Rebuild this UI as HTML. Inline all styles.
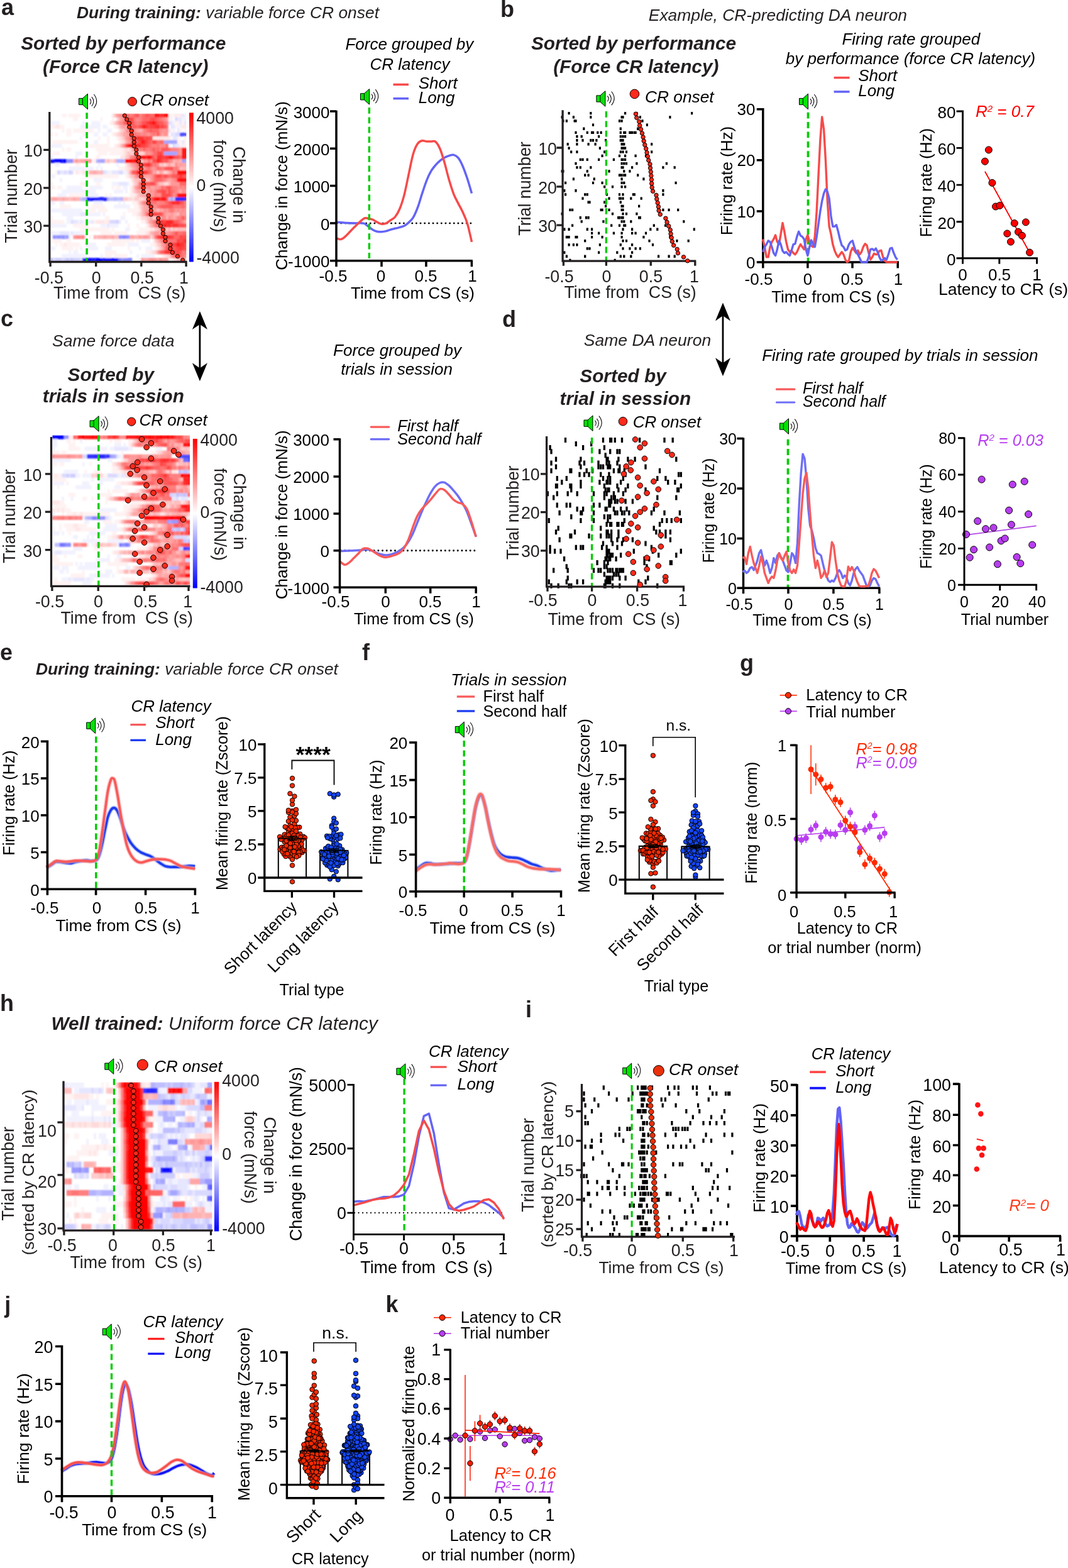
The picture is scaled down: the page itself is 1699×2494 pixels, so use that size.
<!DOCTYPE html>
<html lang="en"><head><meta charset="utf-8"><title>Figure</title>
<style>html,body{margin:0;padding:0;background:#fff}svg{display:block}svg{font-family:"Liberation Sans",Arial,Helvetica,sans-serif}</style></head>
<body>
<svg width="1699" height="2494" viewBox="0 0 1699 2494" font-size="26">
<rect width="1699" height="2494" fill="#fff"/>
<text x="2" y="24" font-size="36" font-weight="bold" fill="#231f20">a</text>
<text x="122" y="29.3" font-size="26.4" font-style="italic" fill="#231f20"><tspan font-weight="bold">During training:</tspan> variable force CR onset</text>
<text x="196.3" y="78.8" font-size="29.8" text-anchor="middle" font-weight="bold" font-style="italic" fill="#231f20">Sorted by performance</text>
<text x="199.7" y="115.5" font-size="29.8" text-anchor="middle" font-weight="bold" font-style="italic" fill="#231f20">(Force CR latency)</text>
<g transform="translate(125 149) scale(1)" stroke="#000" fill="none"><path d="M0.5 7.4H6.5L14.5 0.2V24.8L6.5 17.6H0.5Z" fill="#00e400" stroke-width="1" stroke-linejoin="miter"/><path d="M6.4 7.4V17.6" stroke-width="1"/><path d="M17.9 8.2Q21.7 12.5 17.9 16.8M20.9 5.2Q26.9 12.5 20.9 19.8M24.3 1Q33.1 12 24.3 22.8" stroke-width="1.05"/></g>
<circle cx="210.5" cy="161.6" r="7" fill="#ff2a1a" stroke="#000" stroke-width="1"/>
<text x="222.5" y="168.4" font-size="26.3" font-style="italic">CR onset</text>
<clipPath id="hm1"><rect x="80.4" y="180.4" width="215.9" height="235.8"/></clipPath>
<filter id="hm1b" x="-5%" y="-5%" width="110%" height="110%"><feGaussianBlur stdDeviation="1 0.8"/></filter>
<g clip-path="url(#hm1)"><g filter="url(#hm1b)">
<path d="M87.6 253h11.1v6.3h-11.1zM102 253h3.9v6.3h-3.9zM134.4 410.2h3.9v6.3h-3.9zM141.6 410.2h3.9v6.3h-3.9zM152.4 410.2h11.1v6.3h-11.1z" fill="#0000ff"/>
<path d="M76.4 253h11.5v6.3h-11.5zM98.4 253h3.9v6.3h-3.9zM138 313.4h3.9v6.3h-3.9zM145.2 313.4h3.9v6.3h-3.9zM138 410.2h3.9v6.3h-3.9zM166.8 410.2h18.3v6.3h-18.3z" fill="#0d0dff"/>
<path d="M141.6 313.4h3.9v6.3h-3.9zM148.8 313.4h7.5v6.3h-7.5zM159.6 313.4h3.9v6.3h-3.9zM166.8 313.4h3.9v6.3h-3.9zM130.8 410.2h3.9v6.3h-3.9zM145.2 410.2h7.5v6.3h-7.5zM163.2 410.2h3.9v6.3h-3.9zM184.8 410.2h3.9v6.3h-3.9z" fill="#1919ff"/>
<path d="M156 313.4h3.9v6.3h-3.9zM163.2 313.4h3.9v6.3h-3.9zM278.3 313.4h14.7v6.3h-14.7z" fill="#2626ff"/>
<path d="M292.7 313.4h7.9v6.3h-7.9z" fill="#3333ff"/>
<path d="M285.5 210.6h15.1v6.3h-15.1z" fill="#4d4dff"/>
<path d="M188.4 410.2h3.9v6.3h-3.9z" fill="#7373ff"/>
<path d="M195.5 373.9h3.9v6.3h-3.9zM195.5 410.2h14.7v6.3h-14.7z" fill="#8080ff"/>
<path d="M105.6 253h11.1v6.3h-11.1zM84 373.9h3.9v6.3h-3.9zM91.2 373.9h3.9v6.3h-3.9zM98.4 373.9h3.9v6.3h-3.9zM188.4 373.9h7.5v6.3h-7.5zM199.1 373.9h3.9v6.3h-3.9zM191.9 410.2h3.9v6.3h-3.9z" fill="#8c8cff"/>
<path d="M289.1 253h3.9v6.3h-3.9zM87.6 373.9h3.9v6.3h-3.9zM94.8 373.9h3.9v6.3h-3.9zM105.6 373.9h3.9v6.3h-3.9zM202.7 373.9h3.9v6.3h-3.9z" fill="#9999ff"/>
<path d="M260.3 222.7h21.9v6.3h-21.9zM260.3 240.9h21.9v6.3h-21.9zM156 253h11.1v6.3h-11.1zM191.9 253h3.9v6.3h-3.9zM292.7 253h7.9v6.3h-7.9zM271.1 313.4h3.9v6.3h-3.9zM102 373.9h3.9v6.3h-3.9z" fill="#a6a6ff"/>
<path d="M152.4 253h3.9v6.3h-3.9zM184.8 253h7.5v6.3h-7.5zM195.5 253h3.9v6.3h-3.9zM130.8 313.4h7.5v6.3h-7.5zM170.4 313.4h3.9v6.3h-3.9zM181.2 313.4h3.9v6.3h-3.9zM191.9 313.4h3.9v6.3h-3.9z" fill="#b2b2ff"/>
<path d="M127.2 313.4h3.9v6.3h-3.9zM174 313.4h7.5v6.3h-7.5zM184.8 313.4h7.5v6.3h-7.5zM267.5 313.4h3.9v6.3h-3.9zM274.7 313.4h3.9v6.3h-3.9zM76.4 410.2h7.9v6.3h-7.9zM105.6 410.2h3.9v6.3h-3.9zM112.8 410.2h3.9v6.3h-3.9z" fill="#bfbfff"/>
<path d="M91.2 271.1h3.9v6.3h-3.9zM109.2 271.1h3.9v6.3h-3.9zM184.8 349.7h3.9v6.3h-3.9zM87.6 410.2h11.1v6.3h-11.1zM102 410.2h3.9v6.3h-3.9zM109.2 410.2h3.9v6.3h-3.9zM116.4 410.2h11.1v6.3h-11.1z" fill="#ccccff"/>
<path d="M278.3 186.4h3.9v6.3h-3.9zM267.5 192.5h3.9v6.3h-3.9zM278.3 210.6h7.5v6.3h-7.5zM274.7 228.8h3.9v6.3h-3.9zM102 271.1h3.9v6.3h-3.9zM112.8 271.1h3.9v6.3h-3.9zM163.2 271.1h3.9v6.3h-3.9zM188.4 271.1h7.5v6.3h-7.5zM112.8 349.7h3.9v6.3h-3.9zM174 349.7h11.1v6.3h-11.1zM84 410.2h3.9v6.3h-3.9zM98.4 410.2h3.9v6.3h-3.9zM127.2 410.2h3.9v6.3h-3.9z" fill="#d9d9ff"/>
<path d="M289.1 180.4h3.9v6.3h-3.9zM281.9 186.4h7.5v6.3h-7.5zM271.1 192.5h3.9v6.3h-3.9zM285.5 192.5h3.9v6.3h-3.9zM292.7 192.5h7.9v6.3h-7.9zM271.1 198.5h7.5v6.3h-7.5zM267.5 204.6h3.9v6.3h-3.9zM281.9 204.6h3.9v6.3h-3.9zM271.1 210.6h7.5v6.3h-7.5zM274.7 216.7h7.5v6.3h-7.5zM289.1 222.7h3.9v6.3h-3.9zM278.3 228.8h7.5v6.3h-7.5zM94.8 271.1h7.5v6.3h-7.5zM105.6 271.1h3.9v6.3h-3.9zM166.8 271.1h3.9v6.3h-3.9zM177.6 271.1h11.1v6.3h-11.1zM188.4 289.2h14.7v6.3h-14.7zM127.2 337.6h11.1v6.3h-11.1zM116.4 349.7h7.5v6.3h-7.5zM127.2 349.7h3.9v6.3h-3.9zM138 349.7h3.9v6.3h-3.9zM145.2 349.7h3.9v6.3h-3.9zM188.4 349.7h3.9v6.3h-3.9zM170.4 355.7h3.9v6.3h-3.9zM94.8 367.8h14.7v6.3h-14.7zM112.8 367.8h3.9v6.3h-3.9z" fill="#e6e6ff"/>
<path d="M292.7 180.4h7.9v6.3h-7.9zM271.1 186.4h3.9v6.3h-3.9zM289.1 186.4h11.5v6.3h-11.5zM76.4 192.5h18.7v6.3h-18.7zM130.8 192.5h3.9v6.3h-3.9zM145.2 192.5h14.7v6.3h-14.7zM274.7 192.5h3.9v6.3h-3.9zM127.2 198.5h32.7v6.3h-32.7zM163.2 198.5h7.5v6.3h-7.5zM281.9 198.5h7.5v6.3h-7.5zM156 204.6h3.9v6.3h-3.9zM170.4 204.6h7.5v6.3h-7.5zM274.7 204.6h3.9v6.3h-3.9zM148.8 210.6h7.5v6.3h-7.5zM163.2 210.6h7.5v6.3h-7.5zM127.2 216.7h3.9v6.3h-3.9zM148.8 222.7h7.5v6.3h-7.5zM76.4 228.8h22.3v6.3h-22.3zM267.5 228.8h3.9v6.3h-3.9zM289.1 228.8h3.9v6.3h-3.9zM120 240.9h11.1v6.3h-11.1zM76.4 246.9h7.9v6.3h-7.9zM120 246.9h3.9v6.3h-3.9zM87.6 259h7.5v6.3h-7.5zM156 259h3.9v6.3h-3.9zM184.8 259h3.9v6.3h-3.9zM109.2 265h39.9v6.3h-39.9zM152.4 265h3.9v6.3h-3.9zM159.6 265h3.9v6.3h-3.9zM170.4 271.1h7.5v6.3h-7.5zM195.5 271.1h7.5v6.3h-7.5zM76.4 277.1h11.5v6.3h-11.5zM94.8 283.2h3.9v6.3h-3.9zM148.8 283.2h14.7v6.3h-14.7zM177.6 289.2h11.1v6.3h-11.1zM202.7 289.2h3.9v6.3h-3.9zM105.6 295.3h25.5v6.3h-25.5zM141.6 295.3h21.9v6.3h-21.9zM195.5 295.3h7.5v6.3h-7.5zM98.4 301.3h54.3v6.3h-54.3zM181.2 301.3h14.7v6.3h-14.7zM199.1 301.3h3.9v6.3h-3.9zM91.2 307.4h14.7v6.3h-14.7zM141.6 307.4h14.7v6.3h-14.7zM76.4 319.5h11.5v6.3h-11.5zM94.8 319.5h7.5v6.3h-7.5zM148.8 319.5h14.7v6.3h-14.7zM188.4 319.5h3.9v6.3h-3.9zM195.5 319.5h3.9v6.3h-3.9zM181.2 325.5h25.5v6.3h-25.5zM76.4 331.6h54.7v6.3h-54.7zM98.4 337.6h29.1v6.3h-29.1zM138 337.6h21.9v6.3h-21.9zM163.2 337.6h3.9v6.3h-3.9zM105.6 343.6h11.1v6.3h-11.1zM191.9 343.6h7.5v6.3h-7.5zM105.6 349.7h7.5v6.3h-7.5zM123.6 349.7h3.9v6.3h-3.9zM130.8 349.7h7.5v6.3h-7.5zM141.6 349.7h3.9v6.3h-3.9zM199.1 349.7h3.9v6.3h-3.9zM76.4 355.7h29.5v6.3h-29.5zM159.6 355.7h11.1v6.3h-11.1zM174 355.7h14.7v6.3h-14.7zM199.1 361.8h7.5v6.3h-7.5zM76.4 367.8h18.7v6.3h-18.7zM109.2 367.8h3.9v6.3h-3.9zM116.4 367.8h18.3v6.3h-18.3zM109.2 373.9h3.9v6.3h-3.9zM224.3 379.9h14.7v6.3h-14.7zM134.4 386h18.3v6.3h-18.3zM202.7 386h18.3v6.3h-18.3zM76.4 392h11.5v6.3h-11.5zM127.2 392h3.9v6.3h-3.9zM138 392h18.3v6.3h-18.3zM166.8 392h11.1v6.3h-11.1zM220.7 392h3.9v6.3h-3.9zM231.5 392h11.1v6.3h-11.1zM109.2 398.1h3.9v6.3h-3.9zM116.4 398.1h7.5v6.3h-7.5zM206.3 398.1h3.9v6.3h-3.9zM98.4 404.1h39.9v6.3h-39.9zM159.6 404.1h3.9v6.3h-3.9zM217.1 404.1h3.9v6.3h-3.9zM224.3 404.1h21.9v6.3h-21.9z" fill="#f2f2ff"/>
<path d="M98.4 180.4h7.5v6.3h-7.5zM109.2 180.4h18.3v6.3h-18.3zM267.5 180.4h11.1v6.3h-11.1zM281.9 180.4h3.9v6.3h-3.9zM116.4 186.4h7.5v6.3h-7.5zM159.6 186.4h3.9v6.3h-3.9zM177.6 186.4h3.9v6.3h-3.9zM267.5 186.4h3.9v6.3h-3.9zM174 192.5h3.9v6.3h-3.9zM278.3 192.5h7.5v6.3h-7.5zM289.1 192.5h3.9v6.3h-3.9zM76.4 198.5h11.5v6.3h-11.5zM94.8 198.5h7.5v6.3h-7.5zM181.2 198.5h3.9v6.3h-3.9zM278.3 198.5h3.9v6.3h-3.9zM98.4 204.6h3.9v6.3h-3.9zM105.6 204.6h7.5v6.3h-7.5zM116.4 204.6h32.7v6.3h-32.7zM271.1 204.6h3.9v6.3h-3.9zM285.5 204.6h3.9v6.3h-3.9zM292.7 204.6h7.9v6.3h-7.9zM76.4 210.6h7.9v6.3h-7.9zM87.6 210.6h3.9v6.3h-3.9zM105.6 210.6h7.5v6.3h-7.5zM130.8 210.6h7.5v6.3h-7.5zM177.6 210.6h3.9v6.3h-3.9zM156 216.7h3.9v6.3h-3.9zM170.4 216.7h3.9v6.3h-3.9zM184.8 216.7h3.9v6.3h-3.9zM281.9 216.7h3.9v6.3h-3.9zM292.7 216.7h7.9v6.3h-7.9zM84 222.7h39.9v6.3h-39.9zM170.4 222.7h3.9v6.3h-3.9zM188.4 222.7h3.9v6.3h-3.9zM281.9 222.7h7.5v6.3h-7.5zM292.7 222.7h7.9v6.3h-7.9zM141.6 228.8h32.7v6.3h-32.7zM181.2 228.8h3.9v6.3h-3.9zM285.5 228.8h3.9v6.3h-3.9zM292.7 228.8h7.9v6.3h-7.9zM98.4 234.8h3.9v6.3h-3.9zM105.6 234.8h7.5v6.3h-7.5zM152.4 234.8h43.5v6.3h-43.5zM84 240.9h11.1v6.3h-11.1zM156 240.9h14.7v6.3h-14.7zM174 240.9h21.9v6.3h-21.9zM152.4 246.9h7.5v6.3h-7.5zM145.2 253h7.5v6.3h-7.5zM120 259h7.5v6.3h-7.5zM188.4 265h11.1v6.3h-11.1zM87.6 271.1h3.9v6.3h-3.9zM123.6 271.1h7.5v6.3h-7.5zM134.4 277.1h54.3v6.3h-54.3zM199.1 277.1h3.9v6.3h-3.9zM206.3 283.2h3.9v6.3h-3.9zM76.4 289.2h7.9v6.3h-7.9zM127.2 289.2h11.1v6.3h-11.1zM152.4 289.2h7.5v6.3h-7.5zM76.4 295.3h11.5v6.3h-11.5zM91.2 295.3h7.5v6.3h-7.5zM177.6 295.3h3.9v6.3h-3.9zM184.8 295.3h7.5v6.3h-7.5zM206.3 295.3h3.9v6.3h-3.9zM206.3 301.3h3.9v6.3h-3.9zM109.2 307.4h25.5v6.3h-25.5zM166.8 307.4h3.9v6.3h-3.9zM174 307.4h3.9v6.3h-3.9zM206.3 307.4h7.5v6.3h-7.5zM209.9 319.5h7.5v6.3h-7.5zM94.8 325.5h18.3v6.3h-18.3zM138 325.5h3.9v6.3h-3.9zM145.2 325.5h21.9v6.3h-21.9zM213.5 325.5h7.5v6.3h-7.5zM141.6 331.6h11.1v6.3h-11.1zM156 331.6h14.7v6.3h-14.7zM202.7 331.6h18.3v6.3h-18.3zM195.5 337.6h3.9v6.3h-3.9zM209.9 337.6h7.5v6.3h-7.5zM76.4 343.6h7.9v6.3h-7.9zM166.8 343.6h7.5v6.3h-7.5zM217.1 343.6h7.5v6.3h-7.5zM76.4 349.7h25.9v6.3h-25.9zM148.8 349.7h3.9v6.3h-3.9zM166.8 349.7h3.9v6.3h-3.9zM224.3 349.7h7.5v6.3h-7.5zM116.4 355.7h25.5v6.3h-25.5zM202.7 355.7h3.9v6.3h-3.9zM217.1 355.7h3.9v6.3h-3.9zM231.5 355.7h3.9v6.3h-3.9zM127.2 361.8h47.1v6.3h-47.1zM177.6 361.8h3.9v6.3h-3.9zM220.7 361.8h18.3v6.3h-18.3zM159.6 367.8h18.3v6.3h-18.3zM181.2 367.8h21.9v6.3h-21.9zM217.1 367.8h14.7v6.3h-14.7zM134.4 373.9h3.9v6.3h-3.9zM141.6 373.9h3.9v6.3h-3.9zM84 379.9h14.7v6.3h-14.7zM105.6 379.9h7.5v6.3h-7.5zM177.6 379.9h36.3v6.3h-36.3zM217.1 379.9h3.9v6.3h-3.9zM242.3 379.9h3.9v6.3h-3.9zM87.6 386h3.9v6.3h-3.9zM94.8 386h7.5v6.3h-7.5zM105.6 386h21.9v6.3h-21.9zM170.4 386h29.1v6.3h-29.1zM238.7 386h7.5v6.3h-7.5zM98.4 392h18.3v6.3h-18.3zM120 392h3.9v6.3h-3.9zM202.7 392h3.9v6.3h-3.9zM245.9 392h3.9v6.3h-3.9zM166.8 398.1h18.3v6.3h-18.3zM231.5 398.1h7.5v6.3h-7.5zM166.8 404.1h11.1v6.3h-11.1zM181.2 404.1h21.9v6.3h-21.9zM256.7 404.1h3.9v6.3h-3.9zM220.7 410.2h3.9v6.3h-3.9zM267.5 410.2h7.5v6.3h-7.5z" fill="#fff2f2"/>
<path d="M177.6 180.4h3.9v6.3h-3.9zM278.3 180.4h3.9v6.3h-3.9zM285.5 180.4h3.9v6.3h-3.9zM177.6 192.5h3.9v6.3h-3.9zM87.6 198.5h7.5v6.3h-7.5zM184.8 198.5h3.9v6.3h-3.9zM289.1 198.5h11.5v6.3h-11.5zM188.4 204.6h3.9v6.3h-3.9zM181.2 210.6h3.9v6.3h-3.9zM188.4 216.7h3.9v6.3h-3.9zM242.3 216.7h29.1v6.3h-29.1zM191.9 222.7h3.9v6.3h-3.9zM184.8 228.8h3.9v6.3h-3.9zM195.5 234.8h3.9v6.3h-3.9zM202.7 234.8h3.9v6.3h-3.9zM195.5 240.9h3.9v6.3h-3.9zM191.9 246.9h7.5v6.3h-7.5zM199.1 259h3.9v6.3h-3.9zM199.1 265h3.9v6.3h-3.9zM120 271.1h3.9v6.3h-3.9zM130.8 271.1h11.1v6.3h-11.1zM202.7 277.1h3.9v6.3h-3.9zM209.9 289.2h3.9v6.3h-3.9zM213.5 307.4h3.9v6.3h-3.9zM209.9 313.4h3.9v6.3h-3.9zM217.1 319.5h3.9v6.3h-3.9zM220.7 331.6h3.9v6.3h-3.9zM217.1 337.6h3.9v6.3h-3.9zM152.4 349.7h14.7v6.3h-14.7zM170.4 349.7h3.9v6.3h-3.9zM238.7 361.8h7.5v6.3h-7.5zM231.5 367.8h3.9v6.3h-3.9zM102 386h3.9v6.3h-3.9zM245.9 386h3.9v6.3h-3.9zM249.5 392h3.9v6.3h-3.9zM238.7 398.1h3.9v6.3h-3.9zM260.3 404.1h3.9v6.3h-3.9zM274.7 410.2h3.9v6.3h-3.9z" fill="#ffe6e6"/>
<path d="M184.8 186.4h3.9v6.3h-3.9zM184.8 210.6h3.9v6.3h-3.9zM191.9 216.7h3.9v6.3h-3.9zM195.5 222.7h3.9v6.3h-3.9zM188.4 228.8h3.9v6.3h-3.9zM199.1 234.8h3.9v6.3h-3.9zM199.1 240.9h3.9v6.3h-3.9zM224.3 240.9h3.9v6.3h-3.9zM174 253h7.5v6.3h-7.5zM260.3 259h3.9v6.3h-3.9zM202.7 265h3.9v6.3h-3.9zM202.7 271.1h3.9v6.3h-3.9zM260.3 271.1h3.9v6.3h-3.9zM209.9 283.2h3.9v6.3h-3.9zM260.3 289.2h7.5v6.3h-7.5zM209.9 295.3h3.9v6.3h-3.9zM209.9 301.3h3.9v6.3h-3.9zM202.7 313.4h7.5v6.3h-7.5zM220.7 313.4h7.5v6.3h-7.5zM220.7 325.5h3.9v6.3h-3.9zM220.7 337.6h3.9v6.3h-3.9zM224.3 343.6h7.5v6.3h-7.5zM231.5 349.7h3.9v6.3h-3.9zM235.1 355.7h3.9v6.3h-3.9zM271.1 361.8h3.9v6.3h-3.9zM235.1 367.8h3.9v6.3h-3.9zM238.7 373.9h3.9v6.3h-3.9zM242.3 398.1h3.9v6.3h-3.9zM263.9 404.1h3.9v6.3h-3.9zM278.3 410.2h3.9v6.3h-3.9z" fill="#ffd9d9"/>
<path d="M181.2 192.5h3.9v6.3h-3.9zM191.9 204.6h3.9v6.3h-3.9zM188.4 210.6h3.9v6.3h-3.9zM206.3 234.8h3.9v6.3h-3.9zM206.3 240.9h7.5v6.3h-7.5zM220.7 240.9h3.9v6.3h-3.9zM199.1 246.9h3.9v6.3h-3.9zM166.8 253h3.9v6.3h-3.9zM202.7 259h3.9v6.3h-3.9zM253.1 259h3.9v6.3h-3.9zM206.3 265h3.9v6.3h-3.9zM249.5 271.1h3.9v6.3h-3.9zM263.9 271.1h3.9v6.3h-3.9zM206.3 277.1h3.9v6.3h-3.9zM227.9 283.2h3.9v6.3h-3.9zM213.5 289.2h3.9v6.3h-3.9zM224.3 301.3h3.9v6.3h-3.9zM217.1 307.4h3.9v6.3h-3.9zM195.5 313.4h7.5v6.3h-7.5zM213.5 313.4h7.5v6.3h-7.5zM227.9 313.4h3.9v6.3h-3.9zM231.5 343.6h3.9v6.3h-3.9zM242.3 343.6h7.5v6.3h-7.5zM245.9 361.8h3.9v6.3h-3.9zM263.9 361.8h3.9v6.3h-3.9zM278.3 361.8h3.9v6.3h-3.9zM245.9 379.9h3.9v6.3h-3.9zM249.5 386h3.9v6.3h-3.9zM253.1 392h3.9v6.3h-3.9zM245.9 398.1h3.9v6.3h-3.9zM267.5 404.1h3.9v6.3h-3.9z" fill="#ffcccc"/>
<path d="M181.2 180.4h3.9v6.3h-3.9zM188.4 198.5h3.9v6.3h-3.9zM195.5 204.6h3.9v6.3h-3.9zM191.9 210.6h3.9v6.3h-3.9zM195.5 216.7h3.9v6.3h-3.9zM202.7 240.9h3.9v6.3h-3.9zM213.5 240.9h7.5v6.3h-7.5zM227.9 240.9h3.9v6.3h-3.9zM202.7 246.9h3.9v6.3h-3.9zM170.4 253h3.9v6.3h-3.9zM181.2 253h3.9v6.3h-3.9zM224.3 253h3.9v6.3h-3.9zM256.7 259h3.9v6.3h-3.9zM263.9 259h3.9v6.3h-3.9zM271.1 259h7.5v6.3h-7.5zM285.5 265h3.9v6.3h-3.9zM156 271.1h3.9v6.3h-3.9zM209.9 277.1h3.9v6.3h-3.9zM213.5 283.2h7.5v6.3h-7.5zM231.5 283.2h7.5v6.3h-7.5zM253.1 289.2h7.5v6.3h-7.5zM267.5 289.2h3.9v6.3h-3.9zM213.5 301.3h3.9v6.3h-3.9zM227.9 301.3h3.9v6.3h-3.9zM109.2 313.4h3.9v6.3h-3.9zM220.7 319.5h3.9v6.3h-3.9zM224.3 325.5h3.9v6.3h-3.9zM224.3 331.6h3.9v6.3h-3.9zM249.5 331.6h3.9v6.3h-3.9zM224.3 337.6h3.9v6.3h-3.9zM281.9 337.6h3.9v6.3h-3.9zM235.1 343.6h3.9v6.3h-3.9zM249.5 343.6h3.9v6.3h-3.9zM249.5 361.8h3.9v6.3h-3.9zM274.7 361.8h3.9v6.3h-3.9zM281.9 361.8h18.7v6.3h-18.7zM152.4 373.9h3.9v6.3h-3.9zM181.2 373.9h7.5v6.3h-7.5zM253.1 386h3.9v6.3h-3.9zM281.9 410.2h3.9v6.3h-3.9z" fill="#ffbfbf"/>
<path d="M188.4 186.4h3.9v6.3h-3.9zM220.7 204.6h3.9v6.3h-3.9zM199.1 222.7h3.9v6.3h-3.9zM191.9 228.8h3.9v6.3h-3.9zM116.4 253h3.9v6.3h-3.9zM123.6 253h3.9v6.3h-3.9zM274.7 253h3.9v6.3h-3.9zM285.5 253h3.9v6.3h-3.9zM206.3 259h3.9v6.3h-3.9zM209.9 265h3.9v6.3h-3.9zM289.1 265h11.5v6.3h-11.5zM141.6 271.1h7.5v6.3h-7.5zM152.4 271.1h3.9v6.3h-3.9zM159.6 271.1h3.9v6.3h-3.9zM256.7 271.1h3.9v6.3h-3.9zM267.5 271.1h3.9v6.3h-3.9zM220.7 283.2h7.5v6.3h-7.5zM217.1 289.2h3.9v6.3h-3.9zM231.5 301.3h3.9v6.3h-3.9zM285.5 301.3h3.9v6.3h-3.9zM220.7 307.4h3.9v6.3h-3.9zM76.4 313.4h7.9v6.3h-7.9zM91.2 313.4h7.5v6.3h-7.5zM102 313.4h7.5v6.3h-7.5zM112.8 313.4h3.9v6.3h-3.9zM120 313.4h7.5v6.3h-7.5zM238.7 331.6h3.9v6.3h-3.9zM278.3 337.6h3.9v6.3h-3.9zM253.1 343.6h3.9v6.3h-3.9zM263.9 343.6h3.9v6.3h-3.9zM235.1 349.7h3.9v6.3h-3.9zM238.7 355.7h3.9v6.3h-3.9zM256.7 361.8h3.9v6.3h-3.9zM267.5 361.8h3.9v6.3h-3.9zM238.7 367.8h3.9v6.3h-3.9zM148.8 373.9h3.9v6.3h-3.9zM156 373.9h7.5v6.3h-7.5zM170.4 373.9h7.5v6.3h-7.5zM213.5 373.9h7.5v6.3h-7.5zM242.3 373.9h3.9v6.3h-3.9zM249.5 379.9h3.9v6.3h-3.9zM256.7 392h3.9v6.3h-3.9zM285.5 410.2h15.1v6.3h-15.1z" fill="#ffb2b2"/>
<path d="M263.9 186.4h3.9v6.3h-3.9zM184.8 192.5h3.9v6.3h-3.9zM191.9 198.5h3.9v6.3h-3.9zM199.1 198.5h3.9v6.3h-3.9zM217.1 204.6h3.9v6.3h-3.9zM224.3 204.6h3.9v6.3h-3.9zM195.5 210.6h7.5v6.3h-7.5zM256.7 210.6h3.9v6.3h-3.9zM209.9 234.8h3.9v6.3h-3.9zM127.2 253h7.5v6.3h-7.5zM138 253h3.9v6.3h-3.9zM220.7 253h3.9v6.3h-3.9zM278.3 253h7.5v6.3h-7.5zM267.5 259h3.9v6.3h-3.9zM281.9 259h3.9v6.3h-3.9zM289.1 259h11.5v6.3h-11.5zM224.3 265h3.9v6.3h-3.9zM148.8 271.1h3.9v6.3h-3.9zM242.3 271.1h7.5v6.3h-7.5zM253.1 271.1h3.9v6.3h-3.9zM220.7 277.1h3.9v6.3h-3.9zM227.9 277.1h11.1v6.3h-11.1zM267.5 283.2h3.9v6.3h-3.9zM249.5 289.2h3.9v6.3h-3.9zM213.5 295.3h3.9v6.3h-3.9zM238.7 295.3h7.5v6.3h-7.5zM217.1 301.3h7.5v6.3h-7.5zM235.1 301.3h3.9v6.3h-3.9zM224.3 307.4h7.5v6.3h-7.5zM84 313.4h7.5v6.3h-7.5zM98.4 313.4h3.9v6.3h-3.9zM116.4 313.4h3.9v6.3h-3.9zM227.9 325.5h7.5v6.3h-7.5zM227.9 331.6h3.9v6.3h-3.9zM235.1 331.6h3.9v6.3h-3.9zM245.9 331.6h3.9v6.3h-3.9zM253.1 331.6h7.5v6.3h-7.5zM227.9 337.6h3.9v6.3h-3.9zM263.9 337.6h7.5v6.3h-7.5zM274.7 337.6h3.9v6.3h-3.9zM238.7 343.6h3.9v6.3h-3.9zM274.7 343.6h3.9v6.3h-3.9zM292.7 349.7h7.9v6.3h-7.9zM253.1 361.8h3.9v6.3h-3.9zM260.3 361.8h3.9v6.3h-3.9zM242.3 367.8h3.9v6.3h-3.9zM253.1 367.8h3.9v6.3h-3.9zM163.2 373.9h7.5v6.3h-7.5zM177.6 373.9h3.9v6.3h-3.9zM206.3 373.9h7.5v6.3h-7.5zM224.3 373.9h3.9v6.3h-3.9zM235.1 373.9h3.9v6.3h-3.9zM227.9 410.2h7.5v6.3h-7.5zM249.5 410.2h3.9v6.3h-3.9z" fill="#ffa6a6"/>
<path d="M184.8 180.4h3.9v6.3h-3.9zM191.9 186.4h3.9v6.3h-3.9zM195.5 198.5h3.9v6.3h-3.9zM202.7 198.5h3.9v6.3h-3.9zM199.1 204.6h3.9v6.3h-3.9zM213.5 204.6h3.9v6.3h-3.9zM260.3 204.6h3.9v6.3h-3.9zM202.7 210.6h7.5v6.3h-7.5zM235.1 210.6h3.9v6.3h-3.9zM263.9 210.6h3.9v6.3h-3.9zM199.1 216.7h3.9v6.3h-3.9zM202.7 222.7h3.9v6.3h-3.9zM213.5 234.8h7.5v6.3h-7.5zM285.5 234.8h3.9v6.3h-3.9zM235.1 240.9h3.9v6.3h-3.9zM285.5 240.9h3.9v6.3h-3.9zM120 253h3.9v6.3h-3.9zM134.4 253h3.9v6.3h-3.9zM141.6 253h3.9v6.3h-3.9zM227.9 253h7.5v6.3h-7.5zM209.9 259h3.9v6.3h-3.9zM285.5 259h3.9v6.3h-3.9zM213.5 265h3.9v6.3h-3.9zM227.9 265h3.9v6.3h-3.9zM242.3 265h3.9v6.3h-3.9zM206.3 271.1h3.9v6.3h-3.9zM271.1 271.1h3.9v6.3h-3.9zM213.5 277.1h3.9v6.3h-3.9zM224.3 277.1h3.9v6.3h-3.9zM238.7 277.1h3.9v6.3h-3.9zM238.7 283.2h3.9v6.3h-3.9zM263.9 283.2h3.9v6.3h-3.9zM271.1 283.2h3.9v6.3h-3.9zM271.1 289.2h14.7v6.3h-14.7zM231.5 295.3h3.9v6.3h-3.9zM245.9 295.3h7.5v6.3h-7.5zM242.3 301.3h3.9v6.3h-3.9zM281.9 301.3h3.9v6.3h-3.9zM292.7 301.3h7.9v6.3h-7.9zM238.7 307.4h7.5v6.3h-7.5zM231.5 313.4h3.9v6.3h-3.9zM224.3 319.5h3.9v6.3h-3.9zM231.5 331.6h3.9v6.3h-3.9zM242.3 331.6h3.9v6.3h-3.9zM263.9 331.6h3.9v6.3h-3.9zM278.3 331.6h3.9v6.3h-3.9zM285.5 331.6h3.9v6.3h-3.9zM292.7 331.6h7.9v6.3h-7.9zM260.3 337.6h3.9v6.3h-3.9zM271.1 337.6h3.9v6.3h-3.9zM289.1 337.6h11.5v6.3h-11.5zM271.1 343.6h3.9v6.3h-3.9zM278.3 343.6h3.9v6.3h-3.9zM238.7 349.7h3.9v6.3h-3.9zM242.3 355.7h3.9v6.3h-3.9zM245.9 367.8h7.5v6.3h-7.5zM263.9 367.8h3.9v6.3h-3.9zM116.4 373.9h3.9v6.3h-3.9zM220.7 373.9h3.9v6.3h-3.9zM227.9 373.9h7.5v6.3h-7.5zM253.1 379.9h3.9v6.3h-3.9zM256.7 386h3.9v6.3h-3.9zM249.5 398.1h3.9v6.3h-3.9zM271.1 404.1h3.9v6.3h-3.9zM224.3 410.2h3.9v6.3h-3.9zM235.1 410.2h3.9v6.3h-3.9zM245.9 410.2h3.9v6.3h-3.9zM256.7 410.2h11.1v6.3h-11.1z" fill="#ff9999"/>
<path d="M188.4 180.4h11.1v6.3h-11.1zM195.5 186.4h3.9v6.3h-3.9zM217.1 186.4h3.9v6.3h-3.9zM260.3 186.4h3.9v6.3h-3.9zM188.4 192.5h7.5v6.3h-7.5zM253.1 204.6h7.5v6.3h-7.5zM263.9 204.6h3.9v6.3h-3.9zM209.9 210.6h3.9v6.3h-3.9zM224.3 210.6h3.9v6.3h-3.9zM231.5 210.6h3.9v6.3h-3.9zM253.1 210.6h3.9v6.3h-3.9zM260.3 210.6h3.9v6.3h-3.9zM202.7 216.7h3.9v6.3h-3.9zM195.5 228.8h3.9v6.3h-3.9zM253.1 228.8h11.1v6.3h-11.1zM281.9 234.8h3.9v6.3h-3.9zM231.5 240.9h3.9v6.3h-3.9zM238.7 240.9h3.9v6.3h-3.9zM281.9 240.9h3.9v6.3h-3.9zM206.3 246.9h3.9v6.3h-3.9zM238.7 253h3.9v6.3h-3.9zM271.1 253h3.9v6.3h-3.9zM213.5 259h3.9v6.3h-3.9zM249.5 259h3.9v6.3h-3.9zM278.3 259h3.9v6.3h-3.9zM220.7 265h3.9v6.3h-3.9zM238.7 265h3.9v6.3h-3.9zM245.9 265h3.9v6.3h-3.9zM281.9 265h3.9v6.3h-3.9zM278.3 271.1h3.9v6.3h-3.9zM274.7 283.2h3.9v6.3h-3.9zM217.1 295.3h3.9v6.3h-3.9zM235.1 295.3h3.9v6.3h-3.9zM253.1 295.3h3.9v6.3h-3.9zM281.9 295.3h3.9v6.3h-3.9zM289.1 295.3h3.9v6.3h-3.9zM238.7 301.3h3.9v6.3h-3.9zM289.1 301.3h3.9v6.3h-3.9zM231.5 307.4h7.5v6.3h-7.5zM249.5 307.4h7.5v6.3h-7.5zM274.7 307.4h3.9v6.3h-3.9zM249.5 319.5h3.9v6.3h-3.9zM235.1 325.5h14.7v6.3h-14.7zM260.3 331.6h3.9v6.3h-3.9zM281.9 331.6h3.9v6.3h-3.9zM289.1 331.6h3.9v6.3h-3.9zM285.5 337.6h3.9v6.3h-3.9zM256.7 343.6h7.5v6.3h-7.5zM267.5 343.6h3.9v6.3h-3.9zM289.1 349.7h3.9v6.3h-3.9zM256.7 367.8h7.5v6.3h-7.5zM267.5 367.8h3.9v6.3h-3.9zM120 373.9h11.1v6.3h-11.1zM260.3 386h3.9v6.3h-3.9zM292.7 404.1h7.9v6.3h-7.9zM238.7 410.2h7.5v6.3h-7.5zM253.1 410.2h3.9v6.3h-3.9z" fill="#ff8c8c"/>
<path d="M206.3 180.4h3.9v6.3h-3.9zM220.7 180.4h3.9v6.3h-3.9zM213.5 186.4h3.9v6.3h-3.9zM220.7 186.4h3.9v6.3h-3.9zM256.7 186.4h3.9v6.3h-3.9zM217.1 192.5h3.9v6.3h-3.9zM263.9 192.5h3.9v6.3h-3.9zM206.3 198.5h3.9v6.3h-3.9zM202.7 204.6h3.9v6.3h-3.9zM227.9 204.6h3.9v6.3h-3.9zM217.1 210.6h7.5v6.3h-7.5zM227.9 210.6h3.9v6.3h-3.9zM238.7 210.6h3.9v6.3h-3.9zM245.9 210.6h3.9v6.3h-3.9zM206.3 222.7h3.9v6.3h-3.9zM242.3 228.8h7.5v6.3h-7.5zM220.7 234.8h7.5v6.3h-7.5zM231.5 234.8h7.5v6.3h-7.5zM253.1 234.8h3.9v6.3h-3.9zM271.1 234.8h11.1v6.3h-11.1zM209.9 246.9h3.9v6.3h-3.9zM267.5 253h3.9v6.3h-3.9zM242.3 259h3.9v6.3h-3.9zM217.1 265h3.9v6.3h-3.9zM231.5 265h3.9v6.3h-3.9zM256.7 265h3.9v6.3h-3.9zM274.7 265h3.9v6.3h-3.9zM217.1 277.1h3.9v6.3h-3.9zM242.3 277.1h3.9v6.3h-3.9zM242.3 283.2h3.9v6.3h-3.9zM260.3 283.2h3.9v6.3h-3.9zM227.9 295.3h3.9v6.3h-3.9zM260.3 295.3h3.9v6.3h-3.9zM274.7 295.3h7.5v6.3h-7.5zM285.5 295.3h3.9v6.3h-3.9zM292.7 295.3h7.9v6.3h-7.9zM245.9 301.3h3.9v6.3h-3.9zM278.3 301.3h3.9v6.3h-3.9zM245.9 307.4h3.9v6.3h-3.9zM227.9 319.5h3.9v6.3h-3.9zM253.1 319.5h7.5v6.3h-7.5zM292.7 319.5h7.9v6.3h-7.9zM292.7 325.5h7.9v6.3h-7.9zM267.5 331.6h3.9v6.3h-3.9zM274.7 331.6h3.9v6.3h-3.9zM281.9 343.6h7.5v6.3h-7.5zM292.7 343.6h7.9v6.3h-7.9zM242.3 349.7h3.9v6.3h-3.9zM271.1 367.8h3.9v6.3h-3.9zM130.8 373.9h3.9v6.3h-3.9zM256.7 379.9h3.9v6.3h-3.9zM260.3 392h3.9v6.3h-3.9zM289.1 398.1h3.9v6.3h-3.9z" fill="#ff8080"/>
<path d="M199.1 180.4h3.9v6.3h-3.9zM209.9 180.4h3.9v6.3h-3.9zM224.3 180.4h3.9v6.3h-3.9zM224.3 186.4h3.9v6.3h-3.9zM253.1 186.4h3.9v6.3h-3.9zM213.5 192.5h3.9v6.3h-3.9zM220.7 192.5h3.9v6.3h-3.9zM260.3 192.5h3.9v6.3h-3.9zM263.9 198.5h3.9v6.3h-3.9zM209.9 204.6h3.9v6.3h-3.9zM231.5 204.6h3.9v6.3h-3.9zM213.5 210.6h3.9v6.3h-3.9zM242.3 210.6h3.9v6.3h-3.9zM249.5 222.7h3.9v6.3h-3.9zM238.7 228.8h3.9v6.3h-3.9zM249.5 228.8h3.9v6.3h-3.9zM238.7 234.8h3.9v6.3h-3.9zM245.9 234.8h3.9v6.3h-3.9zM242.3 240.9h3.9v6.3h-3.9zM245.9 246.9h3.9v6.3h-3.9zM285.5 246.9h3.9v6.3h-3.9zM235.1 253h3.9v6.3h-3.9zM217.1 259h3.9v6.3h-3.9zM224.3 259h3.9v6.3h-3.9zM245.9 259h3.9v6.3h-3.9zM235.1 265h3.9v6.3h-3.9zM253.1 265h3.9v6.3h-3.9zM278.3 265h3.9v6.3h-3.9zM238.7 271.1h3.9v6.3h-3.9zM274.7 271.1h3.9v6.3h-3.9zM267.5 277.1h3.9v6.3h-3.9zM256.7 283.2h3.9v6.3h-3.9zM278.3 283.2h3.9v6.3h-3.9zM220.7 289.2h3.9v6.3h-3.9zM245.9 289.2h3.9v6.3h-3.9zM220.7 295.3h7.5v6.3h-7.5zM271.1 295.3h3.9v6.3h-3.9zM263.9 301.3h3.9v6.3h-3.9zM274.7 301.3h3.9v6.3h-3.9zM278.3 307.4h3.9v6.3h-3.9zM235.1 313.4h3.9v6.3h-3.9zM238.7 319.5h11.1v6.3h-11.1zM260.3 319.5h3.9v6.3h-3.9zM249.5 325.5h3.9v6.3h-3.9zM274.7 325.5h14.7v6.3h-14.7zM271.1 331.6h3.9v6.3h-3.9zM231.5 337.6h3.9v6.3h-3.9zM285.5 349.7h3.9v6.3h-3.9zM245.9 355.7h3.9v6.3h-3.9zM253.1 355.7h3.9v6.3h-3.9zM274.7 367.8h3.9v6.3h-3.9zM281.9 367.8h7.5v6.3h-7.5zM245.9 373.9h3.9v6.3h-3.9zM267.5 379.9h11.1v6.3h-11.1zM253.1 398.1h3.9v6.3h-3.9zM292.7 398.1h7.9v6.3h-7.9zM274.7 404.1h3.9v6.3h-3.9zM289.1 404.1h3.9v6.3h-3.9z" fill="#ff7373"/>
<path d="M202.7 180.4h3.9v6.3h-3.9zM227.9 180.4h3.9v6.3h-3.9zM238.7 180.4h7.5v6.3h-7.5zM199.1 186.4h3.9v6.3h-3.9zM227.9 186.4h11.1v6.3h-11.1zM249.5 186.4h3.9v6.3h-3.9zM195.5 192.5h3.9v6.3h-3.9zM217.1 198.5h3.9v6.3h-3.9zM206.3 204.6h3.9v6.3h-3.9zM235.1 204.6h3.9v6.3h-3.9zM242.3 204.6h11.1v6.3h-11.1zM206.3 216.7h3.9v6.3h-3.9zM213.5 222.7h3.9v6.3h-3.9zM238.7 222.7h3.9v6.3h-3.9zM253.1 222.7h7.5v6.3h-7.5zM235.1 228.8h3.9v6.3h-3.9zM263.9 228.8h3.9v6.3h-3.9zM227.9 234.8h3.9v6.3h-3.9zM249.5 234.8h3.9v6.3h-3.9zM267.5 234.8h3.9v6.3h-3.9zM245.9 240.9h3.9v6.3h-3.9zM220.7 259h3.9v6.3h-3.9zM249.5 265h3.9v6.3h-3.9zM260.3 265h3.9v6.3h-3.9zM235.1 271.1h3.9v6.3h-3.9zM256.7 277.1h3.9v6.3h-3.9zM271.1 277.1h3.9v6.3h-3.9zM245.9 283.2h11.1v6.3h-11.1zM285.5 289.2h15.1v6.3h-15.1zM256.7 295.3h3.9v6.3h-3.9zM271.1 301.3h3.9v6.3h-3.9zM271.1 307.4h3.9v6.3h-3.9zM231.5 319.5h7.5v6.3h-7.5zM263.9 319.5h3.9v6.3h-3.9zM253.1 325.5h3.9v6.3h-3.9zM289.1 325.5h3.9v6.3h-3.9zM256.7 337.6h3.9v6.3h-3.9zM245.9 349.7h7.5v6.3h-7.5zM281.9 349.7h3.9v6.3h-3.9zM249.5 355.7h3.9v6.3h-3.9zM289.1 367.8h11.5v6.3h-11.5zM278.3 373.9h7.5v6.3h-7.5zM260.3 379.9h7.5v6.3h-7.5zM278.3 379.9h3.9v6.3h-3.9zM263.9 386h7.5v6.3h-7.5zM281.9 404.1h7.5v6.3h-7.5z" fill="#ff6666"/>
<path d="M213.5 180.4h3.9v6.3h-3.9zM235.1 180.4h3.9v6.3h-3.9zM209.9 186.4h3.9v6.3h-3.9zM245.9 186.4h3.9v6.3h-3.9zM209.9 192.5h3.9v6.3h-3.9zM224.3 192.5h3.9v6.3h-3.9zM253.1 192.5h7.5v6.3h-7.5zM209.9 198.5h7.5v6.3h-7.5zM238.7 204.6h3.9v6.3h-3.9zM249.5 210.6h3.9v6.3h-3.9zM209.9 216.7h7.5v6.3h-7.5zM209.9 222.7h3.9v6.3h-3.9zM217.1 222.7h3.9v6.3h-3.9zM235.1 222.7h3.9v6.3h-3.9zM242.3 234.8h3.9v6.3h-3.9zM256.7 234.8h11.1v6.3h-11.1zM256.7 240.9h3.9v6.3h-3.9zM213.5 246.9h3.9v6.3h-3.9zM242.3 246.9h3.9v6.3h-3.9zM278.3 246.9h7.5v6.3h-7.5zM260.3 253h7.5v6.3h-7.5zM238.7 259h3.9v6.3h-3.9zM263.9 265h7.5v6.3h-7.5zM209.9 271.1h7.5v6.3h-7.5zM245.9 277.1h3.9v6.3h-3.9zM263.9 277.1h3.9v6.3h-3.9zM274.7 277.1h7.5v6.3h-7.5zM292.7 277.1h7.9v6.3h-7.9zM224.3 289.2h3.9v6.3h-3.9zM231.5 289.2h7.5v6.3h-7.5zM263.9 295.3h3.9v6.3h-3.9zM249.5 301.3h7.5v6.3h-7.5zM238.7 313.4h3.9v6.3h-3.9zM263.9 313.4h3.9v6.3h-3.9zM289.1 319.5h3.9v6.3h-3.9zM256.7 325.5h18.3v6.3h-18.3zM289.1 343.6h3.9v6.3h-3.9zM278.3 349.7h3.9v6.3h-3.9zM292.7 355.7h7.9v6.3h-7.9zM274.7 373.9h3.9v6.3h-3.9zM263.9 392h3.9v6.3h-3.9zM274.7 392h3.9v6.3h-3.9zM256.7 398.1h3.9v6.3h-3.9zM285.5 398.1h3.9v6.3h-3.9z" fill="#ff5959"/>
<path d="M217.1 180.4h3.9v6.3h-3.9zM231.5 180.4h3.9v6.3h-3.9zM202.7 186.4h3.9v6.3h-3.9zM238.7 186.4h7.5v6.3h-7.5zM199.1 192.5h7.5v6.3h-7.5zM227.9 192.5h3.9v6.3h-3.9zM249.5 192.5h3.9v6.3h-3.9zM220.7 198.5h3.9v6.3h-3.9zM235.1 198.5h3.9v6.3h-3.9zM253.1 198.5h3.9v6.3h-3.9zM260.3 198.5h3.9v6.3h-3.9zM227.9 216.7h3.9v6.3h-3.9zM235.1 216.7h7.5v6.3h-7.5zM245.9 222.7h3.9v6.3h-3.9zM199.1 228.8h3.9v6.3h-3.9zM231.5 228.8h3.9v6.3h-3.9zM249.5 240.9h3.9v6.3h-3.9zM242.3 253h7.5v6.3h-7.5zM256.7 253h3.9v6.3h-3.9zM271.1 265h3.9v6.3h-3.9zM253.1 277.1h3.9v6.3h-3.9zM260.3 277.1h3.9v6.3h-3.9zM281.9 277.1h3.9v6.3h-3.9zM289.1 277.1h3.9v6.3h-3.9zM227.9 289.2h3.9v6.3h-3.9zM238.7 289.2h7.5v6.3h-7.5zM267.5 295.3h3.9v6.3h-3.9zM256.7 301.3h7.5v6.3h-7.5zM267.5 301.3h3.9v6.3h-3.9zM256.7 307.4h14.7v6.3h-14.7zM267.5 319.5h3.9v6.3h-3.9zM285.5 319.5h3.9v6.3h-3.9zM235.1 337.6h3.9v6.3h-3.9zM242.3 337.6h3.9v6.3h-3.9zM249.5 337.6h7.5v6.3h-7.5zM274.7 349.7h3.9v6.3h-3.9zM285.5 355.7h7.5v6.3h-7.5zM278.3 367.8h3.9v6.3h-3.9zM289.1 373.9h11.5v6.3h-11.5zM285.5 379.9h3.9v6.3h-3.9zM271.1 386h3.9v6.3h-3.9zM292.7 386h7.9v6.3h-7.9zM271.1 392h3.9v6.3h-3.9zM278.3 392h3.9v6.3h-3.9zM292.7 392h7.9v6.3h-7.9zM278.3 398.1h3.9v6.3h-3.9zM278.3 404.1h3.9v6.3h-3.9z" fill="#ff4d4d"/>
<path d="M206.3 186.4h3.9v6.3h-3.9zM206.3 192.5h3.9v6.3h-3.9zM231.5 192.5h3.9v6.3h-3.9zM238.7 198.5h7.5v6.3h-7.5zM256.7 198.5h3.9v6.3h-3.9zM231.5 216.7h3.9v6.3h-3.9zM220.7 222.7h3.9v6.3h-3.9zM231.5 222.7h3.9v6.3h-3.9zM242.3 222.7h3.9v6.3h-3.9zM224.3 228.8h7.5v6.3h-7.5zM253.1 240.9h3.9v6.3h-3.9zM217.1 246.9h3.9v6.3h-3.9zM256.7 246.9h7.5v6.3h-7.5zM274.7 246.9h3.9v6.3h-3.9zM227.9 259h3.9v6.3h-3.9zM231.5 271.1h3.9v6.3h-3.9zM249.5 277.1h3.9v6.3h-3.9zM271.1 319.5h3.9v6.3h-3.9zM238.7 337.6h3.9v6.3h-3.9zM245.9 337.6h3.9v6.3h-3.9zM253.1 349.7h3.9v6.3h-3.9zM260.3 349.7h3.9v6.3h-3.9zM271.1 355.7h3.9v6.3h-3.9zM281.9 355.7h3.9v6.3h-3.9zM249.5 373.9h3.9v6.3h-3.9zM271.1 373.9h3.9v6.3h-3.9zM285.5 373.9h3.9v6.3h-3.9zM281.9 379.9h3.9v6.3h-3.9zM289.1 379.9h3.9v6.3h-3.9zM274.7 386h3.9v6.3h-3.9zM267.5 392h3.9v6.3h-3.9zM281.9 392h3.9v6.3h-3.9zM289.1 392h3.9v6.3h-3.9zM260.3 398.1h3.9v6.3h-3.9zM281.9 398.1h3.9v6.3h-3.9z" fill="#ff4040"/>
<path d="M253.1 180.4h3.9v6.3h-3.9zM235.1 192.5h3.9v6.3h-3.9zM245.9 192.5h3.9v6.3h-3.9zM224.3 198.5h3.9v6.3h-3.9zM231.5 198.5h3.9v6.3h-3.9zM245.9 198.5h3.9v6.3h-3.9zM217.1 216.7h11.1v6.3h-11.1zM249.5 246.9h7.5v6.3h-7.5zM263.9 246.9h3.9v6.3h-3.9zM253.1 253h3.9v6.3h-3.9zM231.5 259h7.5v6.3h-7.5zM220.7 271.1h3.9v6.3h-3.9zM227.9 271.1h3.9v6.3h-3.9zM285.5 277.1h3.9v6.3h-3.9zM242.3 313.4h3.9v6.3h-3.9zM253.1 313.4h3.9v6.3h-3.9zM278.3 319.5h3.9v6.3h-3.9zM256.7 349.7h3.9v6.3h-3.9zM256.7 355.7h3.9v6.3h-3.9zM263.9 355.7h3.9v6.3h-3.9zM274.7 355.7h7.5v6.3h-7.5zM253.1 373.9h3.9v6.3h-3.9zM267.5 373.9h3.9v6.3h-3.9zM292.7 379.9h7.9v6.3h-7.9zM278.3 386h3.9v6.3h-3.9zM285.5 386h7.5v6.3h-7.5zM285.5 392h3.9v6.3h-3.9zM263.9 398.1h7.5v6.3h-7.5z" fill="#ff3333"/>
<path d="M256.7 180.4h3.9v6.3h-3.9zM238.7 192.5h3.9v6.3h-3.9zM249.5 198.5h3.9v6.3h-3.9zM227.9 222.7h3.9v6.3h-3.9zM213.5 228.8h11.1v6.3h-11.1zM231.5 246.9h3.9v6.3h-3.9zM238.7 246.9h3.9v6.3h-3.9zM217.1 271.1h3.9v6.3h-3.9zM224.3 271.1h3.9v6.3h-3.9zM274.7 319.5h3.9v6.3h-3.9zM281.9 319.5h3.9v6.3h-3.9zM263.9 349.7h11.1v6.3h-11.1zM267.5 355.7h3.9v6.3h-3.9zM256.7 373.9h3.9v6.3h-3.9zM271.1 398.1h7.5v6.3h-7.5z" fill="#ff2626"/>
<path d="M249.5 180.4h3.9v6.3h-3.9zM260.3 180.4h3.9v6.3h-3.9zM227.9 198.5h3.9v6.3h-3.9zM224.3 222.7h3.9v6.3h-3.9zM202.7 228.8h3.9v6.3h-3.9zM289.1 234.8h11.5v6.3h-11.5zM289.1 240.9h11.5v6.3h-11.5zM267.5 246.9h7.5v6.3h-7.5zM289.1 246.9h11.5v6.3h-11.5zM209.9 253h3.9v6.3h-3.9zM217.1 253h3.9v6.3h-3.9zM249.5 253h3.9v6.3h-3.9zM256.7 313.4h7.5v6.3h-7.5zM260.3 355.7h3.9v6.3h-3.9zM260.3 373.9h7.5v6.3h-7.5zM281.9 386h3.9v6.3h-3.9z" fill="#ff1919"/>
<path d="M245.9 180.4h3.9v6.3h-3.9zM242.3 192.5h3.9v6.3h-3.9zM224.3 246.9h7.5v6.3h-7.5zM202.7 253h7.5v6.3h-7.5zM281.9 271.1h18.7v6.3h-18.7zM281.9 283.2h18.7v6.3h-18.7zM281.9 307.4h18.7v6.3h-18.7zM245.9 313.4h3.9v6.3h-3.9z" fill="#ff0d0d"/>
<path d="M263.9 180.4h3.9v6.3h-3.9zM206.3 228.8h7.5v6.3h-7.5zM220.7 246.9h3.9v6.3h-3.9zM235.1 246.9h3.9v6.3h-3.9zM199.1 253h3.9v6.3h-3.9zM213.5 253h3.9v6.3h-3.9zM249.5 313.4h3.9v6.3h-3.9z" fill="#ff0000"/>
</g></g>
<path d="M138.1 179.3V416" stroke="#0c0" stroke-width="3.4" stroke-dasharray="9.8 5.6"/>
<g fill="#ff2a1a" stroke="#000" stroke-width="1"><circle cx="198.3" cy="183.9" r="3.1"/><circle cx="201.8" cy="190" r="3.1"/><circle cx="205.7" cy="196" r="3.1"/><circle cx="205.7" cy="202.1" r="3.1"/><circle cx="209.2" cy="208.1" r="3.1"/><circle cx="209.2" cy="214.2" r="3.1"/><circle cx="213.3" cy="220.2" r="3.1"/><circle cx="213.3" cy="226.2" r="3.1"/><circle cx="213.3" cy="232.3" r="3.1"/><circle cx="216.8" cy="238.3" r="3.1"/><circle cx="216.8" cy="244.4" r="3.1"/><circle cx="220.6" cy="250.4" r="3.1"/><circle cx="220.6" cy="256.5" r="3.1"/><circle cx="224.4" cy="262.5" r="3.1"/><circle cx="224.4" cy="268.6" r="3.1"/><circle cx="224.4" cy="274.6" r="3.1"/><circle cx="224.4" cy="280.7" r="3.1"/><circle cx="228.2" cy="286.7" r="3.1"/><circle cx="228.2" cy="292.8" r="3.1"/><circle cx="228.2" cy="298.8" r="3.1"/><circle cx="228.2" cy="304.8" r="3.1"/><circle cx="236.3" cy="310.9" r="3.1"/><circle cx="236.3" cy="316.9" r="3.1"/><circle cx="236.3" cy="323" r="3.1"/><circle cx="240.2" cy="329" r="3.1"/><circle cx="240.2" cy="335.1" r="3.1"/><circle cx="240.2" cy="341.1" r="3.1"/><circle cx="251.8" cy="347.2" r="3.1"/><circle cx="251.8" cy="353.2" r="3.1"/><circle cx="255.4" cy="359.3" r="3.1"/><circle cx="259.4" cy="365.3" r="3.1"/><circle cx="259.4" cy="371.4" r="3.1"/><circle cx="263" cy="377.4" r="3.1"/><circle cx="263" cy="383.4" r="3.1"/><circle cx="270.9" cy="389.5" r="3.1"/><circle cx="270.9" cy="395.5" r="3.1"/><circle cx="274.4" cy="401.6" r="3.1"/><circle cx="282.5" cy="407.6" r="3.1"/><circle cx="290.7" cy="413.7" r="3.1"/></g>
<path d="M78.8 178V418M77.3 416.5H297.6M80.1 416.5v7.6M152.7 416.5v7.6M224.8 416.5v7.6M296.1 416.5v7.6M78.8 238.3h-9.6M78.8 298.8h-9.6M78.8 359.1h-9.6" stroke="#231f20" stroke-width="3.3" fill="none"/>
<text x="77.8" y="450.8" font-size="26.8" text-anchor="middle" fill="#231f20">-0.5</text>
<text x="153.2" y="450.8" font-size="26.8" text-anchor="middle" fill="#231f20">0</text>
<text x="226.2" y="450.8" font-size="26.8" text-anchor="middle" fill="#231f20">0.5</text>
<text x="292.5" y="450.8" font-size="26.8" text-anchor="middle" fill="#231f20">1</text>
<text x="190.2" y="474.6" font-size="26.8" text-anchor="middle" fill="#231f20">Time from  CS (s)</text>
<text x="67.4" y="249.2" font-size="26.8" text-anchor="end" fill="#231f20">10</text>
<text x="67.4" y="309.7" font-size="26.8" text-anchor="end" fill="#231f20">20</text>
<text x="67.4" y="370" font-size="26.8" text-anchor="end" fill="#231f20">30</text>
<text transform="translate(27.2 311.7) rotate(-90)" font-size="26.8" text-anchor="middle" fill="#231f20">Trial number</text>
<linearGradient id="cb1" x1="0" y1="0" x2="0" y2="1"><stop offset="0" stop-color="#f00"/><stop offset="0.5" stop-color="#fff"/><stop offset="1" stop-color="#00f"/></linearGradient>
<rect x="301" y="179.3" width="6.8" height="237.2" fill="url(#cb1)"/>
<text x="312.4" y="196.9" font-size="26.8" fill="#231f20">4000</text>
<text x="312.4" y="304.4" font-size="26.8" fill="#231f20">0</text>
<text x="312.4" y="419" font-size="26.8" fill="#231f20">-4000</text>
<text transform="translate(370.6 294) rotate(90)" font-size="26.8" text-anchor="middle" fill="#231f20">Change in</text>
<text transform="translate(339.7 296) rotate(90)" font-size="26.8" text-anchor="middle" fill="#231f20">force (mN/s)</text>
<text x="651.3" y="78.8" text-anchor="middle" font-style="italic">Force grouped by</text>
<text x="652" y="110.8" text-anchor="middle" font-style="italic">CR latency</text>
<path d="M625.5 134.5L650 134.5" stroke="#f74a4a" stroke-width="3.5"/>
<text x="665.7" y="140.7" font-style="italic">Short</text>
<path d="M625.5 156.7L650 156.7" stroke="#6464f6" stroke-width="3.5"/>
<text x="665.7" y="163.8" font-style="italic">Long</text>
<g transform="translate(573 141.3) scale(1)" stroke="#000" fill="none"><path d="M0.5 7.4H6.5L14.5 0.2V24.8L6.5 17.6H0.5Z" fill="#00e400" stroke-width="1" stroke-linejoin="miter"/><path d="M6.4 7.4V17.6" stroke-width="1"/><path d="M17.9 8.2Q21.7 12.5 17.9 16.8M20.9 5.2Q26.9 12.5 20.9 19.8M24.3 1Q33.1 12 24.3 22.8" stroke-width="1.05"/></g>
<path d="M536 355.1H751" stroke="#000" stroke-width="2.9" stroke-linecap="round" stroke-dasharray="0.1 6.55"/>
<path d="M535.2 353.3C537.6 353.5 544.8 354.2 549.6 354.5C554.4 354.8 559.2 355 564 355.1C568.7 355.2 574.7 354.3 578.3 355.1C581.9 355.9 583.1 358.2 585.5 359.9C587.9 361.5 590.3 363.8 592.6 365.2C595 366.6 597.4 367.6 599.8 368.2C602.2 368.8 604.6 368.9 607 368.8C609.4 368.7 611.8 368.2 614.2 367.6C616.6 367 617.8 366.2 621.4 365.2C624.9 364.2 632.1 362.6 635.7 361.6C639.3 360.6 640.5 360.5 642.9 359.3C645.3 358 647.7 356.1 650 353.9C652.4 351.7 654.8 350.1 657.2 346.2C659.6 342.2 662 336.6 664.4 330.2C666.8 323.7 669.2 314.8 671.6 307.6C674 300.4 676.4 292.7 678.8 286.8C681.1 280.9 683.5 276 685.9 271.9C688.3 267.9 690.7 265.2 693.1 262.4C695.5 259.7 697.9 257.3 700.3 255.3C702.7 253.3 705.1 251.8 707.5 250.6C709.8 249.3 712.2 248.3 714.6 247.6C717 246.9 719.4 245.8 721.8 246.4C724.2 247 726.6 248.2 729 251.2C731.4 254.1 733.8 258.8 736.1 264.2C738.5 269.7 740.9 276.6 743.3 283.8C745.7 291 749.3 303.6 750.5 307.6" stroke="#6464f6" stroke-width="3.5" fill="none"/>
<path d="M535.2 378.9C536.4 379.2 540 381.1 542.4 380.6C544.8 380.1 546 379.2 549.6 375.9C553.2 372.6 559.2 365.7 564 361C568.7 356.4 574.7 350.2 578.3 348C581.9 345.7 583.1 347.2 585.5 347.4C587.9 347.6 590.3 348.2 592.6 349.2C595 350.2 597.4 352.1 599.8 353.3C602.2 354.5 604.6 356 607 356.3C609.4 356.6 611.8 356.1 614.2 355.1C616.6 354.1 619 352 621.4 350.3C623.7 348.7 626.1 348 628.5 345C630.9 342 633.3 338.3 635.7 332.5C638.1 326.8 640.5 319.7 642.9 310.6C645.3 301.4 647.7 288.8 650 277.9C652.4 267 654.8 253.4 657.2 245.2C659.6 237 662 232.1 664.4 228.6C666.8 225 669.2 224.4 671.6 223.8C674 223.2 676.4 224.8 678.8 225C681.1 225.2 683.5 224.9 685.9 225C688.3 225.1 690.7 223.5 693.1 225.6C695.5 227.7 697.9 231.7 700.3 237.5C702.7 243.2 705.1 251.8 707.5 260.1C709.8 268.3 712.2 278.7 714.6 286.8C717 294.9 719.4 302.6 721.8 308.8C724.2 314.9 726.6 318.9 729 323.6C731.4 328.4 733.8 332 736.1 337.3C738.5 342.5 740.9 347.2 743.3 355.1C745.7 363 749.3 379.9 750.5 384.8" stroke="#f74a4a" stroke-width="3.5" fill="none"/>
<path d="M587.4 171V411" stroke="#0c0" stroke-width="3.4" stroke-dasharray="9.8 5.6"/>
<path d="M535 175.7V416.2M533.6 414.8H751.8M535 414.8v9.5M607 414.8v9.5M677.9 414.8v9.5M750.4 414.8v9.5M535 177.1h-10M535 236.3h-10M535 295.6h-10M535 355.1h-10M535 414.8h-10" stroke="#000" stroke-width="3.5" fill="none"/>
<text x="530" y="447.5" text-anchor="middle">-0.5</text>
<text x="606" y="447.5" text-anchor="middle">0</text>
<text x="677.5" y="447.5" text-anchor="middle">0.5</text>
<text x="751.5" y="447.5" text-anchor="middle">1</text>
<text x="656.5" y="474.6" text-anchor="middle">Time from CS (s)</text>
<text x="524.5" y="187.6" text-anchor="end">3000</text>
<text x="524.5" y="246.8" text-anchor="end">2000</text>
<text x="524.5" y="306.1" text-anchor="end">1000</text>
<text x="524.5" y="365.6" text-anchor="end">0</text>
<text x="524.5" y="425.3" text-anchor="end">-1000</text>
<text transform="translate(457 295.4) rotate(-90)" text-anchor="middle">Change in force (mN/s)</text>
<text x="796" y="26.6" font-size="36" font-weight="bold" fill="#231f20">b</text>
<text x="1031.8" y="33.1" font-size="26.4" font-style="italic" fill="#231f20">Example, CR-predicting DA neuron</text>
<text x="1008" y="78.8" font-size="29.8" text-anchor="middle" font-weight="bold" font-style="italic" fill="#231f20">Sorted by performance</text>
<text x="1011.8" y="115.5" font-size="29.8" text-anchor="middle" font-weight="bold" font-style="italic" fill="#231f20">(Force CR latency)</text>
<g transform="translate(948.4 144.5) scale(1)" stroke="#000" fill="none"><path d="M0.5 7.4H6.5L14.5 0.2V24.8L6.5 17.6H0.5Z" fill="#00e400" stroke-width="1" stroke-linejoin="miter"/><path d="M6.4 7.4V17.6" stroke-width="1"/><path d="M17.9 8.2Q21.7 12.5 17.9 16.8M20.9 5.2Q26.9 12.5 20.9 19.8M24.3 1Q33.1 12 24.3 22.8" stroke-width="1.05"/></g>
<circle cx="1009.5" cy="149.4" r="7.3" fill="#ff2a1a" stroke="#000" stroke-width="1"/>
<text x="1026" y="163" font-size="26.3" font-style="italic">CR onset</text>
<path d="M905.1 178v4.3M939.8 178v4.3M994.6 178v4.3M1012.9 178v4.3M1100.6 178v4.3M894.1 184.2v4.3M912.4 184.2v4.3M939.8 184.2v4.3M989.1 184.2v4.3M991 184.2v4.3M1018.4 184.2v4.3M1065.9 184.2v4.3M895.9 190.3v4.3M901.4 190.3v4.3M914.2 190.3v4.3M916 190.3v4.3M985.5 190.3v4.3M989.1 190.3v4.3M1022 190.3v4.3M943.5 196.5v4.3M1029.4 196.5v4.3M928.8 202.6v4.3M987.3 202.6v4.3M1014.7 202.6v4.3M916 208.8v4.3M934.3 208.8v4.3M941.6 208.8v4.3M943.5 208.8v4.3M950.8 208.8v4.3M956.2 208.8v4.3M987.3 208.8v4.3M992.8 208.8v4.3M994.6 208.8v4.3M1001.9 208.8v4.3M1003.8 208.8v4.3M1005.6 208.8v4.3M1009.3 208.8v4.3M1011.1 208.8v4.3M917.9 214.9v4.3M925.2 214.9v4.3M952.6 214.9v4.3M987.3 214.9v4.3M991 214.9v4.3M994.6 214.9v4.3M917.9 221.1v4.3M927 221.1v4.3M939.8 221.1v4.3M943.5 221.1v4.3M948.9 221.1v4.3M963.6 221.1v4.3M987.3 221.1v4.3M989.1 221.1v4.3M991 221.1v4.3M903.2 227.2v4.3M917.9 227.2v4.3M936.1 227.2v4.3M947.1 227.2v4.3M989.1 227.2v4.3M991 227.2v4.3M992.8 227.2v4.3M1036.7 227.2v4.3M905.1 233.4v4.3M954.4 233.4v4.3M989.1 233.4v4.3M991 233.4v4.3M992.8 233.4v4.3M994.6 233.4v4.3M1027.5 233.4v4.3M908.7 239.5v4.3M917.9 239.5v4.3M961.7 239.5v4.3M987.3 239.5v4.3M991 239.5v4.3M996.5 239.5v4.3M1036.7 239.5v4.3M958.1 245.7v4.3M985.5 245.7v4.3M994.6 245.7v4.3M1011.1 245.7v4.3M1027.5 245.7v4.3M923.3 251.8v4.3M927 251.8v4.3M934.3 251.8v4.3M952.6 251.8v4.3M976.4 251.8v4.3M989.1 251.8v4.3M991 251.8v4.3M994.6 251.8v4.3M916 258v4.3M989.1 258v4.3M992.8 258v4.3M996.5 258v4.3M1012.9 258v4.3M1060.4 258v4.3M917.9 264.2v4.3M923.3 264.2v4.3M939.8 264.2v4.3M989.1 264.2v4.3M991 264.2v4.3M1005.6 264.2v4.3M1054.9 264.2v4.3M1073.2 264.2v4.3M894.1 270.3v4.3M895.9 270.3v4.3M934.3 270.3v4.3M969 270.3v4.3M992.8 270.3v4.3M1001.9 270.3v4.3M930.7 276.5v4.3M936.1 276.5v4.3M985.5 276.5v4.3M987.3 276.5v4.3M989.1 276.5v4.3M992.8 276.5v4.3M994.6 276.5v4.3M1014.7 276.5v4.3M912.4 282.6v4.3M945.3 282.6v4.3M989.1 282.6v4.3M1023.9 282.6v4.3M899.6 288.8v4.3M943.5 288.8v4.3M958.1 288.8v4.3M989.1 288.8v4.3M992.8 288.8v4.3M1075.1 288.8v4.3M961.7 294.9v4.3M974.5 294.9v4.3M989.1 294.9v4.3M994.6 294.9v4.3M897.8 301.1v4.3M916 301.1v4.3M1054.9 301.1v4.3M899.6 307.2v4.3M930.7 307.2v4.3M934.3 307.2v4.3M965.4 307.2v4.3M985.5 307.2v4.3M991 307.2v4.3M1007.4 307.2v4.3M1009.3 307.2v4.3M1054.9 307.2v4.3M927 313.4v4.3M969 313.4v4.3M985.5 313.4v4.3M987.3 313.4v4.3M991 313.4v4.3M1003.8 313.4v4.3M1020.2 313.4v4.3M936.1 319.5v4.3M938 319.5v4.3M961.7 319.5v4.3M987.3 319.5v4.3M963.6 325.7v4.3M989.1 325.7v4.3M991 325.7v4.3M1016.6 325.7v4.3M906.9 331.8v4.3M910.6 331.8v4.3M956.2 331.8v4.3M958.1 331.8v4.3M969 331.8v4.3M989.1 331.8v4.3M991 331.8v4.3M1054.9 331.8v4.3M1064.1 331.8v4.3M1078.7 331.8v4.3M894.1 338v4.3M974.5 338v4.3M991 338v4.3M996.5 338v4.3M1012.9 338v4.3M923.3 344.1v4.3M932.5 344.1v4.3M936.1 344.1v4.3M983.7 344.1v4.3M985.5 344.1v4.3M989.1 344.1v4.3M991 344.1v4.3M1016.6 344.1v4.3M1018.4 344.1v4.3M925.2 350.2v4.3M959.9 350.2v4.3M989.1 350.2v4.3M992.8 350.2v4.3M1003.8 350.2v4.3M1087.8 350.2v4.3M910.6 356.4v4.3M972.7 356.4v4.3M985.5 356.4v4.3M992.8 356.4v4.3M994.6 356.4v4.3M1040.3 356.4v4.3M1058.6 356.4v4.3M897.8 362.6v4.3M905.1 362.6v4.3M934.3 362.6v4.3M941.6 362.6v4.3M991 362.6v4.3M1005.6 362.6v4.3M1034.8 362.6v4.3M1045.8 362.6v4.3M1104.3 362.6v4.3M941.6 368.7v4.3M952.6 368.7v4.3M976.4 368.7v4.3M989.1 368.7v4.3M1005.6 368.7v4.3M1011.1 368.7v4.3M1027.5 368.7v4.3M901.4 374.9v4.3M903.2 374.9v4.3M905.1 374.9v4.3M916 374.9v4.3M917.9 374.9v4.3M941.6 374.9v4.3M958.1 374.9v4.3M989.1 374.9v4.3M1023.9 374.9v4.3M1065.9 374.9v4.3M930.7 381v4.3M991 381v4.3M996.5 381v4.3M1033 381v4.3M1076.9 381v4.3M1095.2 381v4.3M905.1 387.2v4.3M912.4 387.2v4.3M917.9 387.2v4.3M954.4 387.2v4.3M987.3 387.2v4.3M1005.6 387.2v4.3M1038.5 387.2v4.3M934.3 393.3v4.3M938 393.3v4.3M991 393.3v4.3M1001.9 393.3v4.3M1011.1 393.3v4.3M1018.4 393.3v4.3M895.9 399.5v4.3M897.8 399.5v4.3M952.6 399.5v4.3M981.8 399.5v4.3M1005.6 399.5v4.3M901.4 405.6v4.3M930.7 405.6v4.3M987.3 405.6v4.3M992.8 405.6v4.3M1003.8 405.6v4.3M1047.6 405.6v4.3M1064.1 405.6v4.3M1073.2 405.6v4.3M906.9 411.8v4.3M978.2 411.8v4.3" stroke="#000" stroke-width="3.2" fill="none"/>
<path d="M964.4 177V415" stroke="#0c0" stroke-width="3.4" stroke-dasharray="9.8 5.6"/>
<path d="M895.1 175.2V416.6M893.6 415.1H1107.3M896.4 415.1v7.6M964.4 415.1v7.6M1035.3 415.1v7.6M1105.8 415.1v7.6M895.1 235h-9.6M895.1 296.9h-9.6M895.1 358.1h-9.6" stroke="#231f20" stroke-width="3.3" fill="none"/>
<g fill="#ff2a1a" stroke="#000" stroke-width="1"><circle cx="1011.4" cy="181.2" r="3.2"/><circle cx="1012.8" cy="187.3" r="3.2"/><circle cx="1016.8" cy="193.5" r="3.2"/><circle cx="1017.7" cy="199.6" r="3.2"/><circle cx="1019.6" cy="205.8" r="3.2"/><circle cx="1021.5" cy="211.9" r="3.2"/><circle cx="1023.1" cy="218.1" r="3.2"/><circle cx="1024.2" cy="224.2" r="3.2"/><circle cx="1025.8" cy="230.4" r="3.2"/><circle cx="1027.7" cy="236.5" r="3.2"/><circle cx="1029.1" cy="242.7" r="3.2"/><circle cx="1030.4" cy="248.8" r="3.2"/><circle cx="1031.8" cy="255" r="3.2"/><circle cx="1034" cy="261.1" r="3.2"/><circle cx="1034.5" cy="267.3" r="3.2"/><circle cx="1035.3" cy="273.4" r="3.2"/><circle cx="1035.9" cy="279.6" r="3.2"/><circle cx="1036.4" cy="285.8" r="3.2"/><circle cx="1036.7" cy="291.9" r="3.2"/><circle cx="1037.2" cy="298.1" r="3.2"/><circle cx="1038.6" cy="304.2" r="3.2"/><circle cx="1044" cy="310.4" r="3.2"/><circle cx="1044.8" cy="316.5" r="3.2"/><circle cx="1046.2" cy="322.6" r="3.2"/><circle cx="1047.5" cy="328.8" r="3.2"/><circle cx="1048.1" cy="334.9" r="3.2"/><circle cx="1050.3" cy="341.1" r="3.2"/><circle cx="1058.9" cy="347.2" r="3.2"/><circle cx="1061.1" cy="353.4" r="3.2"/><circle cx="1063.8" cy="359.6" r="3.2"/><circle cx="1066.3" cy="365.7" r="3.2"/><circle cx="1067.1" cy="371.9" r="3.2"/><circle cx="1068.2" cy="378" r="3.2"/><circle cx="1069.3" cy="384.1" r="3.2"/><circle cx="1071.7" cy="390.3" r="3.2"/><circle cx="1077.2" cy="396.4" r="3.2"/><circle cx="1078.5" cy="402.6" r="3.2"/><circle cx="1087.5" cy="408.8" r="3.2"/><circle cx="1093.7" cy="414.9" r="3.2"/></g>
<text x="889.5" y="448.6" font-size="26.8" text-anchor="middle" fill="#231f20">-0.5</text>
<text x="965" y="448.6" font-size="26.8" text-anchor="middle" fill="#231f20">0</text>
<text x="1035.5" y="448.6" font-size="26.8" text-anchor="middle" fill="#231f20">0.5</text>
<text x="1104.5" y="448.6" font-size="26.8" text-anchor="middle" fill="#231f20">1</text>
<text x="1002.6" y="474" font-size="26.8" text-anchor="middle" fill="#231f20">Time from  CS (s)</text>
<text x="886" y="245.9" font-size="26.8" text-anchor="end" fill="#231f20">10</text>
<text x="886" y="307.8" font-size="26.8" text-anchor="end" fill="#231f20">20</text>
<text x="886" y="369" font-size="26.8" text-anchor="end" fill="#231f20">30</text>
<text transform="translate(843.5 300) rotate(-90)" font-size="26.8" text-anchor="middle" fill="#231f20">Trial number</text>
<text x="1449.3" y="70.5" text-anchor="middle" font-style="italic">Firing rate grouped</text>
<text x="1448.5" y="101.6" text-anchor="middle" font-style="italic">by performance (force CR latency)</text>
<path d="M1326.6 123.6L1351.5 123.6" stroke="#f74a4a" stroke-width="3.5"/>
<text x="1365.2" y="128.9" font-style="italic">Short</text>
<path d="M1326.6 145.9L1351.5 145.9" stroke="#6464f6" stroke-width="3.5"/>
<text x="1365.2" y="153.1" font-style="italic">Long</text>
<g transform="translate(1271 149) scale(1)" stroke="#000" fill="none"><path d="M0.5 7.4H6.5L14.5 0.2V24.8L6.5 17.6H0.5Z" fill="#00e400" stroke-width="1" stroke-linejoin="miter"/><path d="M6.4 7.4V17.6" stroke-width="1"/><path d="M17.9 8.2Q21.7 12.5 17.9 16.8M20.9 5.2Q26.9 12.5 20.9 19.8M24.3 1Q33.1 12 24.3 22.8" stroke-width="1.05"/></g>
<path d="M1285.5 178.7V417" stroke="#0c0" stroke-width="3.7" stroke-dasharray="9.8 5.6"/>
<path d="M1213.8 172V418.7M1212.1 417H1429.9M1213.8 417v9.5M1284.9 417v9.5M1356 417v9.5M1428.2 417v9.5M1213.8 173.7h-10M1213.8 254.8h-10M1213.8 335.9h-10M1213.8 417h-10" stroke="#000" stroke-width="3.5" fill="none"/>
<path d="M1213.6 380.5L1216.5 392.7L1219.3 408.9L1222.2 408.9L1225 392.7L1227.9 384.6L1230.7 380.5L1233.6 374L1236.4 384.6L1239.3 388.6L1242.1 372.4L1245 354.6L1247.8 368.3L1250.7 384.6L1253.5 396.7L1256.4 400.8L1259.2 398.3L1262.1 402.4L1264.9 404.8L1267.8 400.8L1270.6 394.3L1273.5 388.6L1276.3 392.7L1279.2 396.7L1282 380.5L1284.9 374L1287.8 384.6L1290.6 391L1293.5 392.7L1296.3 376.4L1299.2 335.9L1302 279.1L1304.9 222.4L1307.7 185.9L1310.6 206.1L1313.4 254.8L1316.3 319.7L1319.1 360.2L1322 372.4L1324.8 388.6L1327.7 398.3L1330.5 404.8L1333.4 408.9L1336.2 404.8L1339.1 400.8L1341.9 404.8L1344.8 412.9L1347.6 417L1350.5 414.6L1353.3 400.8L1356.2 394.3L1359.1 398.3L1361.9 402.4L1364.8 398.3L1367.6 404.8L1370.5 400.8L1373.3 392.7L1376.2 387.8L1379 390.2L1381.9 402.4L1384.7 412.9L1387.6 408.9L1390.4 403.2L1393.3 404.8L1396.1 404L1399 399.2L1401.8 398.3L1404.7 408.9L1407.5 414.6L1410.4 417L1413.2 417L1427.5 417" stroke="#f74a4a" stroke-width="3.4" fill="none" stroke-linejoin="round"/>
<path d="M1213.6 400.8L1216.5 392.7L1219.3 388.6L1222.2 382.9L1225 384.6L1227.9 392.7L1230.7 402.4L1233.6 406.5L1236.4 396.7L1239.3 382.9L1242.1 388.6L1245 399.2L1247.8 402.4L1250.7 400.8L1253.5 404L1256.4 406.5L1259.2 398.3L1262.1 388.6L1264.9 387.8L1267.8 376.4L1270.6 368.3L1273.5 374.8L1276.3 376.4L1279.2 380.5L1282 396.7L1284.9 406.5L1287.8 392.7L1290.6 382.1L1293.5 388.6L1296.3 392.7L1299.2 376.4L1302 356.2L1304.9 335.9L1307.7 319.7L1310.6 307.5L1313.4 301L1316.3 305.1L1319.1 315.6L1322 344L1324.8 360.2L1327.7 360.2L1330.5 357.8L1333.4 368.3L1336.2 380.5L1339.1 390.2L1341.9 392.7L1344.8 398.3L1347.6 396.7L1350.5 388.6L1353.3 384.6L1356.2 382.9L1359.1 392.7L1361.9 400.8L1364.8 404.8L1367.6 410.5L1370.5 417L1373.3 417L1379 417L1381.9 408.9L1384.7 396.7L1387.6 395.9L1390.4 398.3L1393.3 395.1L1396.1 400.8L1399 408.9L1401.8 414.6L1404.7 412.9L1407.5 410.5L1410.4 412.9L1413.2 404.8L1416.1 395.1L1418.9 394.3L1421.8 402.4L1424.6 408.9L1427.5 412.9" stroke="#6464f6" stroke-width="3.4" fill="none" stroke-linejoin="round"/>
<text x="1207" y="453.3" text-anchor="middle">-0.5</text>
<text x="1285" y="453.3" text-anchor="middle">0</text>
<text x="1355.5" y="453.3" text-anchor="middle">0.5</text>
<text x="1429" y="453.3" text-anchor="middle">1</text>
<text x="1325.6" y="481" text-anchor="middle">Time from CS (s)</text>
<text x="1201.5" y="183.3" text-anchor="end">30</text>
<text x="1201.5" y="264.4" text-anchor="end">20</text>
<text x="1201.5" y="345.5" text-anchor="end">10</text>
<text x="1201.5" y="426.6" text-anchor="end">0</text>
<text transform="translate(1164.5 287.5) rotate(-90)" text-anchor="middle">Firing rate (Hz)</text>
<path d="M1566.9 272.8L1637.4 400.7" stroke="#f00" stroke-width="1.8"/>
<g fill="#f00" stroke="#000" stroke-width="1"><circle cx="1572.8" cy="238.4" r="5.5"/><circle cx="1566.9" cy="256.7" r="5.5"/><circle cx="1578.4" cy="290.8" r="5.5"/><circle cx="1583.9" cy="328.5" r="5.5"/><circle cx="1590.5" cy="326.9" r="5.5"/><circle cx="1613.8" cy="355.1" r="5.5"/><circle cx="1631.8" cy="353.4" r="5.5"/><circle cx="1602.3" cy="371.5" r="5.5"/><circle cx="1620" cy="368.9" r="5.5"/><circle cx="1625.9" cy="374.8" r="5.5"/><circle cx="1607.9" cy="384.6" r="5.5"/><circle cx="1638" cy="401.6" r="5.5"/></g>
<path d="M1531.5 175.6V412.2M1530.1 410.8H1650.9M1531.5 410.8v9M1589.8 410.8v9M1649.5 410.8v9M1531.5 177h-10M1531.5 235.4h-10M1531.5 294.1h-10M1531.5 352.8h-10M1531.5 410.8h-10" stroke="#000" stroke-width="2.9" fill="none"/>
<text x="1531.5" y="445.8" text-anchor="middle">0</text>
<text x="1590" y="445.8" text-anchor="middle">0.5</text>
<text x="1649.5" y="445.8" text-anchor="middle">1</text>
<text x="1596" y="468.7" font-size="26.5" text-anchor="middle">Latency to CR (s)</text>
<text x="1520.5" y="187.8" text-anchor="end">80</text>
<text x="1520.5" y="246.2" text-anchor="end">60</text>
<text x="1520.5" y="304.9" text-anchor="end">40</text>
<text x="1520.5" y="363.6" text-anchor="end">20</text>
<text x="1520.5" y="421.6" text-anchor="end">0</text>
<text transform="translate(1481.5 290.5) rotate(-90)" text-anchor="middle">Firing rate (Hz)</text>
<text x="1552" y="186" font-style="italic" fill="#f00">R<tspan font-size="15" dy="-8">2</tspan><tspan dy="8"> = 0.7</tspan></text>
<text x="1" y="519.4" font-size="36" font-weight="bold" fill="#231f20">c</text>
<text x="180.2" y="550.6" font-size="26.5" text-anchor="middle" font-style="italic" fill="#231f20">Same force data</text>
<path d="M317.9 512.4L317.9 588.9" stroke="#000" stroke-width="2.8"/>
<path d="M317.9 495L329.9 524L317.9 515.9L305.9 524Z"/>
<path d="M317.9 606.3L329.9 577.3L317.9 585.4L305.9 577.3Z"/>
<text x="176.3" y="605.5" font-size="29.8" text-anchor="middle" font-weight="bold" font-style="italic" fill="#231f20">Sorted by</text>
<text x="180.4" y="640.3" font-size="29.8" text-anchor="middle" font-weight="bold" font-style="italic" fill="#231f20">trials in session</text>
<g transform="translate(142.6 661.5) scale(1)" stroke="#000" fill="none"><path d="M0.5 7.4H6.5L14.5 0.2V24.8L6.5 17.6H0.5Z" fill="#00e400" stroke-width="1" stroke-linejoin="miter"/><path d="M6.4 7.4V17.6" stroke-width="1"/><path d="M17.9 8.2Q21.7 12.5 17.9 16.8M20.9 5.2Q26.9 12.5 20.9 19.8M24.3 1Q33.1 12 24.3 22.8" stroke-width="1.05"/></g>
<circle cx="209.2" cy="670.7" r="6.6" fill="#ff2a1a" stroke="#000" stroke-width="1"/>
<text x="221.4" y="677" font-style="italic">CR onset</text>
<clipPath id="hm2"><rect x="83.5" y="692.2" width="218.5" height="238.4"/></clipPath>
<filter id="hm2b" x="-5%" y="-5%" width="110%" height="110%"><feGaussianBlur stdDeviation="1 0.8"/></filter>
<g clip-path="url(#hm2)"><g filter="url(#hm2b)">
<path d="M79.5 692.2h22.5v6.4h-22.5z" fill="#0000ff"/>
<path d="M149.1 722.8h3.9v6.4h-3.9zM156.3 722.8h11.2v6.4h-11.2zM170.9 722.8h3.9v6.4h-3.9z" fill="#2626ff"/>
<path d="M138.1 722.8h11.2v6.4h-11.2zM152.7 722.8h3.9v6.4h-3.9zM283.8 722.8h3.9v6.4h-3.9z" fill="#3333ff"/>
<path d="M167.3 722.8h3.9v6.4h-3.9zM291.1 869.5h7.6v6.4h-7.6z" fill="#4040ff"/>
<path d="M287.4 722.8h18.9v6.4h-18.9zM298.4 869.5h7.9v6.4h-7.9z" fill="#4d4dff"/>
<path d="M298.4 728.9h7.9v6.4h-7.9z" fill="#5959ff"/>
<path d="M291.1 728.9h7.6v6.4h-7.6z" fill="#6666ff"/>
<path d="M94.4 863.4h7.6v6.4h-7.6zM189.1 863.4h3.9v6.4h-3.9zM200 863.4h3.9v6.4h-3.9z" fill="#7373ff"/>
<path d="M149.1 820.6h3.9v6.4h-3.9zM101.7 863.4h3.9v6.4h-3.9z" fill="#8080ff"/>
<path d="M105.3 692.2h3.9v6.4h-3.9zM145.4 820.6h3.9v6.4h-3.9zM156.3 820.6h3.9v6.4h-3.9zM163.6 820.6h3.9v6.4h-3.9zM105.3 863.4h7.6v6.4h-7.6zM192.8 863.4h7.6v6.4h-7.6zM203.7 863.4h3.9v6.4h-3.9z" fill="#8c8cff"/>
<path d="M101.7 692.2h3.9v6.4h-3.9zM174.5 722.8h3.9v6.4h-3.9zM152.7 820.6h3.9v6.4h-3.9zM160 820.6h3.9v6.4h-3.9zM265.6 826.7h3.9v6.4h-3.9zM272.9 826.7h11.2v6.4h-11.2z" fill="#9999ff"/>
<path d="M178.2 722.8h3.9v6.4h-3.9zM269.2 826.7h3.9v6.4h-3.9z" fill="#a6a6ff"/>
<path d="M181.8 722.8h3.9v6.4h-3.9zM283.8 747.2h3.9v6.4h-3.9zM138.1 820.6h7.6v6.4h-7.6zM269.2 900h14.9v6.4h-14.9z" fill="#b2b2ff"/>
<path d="M291.1 747.2h7.6v6.4h-7.6zM280.1 783.9h3.9v6.4h-3.9zM291.1 783.9h3.9v6.4h-3.9zM134.5 820.6h3.9v6.4h-3.9zM272.9 838.9h3.9v6.4h-3.9zM280.1 838.9h7.6v6.4h-7.6zM291.1 838.9h3.9v6.4h-3.9zM291.1 857.2h3.9v6.4h-3.9zM298.4 857.2h7.9v6.4h-7.9zM87.1 863.4h7.6v6.4h-7.6zM265.6 900h3.9v6.4h-3.9z" fill="#bfbfff"/>
<path d="M287.4 747.2h3.9v6.4h-3.9zM298.4 747.2h7.9v6.4h-7.9zM105.3 753.3h3.9v6.4h-3.9zM112.6 753.3h7.6v6.4h-7.6zM269.2 783.9h3.9v6.4h-3.9zM283.8 783.9h7.6v6.4h-7.6zM294.7 783.9h3.9v6.4h-3.9zM276.5 838.9h3.9v6.4h-3.9zM294.7 857.2h3.9v6.4h-3.9zM283.8 869.5h3.9v6.4h-3.9z" fill="#ccccff"/>
<path d="M130.8 722.8h7.6v6.4h-7.6zM98.1 753.3h7.6v6.4h-7.6zM109 753.3h3.9v6.4h-3.9zM170.9 753.3h14.9v6.4h-14.9zM272.9 783.9h7.6v6.4h-7.6zM280.1 790h3.9v6.4h-3.9zM167.3 820.6h3.9v6.4h-3.9zM287.4 838.9h3.9v6.4h-3.9zM276.5 851.1h22.2v6.4h-22.2zM287.4 869.5h3.9v6.4h-3.9zM294.7 887.8h11.6v6.4h-11.6z" fill="#d9d9ff"/>
<path d="M181.8 710.5h22.2v6.4h-22.2zM185.5 722.8h3.9v6.4h-3.9zM185.5 753.3h3.9v6.4h-3.9zM192.8 753.3h7.6v6.4h-7.6zM272.9 790h7.6v6.4h-7.6zM287.4 790h11.2v6.4h-11.2zM170.9 820.6h3.9v6.4h-3.9zM298.4 851.1h7.9v6.4h-7.9zM87.1 875.6h11.2v6.4h-11.2zM156.3 912.3h3.9v6.4h-3.9zM109 918.4h3.9v6.4h-3.9zM116.3 918.4h18.5v6.4h-18.5zM138.1 918.4h3.9v6.4h-3.9z" fill="#e6e6ff"/>
<path d="M79.5 698.3h11.6v6.4h-11.6zM127.2 698.3h3.9v6.4h-3.9zM79.5 704.4h11.6v6.4h-11.6zM181.8 704.4h11.2v6.4h-11.2zM196.4 704.4h3.9v6.4h-3.9zM79.5 710.5h7.9v6.4h-7.9zM134.5 710.5h36.7v6.4h-36.7zM174.5 710.5h7.6v6.4h-7.6zM203.7 710.5h7.6v6.4h-7.6zM247.4 710.5h11.2v6.4h-11.2zM189.1 722.8h7.6v6.4h-7.6zM79.5 728.9h33.4v6.4h-33.4zM170.9 728.9h7.6v6.4h-7.6zM130.8 735h3.9v6.4h-3.9zM101.7 747.2h22.2v6.4h-22.2zM119.9 753.3h7.6v6.4h-7.6zM130.8 753.3h14.9v6.4h-14.9zM189.1 753.3h3.9v6.4h-3.9zM145.4 759.4h3.9v6.4h-3.9zM156.3 759.4h25.8v6.4h-25.8zM79.5 765.6h22.5v6.4h-22.5zM130.8 765.6h11.2v6.4h-11.2zM156.3 765.6h7.6v6.4h-7.6zM119.9 771.7h25.8v6.4h-25.8zM181.8 771.7h11.2v6.4h-11.2zM98.1 790h3.9v6.4h-3.9zM112.6 790h3.9v6.4h-3.9zM283.8 790h3.9v6.4h-3.9zM298.4 790h7.9v6.4h-7.9zM156.3 808.3h29.4v6.4h-29.4zM79.5 814.5h7.9v6.4h-7.9zM174.5 820.6h3.9v6.4h-3.9zM134.5 826.7h7.6v6.4h-7.6zM167.3 832.8h18.5v6.4h-18.5zM163.6 838.9h25.8v6.4h-25.8zM79.5 845h15.2v6.4h-15.2zM98.1 845h3.9v6.4h-3.9zM141.8 845h25.8v6.4h-25.8zM116.3 851.1h7.6v6.4h-7.6zM138.1 851.1h3.9v6.4h-3.9zM145.4 851.1h3.9v6.4h-3.9zM130.8 857.2h29.4v6.4h-29.4zM170.9 857.2h25.8v6.4h-25.8zM145.4 863.4h3.9v6.4h-3.9zM185.5 863.4h3.9v6.4h-3.9zM116.3 869.5h14.9v6.4h-14.9zM79.5 875.6h7.9v6.4h-7.9zM98.1 875.6h22.2v6.4h-22.2zM170.9 881.7h3.9v6.4h-3.9zM185.5 881.7h7.6v6.4h-7.6zM207.3 881.7h7.6v6.4h-7.6zM152.7 887.8h22.2v6.4h-22.2zM119.9 893.9h3.9v6.4h-3.9zM127.2 893.9h3.9v6.4h-3.9zM134.5 893.9h18.5v6.4h-18.5zM79.5 900h15.2v6.4h-15.2zM98.1 900h11.2v6.4h-11.2zM123.6 900h33.1v6.4h-33.1zM200 900h7.6v6.4h-7.6zM94.4 906.1h7.6v6.4h-7.6zM105.3 906.1h3.9v6.4h-3.9zM156.3 906.1h3.9v6.4h-3.9zM167.3 906.1h11.2v6.4h-11.2zM141.8 912.3h14.9v6.4h-14.9zM160 912.3h14.9v6.4h-14.9zM178.2 912.3h3.9v6.4h-3.9zM221.9 912.3h3.9v6.4h-3.9zM98.1 918.4h11.2v6.4h-11.2zM112.6 918.4h3.9v6.4h-3.9zM134.5 918.4h3.9v6.4h-3.9zM141.8 918.4h7.6v6.4h-7.6zM130.8 924.5h14.9v6.4h-14.9z" fill="#f2f2ff"/>
<path d="M112.6 692.2h3.9v6.4h-3.9zM105.3 698.3h7.6v6.4h-7.6zM116.3 698.3h3.9v6.4h-3.9zM174.5 698.3h3.9v6.4h-3.9zM181.8 698.3h11.2v6.4h-11.2zM203.7 698.3h7.6v6.4h-7.6zM109 704.4h11.2v6.4h-11.2zM203.7 704.4h3.9v6.4h-3.9zM109 710.5h18.5v6.4h-18.5zM79.5 716.7h15.2v6.4h-15.2zM98.1 716.7h7.6v6.4h-7.6zM192.8 716.7h3.9v6.4h-3.9zM240.1 716.7h7.6v6.4h-7.6zM192.8 728.9h3.9v6.4h-3.9zM79.5 735h11.6v6.4h-11.6zM94.4 735h7.6v6.4h-7.6zM141.8 735h3.9v6.4h-3.9zM178.2 741.1h7.6v6.4h-7.6zM134.5 747.2h3.9v6.4h-3.9zM149.1 747.2h11.2v6.4h-11.2zM178.2 747.2h14.9v6.4h-14.9zM280.1 747.2h3.9v6.4h-3.9zM79.5 753.3h7.9v6.4h-7.9zM90.8 753.3h7.6v6.4h-7.6zM163.6 753.3h7.6v6.4h-7.6zM79.5 759.4h26.2v6.4h-26.2zM218.2 759.4h7.6v6.4h-7.6zM105.3 765.6h3.9v6.4h-3.9zM185.5 765.6h7.6v6.4h-7.6zM90.8 771.7h3.9v6.4h-3.9zM152.7 771.7h7.6v6.4h-7.6zM225.5 771.7h7.6v6.4h-7.6zM170.9 777.8h3.9v6.4h-3.9zM178.2 777.8h25.8v6.4h-25.8zM214.6 777.8h3.9v6.4h-3.9zM109 783.9h11.2v6.4h-11.2zM156.3 783.9h22.2v6.4h-22.2zM196.4 783.9h3.9v6.4h-3.9zM130.8 790h7.6v6.4h-7.6zM145.4 790h3.9v6.4h-3.9zM167.3 790h3.9v6.4h-3.9zM94.4 796.1h7.6v6.4h-7.6zM167.3 796.1h3.9v6.4h-3.9zM207.3 796.1h22.2v6.4h-22.2zM254.7 796.1h3.9v6.4h-3.9zM87.1 802.2h18.5v6.4h-18.5zM196.4 802.2h11.2v6.4h-11.2zM87.1 808.3h3.9v6.4h-3.9zM94.4 808.3h3.9v6.4h-3.9zM101.7 808.3h11.2v6.4h-11.2zM196.4 808.3h7.6v6.4h-7.6zM98.1 814.5h3.9v6.4h-3.9zM105.3 814.5h11.2v6.4h-11.2zM119.9 814.5h7.6v6.4h-7.6zM130.8 814.5h25.8v6.4h-25.8zM160 814.5h14.9v6.4h-14.9zM181.8 814.5h18.5v6.4h-18.5zM130.8 820.6h3.9v6.4h-3.9zM200 820.6h7.6v6.4h-7.6zM298.4 820.6h7.9v6.4h-7.9zM163.6 826.7h14.9v6.4h-14.9zM181.8 826.7h7.6v6.4h-7.6zM94.4 832.8h3.9v6.4h-3.9zM101.7 832.8h14.9v6.4h-14.9zM123.6 832.8h14.9v6.4h-14.9zM196.4 832.8h7.6v6.4h-7.6zM236.4 832.8h7.6v6.4h-7.6zM79.5 838.9h7.9v6.4h-7.9zM94.4 838.9h3.9v6.4h-3.9zM105.3 838.9h14.9v6.4h-14.9zM127.2 838.9h25.8v6.4h-25.8zM189.1 838.9h3.9v6.4h-3.9zM109 845h3.9v6.4h-3.9zM178.2 845h7.6v6.4h-7.6zM196.4 845h3.9v6.4h-3.9zM203.7 845h3.9v6.4h-3.9zM236.4 845h3.9v6.4h-3.9zM170.9 851.1h7.6v6.4h-7.6zM138.1 863.4h3.9v6.4h-3.9zM149.1 863.4h3.9v6.4h-3.9zM207.3 863.4h3.9v6.4h-3.9zM232.8 863.4h3.9v6.4h-3.9zM149.1 869.5h14.9v6.4h-14.9zM218.2 869.5h14.9v6.4h-14.9zM178.2 875.6h3.9v6.4h-3.9zM79.5 881.7h11.6v6.4h-11.6zM101.7 881.7h3.9v6.4h-3.9zM123.6 881.7h7.6v6.4h-7.6zM218.2 881.7h3.9v6.4h-3.9zM79.5 887.8h15.2v6.4h-15.2zM181.8 887.8h7.6v6.4h-7.6zM87.1 893.9h29.4v6.4h-29.4zM170.9 893.9h33.1v6.4h-33.1zM236.4 893.9h3.9v6.4h-3.9zM185.5 900h3.9v6.4h-3.9zM130.8 906.1h3.9v6.4h-3.9zM185.5 906.1h3.9v6.4h-3.9zM112.6 912.3h22.2v6.4h-22.2zM240.1 912.3h3.9v6.4h-3.9zM87.1 918.4h3.9v6.4h-3.9zM192.8 918.4h22.2v6.4h-22.2zM218.2 918.4h18.5v6.4h-18.5zM79.5 924.5h33.4v6.4h-33.4zM196.4 924.5h3.9v6.4h-3.9z" fill="#fff2f2"/>
<path d="M109 692.2h3.9v6.4h-3.9zM247.4 716.7h3.9v6.4h-3.9zM178.2 735h3.9v6.4h-3.9zM185.5 741.1h3.9v6.4h-3.9zM192.8 747.2h3.9v6.4h-3.9zM272.9 747.2h7.6v6.4h-7.6zM87.1 753.3h3.9v6.4h-3.9zM192.8 765.6h11.2v6.4h-11.2zM218.2 777.8h3.9v6.4h-3.9zM170.9 790h3.9v6.4h-3.9zM79.5 796.1h15.2v6.4h-15.2zM229.2 796.1h3.9v6.4h-3.9zM258.3 796.1h3.9v6.4h-3.9zM287.4 796.1h3.9v6.4h-3.9zM207.3 802.2h11.2v6.4h-11.2zM79.5 808.3h7.9v6.4h-7.9zM90.8 808.3h3.9v6.4h-3.9zM98.1 808.3h3.9v6.4h-3.9zM203.7 808.3h3.9v6.4h-3.9zM116.3 814.5h3.9v6.4h-3.9zM127.2 814.5h3.9v6.4h-3.9zM156.3 814.5h3.9v6.4h-3.9zM200 814.5h3.9v6.4h-3.9zM254.7 814.5h7.6v6.4h-7.6zM189.1 826.7h3.9v6.4h-3.9zM116.3 832.8h7.6v6.4h-7.6zM203.7 832.8h3.9v6.4h-3.9zM218.2 832.8h7.6v6.4h-7.6zM229.2 832.8h7.6v6.4h-7.6zM251 832.8h3.9v6.4h-3.9zM119.9 838.9h7.6v6.4h-7.6zM192.8 838.9h3.9v6.4h-3.9zM240.1 845h3.9v6.4h-3.9zM178.2 851.1h7.6v6.4h-7.6zM236.4 863.4h7.6v6.4h-7.6zM232.8 869.5h3.9v6.4h-3.9zM181.8 875.6h7.6v6.4h-7.6zM221.9 881.7h7.6v6.4h-7.6zM189.1 887.8h3.9v6.4h-3.9zM240.1 893.9h3.9v6.4h-3.9zM211 900h3.9v6.4h-3.9zM189.1 906.1h7.6v6.4h-7.6zM243.7 912.3h3.9v6.4h-3.9z" fill="#ffe6e6"/>
<path d="M211 698.3h3.9v6.4h-3.9zM207.3 704.4h3.9v6.4h-3.9zM251 716.7h3.9v6.4h-3.9zM196.4 728.9h3.9v6.4h-3.9zM181.8 735h3.9v6.4h-3.9zM280.1 735h3.9v6.4h-3.9zM196.4 747.2h11.2v6.4h-11.2zM149.1 753.3h3.9v6.4h-3.9zM160 753.3h3.9v6.4h-3.9zM200 753.3h3.9v6.4h-3.9zM225.5 759.4h3.9v6.4h-3.9zM203.7 765.6h3.9v6.4h-3.9zM232.8 771.7h3.9v6.4h-3.9zM200 783.9h3.9v6.4h-3.9zM225.5 783.9h11.2v6.4h-11.2zM232.8 796.1h7.6v6.4h-7.6zM247.4 796.1h7.6v6.4h-7.6zM291.1 796.1h3.9v6.4h-3.9zM218.2 802.2h3.9v6.4h-3.9zM265.6 802.2h3.9v6.4h-3.9zM207.3 808.3h3.9v6.4h-3.9zM203.7 814.5h3.9v6.4h-3.9zM207.3 832.8h3.9v6.4h-3.9zM203.7 857.2h3.9v6.4h-3.9zM178.2 863.4h7.6v6.4h-7.6zM229.2 881.7h3.9v6.4h-3.9zM203.7 906.1h3.9v6.4h-3.9zM236.4 906.1h3.9v6.4h-3.9zM236.4 918.4h7.6v6.4h-7.6zM200 924.5h3.9v6.4h-3.9z" fill="#ffd9d9"/>
<path d="M287.4 710.5h7.6v6.4h-7.6zM298.4 710.5h7.9v6.4h-7.9zM254.7 716.7h3.9v6.4h-3.9zM200 728.9h3.9v6.4h-3.9zM189.1 741.1h3.9v6.4h-3.9zM207.3 747.2h3.9v6.4h-3.9zM243.7 747.2h3.9v6.4h-3.9zM265.6 747.2h3.9v6.4h-3.9zM145.4 753.3h3.9v6.4h-3.9zM156.3 753.3h3.9v6.4h-3.9zM207.3 765.6h3.9v6.4h-3.9zM236.4 771.7h3.9v6.4h-3.9zM221.9 777.8h3.9v6.4h-3.9zM221.9 783.9h3.9v6.4h-3.9zM174.5 790h3.9v6.4h-3.9zM240.1 796.1h7.6v6.4h-7.6zM265.6 796.1h3.9v6.4h-3.9zM272.9 796.1h3.9v6.4h-3.9zM240.1 814.5h3.9v6.4h-3.9zM251 814.5h3.9v6.4h-3.9zM261.9 814.5h3.9v6.4h-3.9zM269.2 814.5h3.9v6.4h-3.9zM298.4 814.5h7.9v6.4h-7.9zM294.7 820.6h3.9v6.4h-3.9zM211 832.8h7.6v6.4h-7.6zM225.5 832.8h3.9v6.4h-3.9zM243.7 832.8h7.6v6.4h-7.6zM254.7 832.8h3.9v6.4h-3.9zM196.4 838.9h3.9v6.4h-3.9zM243.7 845h3.9v6.4h-3.9zM185.5 851.1h3.9v6.4h-3.9zM251 851.1h3.9v6.4h-3.9zM152.7 863.4h3.9v6.4h-3.9zM163.6 863.4h7.6v6.4h-7.6zM174.5 863.4h3.9v6.4h-3.9zM258.3 863.4h3.9v6.4h-3.9zM236.4 869.5h3.9v6.4h-3.9zM189.1 875.6h3.9v6.4h-3.9zM232.8 881.7h7.6v6.4h-7.6zM192.8 887.8h3.9v6.4h-3.9zM214.6 900h3.9v6.4h-3.9zM221.9 906.1h3.9v6.4h-3.9zM265.6 906.1h3.9v6.4h-3.9zM247.4 912.3h3.9v6.4h-3.9zM291.1 918.4h3.9v6.4h-3.9z" fill="#ffcccc"/>
<path d="M214.6 698.3h3.9v6.4h-3.9zM287.4 704.4h3.9v6.4h-3.9zM294.7 710.5h3.9v6.4h-3.9zM287.4 728.9h3.9v6.4h-3.9zM185.5 735h3.9v6.4h-3.9zM283.8 735h7.6v6.4h-7.6zM294.7 735h3.9v6.4h-3.9zM211 747.2h3.9v6.4h-3.9zM218.2 747.2h3.9v6.4h-3.9zM236.4 747.2h7.6v6.4h-7.6zM152.7 753.3h3.9v6.4h-3.9zM203.7 753.3h3.9v6.4h-3.9zM287.4 759.4h3.9v6.4h-3.9zM280.1 771.7h3.9v6.4h-3.9zM298.4 771.7h7.9v6.4h-7.9zM203.7 783.9h3.9v6.4h-3.9zM178.2 790h3.9v6.4h-3.9zM261.9 796.1h3.9v6.4h-3.9zM269.2 796.1h3.9v6.4h-3.9zM276.5 796.1h11.2v6.4h-11.2zM294.7 796.1h3.9v6.4h-3.9zM221.9 802.2h3.9v6.4h-3.9zM261.9 802.2h3.9v6.4h-3.9zM269.2 802.2h3.9v6.4h-3.9zM276.5 802.2h3.9v6.4h-3.9zM211 808.3h3.9v6.4h-3.9zM207.3 814.5h3.9v6.4h-3.9zM236.4 814.5h3.9v6.4h-3.9zM247.4 814.5h3.9v6.4h-3.9zM291.1 814.5h3.9v6.4h-3.9zM192.8 826.7h3.9v6.4h-3.9zM196.4 851.1h3.9v6.4h-3.9zM254.7 851.1h3.9v6.4h-3.9zM156.3 863.4h7.6v6.4h-7.6zM170.9 863.4h3.9v6.4h-3.9zM243.7 863.4h7.6v6.4h-7.6zM254.7 863.4h3.9v6.4h-3.9zM261.9 863.4h3.9v6.4h-3.9zM240.1 869.5h3.9v6.4h-3.9zM192.8 875.6h3.9v6.4h-3.9zM200 875.6h3.9v6.4h-3.9zM280.1 875.6h3.9v6.4h-3.9zM196.4 887.8h7.6v6.4h-7.6zM280.1 887.8h7.6v6.4h-7.6zM243.7 893.9h3.9v6.4h-3.9zM251 893.9h3.9v6.4h-3.9zM258.3 893.9h3.9v6.4h-3.9zM218.2 900h3.9v6.4h-3.9zM196.4 906.1h3.9v6.4h-3.9zM214.6 906.1h3.9v6.4h-3.9zM229.2 906.1h7.6v6.4h-7.6zM258.3 906.1h3.9v6.4h-3.9zM243.7 918.4h3.9v6.4h-3.9zM272.9 918.4h3.9v6.4h-3.9zM283.8 918.4h7.6v6.4h-7.6zM294.7 918.4h11.6v6.4h-11.6zM203.7 924.5h3.9v6.4h-3.9z" fill="#ffbfbf"/>
<path d="M211 704.4h3.9v6.4h-3.9zM276.5 704.4h7.6v6.4h-7.6zM258.3 716.7h3.9v6.4h-3.9zM294.7 716.7h11.6v6.4h-11.6zM189.1 735h3.9v6.4h-3.9zM291.1 735h3.9v6.4h-3.9zM261.9 747.2h3.9v6.4h-3.9zM207.3 753.3h7.6v6.4h-7.6zM229.2 759.4h3.9v6.4h-3.9zM240.1 771.7h7.6v6.4h-7.6zM251 771.7h3.9v6.4h-3.9zM283.8 771.7h3.9v6.4h-3.9zM258.3 802.2h3.9v6.4h-3.9zM214.6 808.3h3.9v6.4h-3.9zM229.2 814.5h7.6v6.4h-7.6zM243.7 814.5h3.9v6.4h-3.9zM265.6 814.5h3.9v6.4h-3.9zM272.9 814.5h7.6v6.4h-7.6zM287.4 814.5h3.9v6.4h-3.9zM294.7 814.5h3.9v6.4h-3.9zM218.2 826.7h7.6v6.4h-7.6zM258.3 832.8h3.9v6.4h-3.9zM247.4 838.9h3.9v6.4h-3.9zM258.3 838.9h3.9v6.4h-3.9zM247.4 845h3.9v6.4h-3.9zM258.3 851.1h3.9v6.4h-3.9zM272.9 851.1h3.9v6.4h-3.9zM207.3 857.2h3.9v6.4h-3.9zM196.4 875.6h3.9v6.4h-3.9zM207.3 875.6h7.6v6.4h-7.6zM283.8 875.6h3.9v6.4h-3.9zM243.7 881.7h3.9v6.4h-3.9zM203.7 887.8h3.9v6.4h-3.9zM276.5 887.8h3.9v6.4h-3.9zM247.4 893.9h3.9v6.4h-3.9zM261.9 893.9h3.9v6.4h-3.9zM269.2 893.9h3.9v6.4h-3.9zM280.1 893.9h3.9v6.4h-3.9zM200 906.1h3.9v6.4h-3.9zM207.3 906.1h7.6v6.4h-7.6zM218.2 906.1h3.9v6.4h-3.9zM225.5 906.1h3.9v6.4h-3.9zM261.9 906.1h3.9v6.4h-3.9zM269.2 906.1h3.9v6.4h-3.9zM258.3 912.3h3.9v6.4h-3.9zM276.5 918.4h3.9v6.4h-3.9z" fill="#ffb2b2"/>
<path d="M261.9 698.3h3.9v6.4h-3.9zM236.4 704.4h3.9v6.4h-3.9zM269.2 704.4h3.9v6.4h-3.9zM283.8 704.4h3.9v6.4h-3.9zM283.8 710.5h3.9v6.4h-3.9zM261.9 716.7h3.9v6.4h-3.9zM269.2 716.7h7.6v6.4h-7.6zM280.1 716.7h7.6v6.4h-7.6zM291.1 716.7h3.9v6.4h-3.9zM119.9 722.8h3.9v6.4h-3.9zM225.5 722.8h14.9v6.4h-14.9zM251 722.8h3.9v6.4h-3.9zM203.7 728.9h3.9v6.4h-3.9zM283.8 728.9h3.9v6.4h-3.9zM229.2 735h3.9v6.4h-3.9zM236.4 735h3.9v6.4h-3.9zM298.4 735h7.9v6.4h-7.9zM192.8 741.1h3.9v6.4h-3.9zM229.2 747.2h7.6v6.4h-7.6zM269.2 747.2h3.9v6.4h-3.9zM283.8 759.4h3.9v6.4h-3.9zM258.3 771.7h3.9v6.4h-3.9zM287.4 771.7h3.9v6.4h-3.9zM225.5 777.8h3.9v6.4h-3.9zM280.1 777.8h3.9v6.4h-3.9zM291.1 777.8h3.9v6.4h-3.9zM298.4 777.8h7.9v6.4h-7.9zM214.6 783.9h3.9v6.4h-3.9zM272.9 802.2h3.9v6.4h-3.9zM280.1 802.2h3.9v6.4h-3.9zM258.3 808.3h3.9v6.4h-3.9zM265.6 808.3h3.9v6.4h-3.9zM211 814.5h18.5v6.4h-18.5zM280.1 814.5h7.6v6.4h-7.6zM225.5 826.7h3.9v6.4h-3.9zM247.4 826.7h3.9v6.4h-3.9zM261.9 832.8h3.9v6.4h-3.9zM200 838.9h3.9v6.4h-3.9zM251 838.9h3.9v6.4h-3.9zM200 851.1h3.9v6.4h-3.9zM211 857.2h7.6v6.4h-7.6zM232.8 857.2h3.9v6.4h-3.9zM254.7 857.2h7.6v6.4h-7.6zM269.2 857.2h3.9v6.4h-3.9zM251 863.4h3.9v6.4h-3.9zM203.7 875.6h3.9v6.4h-3.9zM214.6 875.6h3.9v6.4h-3.9zM229.2 875.6h3.9v6.4h-3.9zM294.7 875.6h3.9v6.4h-3.9zM240.1 881.7h3.9v6.4h-3.9zM269.2 881.7h3.9v6.4h-3.9zM265.6 887.8h3.9v6.4h-3.9zM272.9 887.8h3.9v6.4h-3.9zM287.4 887.8h3.9v6.4h-3.9zM254.7 893.9h3.9v6.4h-3.9zM265.6 893.9h3.9v6.4h-3.9zM221.9 900h3.9v6.4h-3.9zM258.3 900h3.9v6.4h-3.9zM294.7 906.1h11.6v6.4h-11.6zM251 912.3h7.6v6.4h-7.6zM261.9 912.3h7.6v6.4h-7.6zM272.9 912.3h7.6v6.4h-7.6zM269.2 918.4h3.9v6.4h-3.9zM280.1 918.4h3.9v6.4h-3.9zM254.7 924.5h3.9v6.4h-3.9z" fill="#ffa6a6"/>
<path d="M218.2 698.3h3.9v6.4h-3.9zM269.2 698.3h7.6v6.4h-7.6zM240.1 704.4h7.6v6.4h-7.6zM265.6 716.7h3.9v6.4h-3.9zM276.5 716.7h3.9v6.4h-3.9zM287.4 716.7h3.9v6.4h-3.9zM87.1 722.8h18.5v6.4h-18.5zM112.6 722.8h7.6v6.4h-7.6zM123.6 722.8h7.6v6.4h-7.6zM207.3 722.8h11.2v6.4h-11.2zM240.1 722.8h11.2v6.4h-11.2zM254.7 722.8h11.2v6.4h-11.2zM269.2 722.8h3.9v6.4h-3.9zM207.3 728.9h7.6v6.4h-7.6zM232.8 735h3.9v6.4h-3.9zM240.1 735h3.9v6.4h-3.9zM276.5 735h3.9v6.4h-3.9zM280.1 741.1h3.9v6.4h-3.9zM294.7 741.1h3.9v6.4h-3.9zM221.9 747.2h7.6v6.4h-7.6zM247.4 747.2h3.9v6.4h-3.9zM214.6 753.3h3.9v6.4h-3.9zM232.8 759.4h3.9v6.4h-3.9zM211 765.6h3.9v6.4h-3.9zM251 765.6h7.6v6.4h-7.6zM247.4 771.7h3.9v6.4h-3.9zM291.1 771.7h7.6v6.4h-7.6zM229.2 777.8h3.9v6.4h-3.9zM207.3 783.9h7.6v6.4h-7.6zM218.2 783.9h3.9v6.4h-3.9zM181.8 790h3.9v6.4h-3.9zM298.4 796.1h7.9v6.4h-7.9zM225.5 802.2h7.6v6.4h-7.6zM283.8 802.2h3.9v6.4h-3.9zM218.2 808.3h3.9v6.4h-3.9zM261.9 808.3h3.9v6.4h-3.9zM196.4 826.7h3.9v6.4h-3.9zM240.1 826.7h7.6v6.4h-7.6zM254.7 838.9h3.9v6.4h-3.9zM261.9 838.9h3.9v6.4h-3.9zM189.1 851.1h3.9v6.4h-3.9zM214.6 851.1h3.9v6.4h-3.9zM247.4 851.1h3.9v6.4h-3.9zM261.9 851.1h11.2v6.4h-11.2zM225.5 857.2h7.6v6.4h-7.6zM261.9 857.2h7.6v6.4h-7.6zM272.9 857.2h3.9v6.4h-3.9zM280.1 857.2h3.9v6.4h-3.9zM123.6 863.4h3.9v6.4h-3.9zM265.6 863.4h7.6v6.4h-7.6zM269.2 869.5h3.9v6.4h-3.9zM218.2 875.6h7.6v6.4h-7.6zM243.7 875.6h3.9v6.4h-3.9zM272.9 875.6h7.6v6.4h-7.6zM287.4 875.6h3.9v6.4h-3.9zM298.4 875.6h7.9v6.4h-7.9zM272.9 881.7h7.6v6.4h-7.6zM283.8 881.7h3.9v6.4h-3.9zM207.3 887.8h3.9v6.4h-3.9zM269.2 887.8h3.9v6.4h-3.9zM272.9 893.9h7.6v6.4h-7.6zM287.4 900h3.9v6.4h-3.9zM240.1 906.1h7.6v6.4h-7.6zM251 906.1h7.6v6.4h-7.6zM207.3 924.5h3.9v6.4h-3.9zM251 924.5h3.9v6.4h-3.9z" fill="#ff9999"/>
<path d="M160 692.2h3.9v6.4h-3.9zM189.1 692.2h11.2v6.4h-11.2zM291.1 692.2h3.9v6.4h-3.9zM298.4 692.2h7.9v6.4h-7.9zM221.9 698.3h3.9v6.4h-3.9zM258.3 698.3h3.9v6.4h-3.9zM276.5 698.3h3.9v6.4h-3.9zM214.6 704.4h3.9v6.4h-3.9zM225.5 704.4h3.9v6.4h-3.9zM232.8 704.4h3.9v6.4h-3.9zM272.9 704.4h3.9v6.4h-3.9zM276.5 710.5h3.9v6.4h-3.9zM79.5 722.8h7.9v6.4h-7.9zM105.3 722.8h7.6v6.4h-7.6zM196.4 722.8h11.2v6.4h-11.2zM218.2 722.8h7.6v6.4h-7.6zM265.6 722.8h3.9v6.4h-3.9zM214.6 728.9h3.9v6.4h-3.9zM203.7 735h3.9v6.4h-3.9zM221.9 735h7.6v6.4h-7.6zM291.1 741.1h3.9v6.4h-3.9zM214.6 747.2h3.9v6.4h-3.9zM258.3 747.2h3.9v6.4h-3.9zM232.8 753.3h7.6v6.4h-7.6zM236.4 759.4h3.9v6.4h-3.9zM254.7 771.7h3.9v6.4h-3.9zM283.8 777.8h3.9v6.4h-3.9zM294.7 777.8h3.9v6.4h-3.9zM236.4 783.9h3.9v6.4h-3.9zM211 790h7.6v6.4h-7.6zM221.9 790h3.9v6.4h-3.9zM254.7 790h3.9v6.4h-3.9zM254.7 802.2h3.9v6.4h-3.9zM254.7 808.3h3.9v6.4h-3.9zM269.2 808.3h7.6v6.4h-7.6zM79.5 820.6h11.6v6.4h-11.6zM101.7 820.6h7.6v6.4h-7.6zM116.3 820.6h3.9v6.4h-3.9zM123.6 820.6h3.9v6.4h-3.9zM214.6 826.7h3.9v6.4h-3.9zM229.2 826.7h11.2v6.4h-11.2zM272.9 832.8h3.9v6.4h-3.9zM294.7 832.8h3.9v6.4h-3.9zM214.6 838.9h3.9v6.4h-3.9zM236.4 838.9h11.2v6.4h-11.2zM192.8 851.1h3.9v6.4h-3.9zM203.7 851.1h3.9v6.4h-3.9zM243.7 851.1h3.9v6.4h-3.9zM221.9 857.2h3.9v6.4h-3.9zM276.5 857.2h3.9v6.4h-3.9zM116.3 863.4h3.9v6.4h-3.9zM127.2 863.4h3.9v6.4h-3.9zM276.5 863.4h3.9v6.4h-3.9zM243.7 869.5h7.6v6.4h-7.6zM265.6 869.5h3.9v6.4h-3.9zM232.8 875.6h3.9v6.4h-3.9zM240.1 875.6h3.9v6.4h-3.9zM291.1 875.6h3.9v6.4h-3.9zM247.4 881.7h3.9v6.4h-3.9zM254.7 881.7h7.6v6.4h-7.6zM265.6 881.7h3.9v6.4h-3.9zM280.1 881.7h3.9v6.4h-3.9zM287.4 881.7h3.9v6.4h-3.9zM218.2 887.8h7.6v6.4h-7.6zM291.1 887.8h3.9v6.4h-3.9zM251 900h3.9v6.4h-3.9zM261.9 900h3.9v6.4h-3.9zM283.8 900h3.9v6.4h-3.9zM247.4 906.1h3.9v6.4h-3.9zM272.9 906.1h3.9v6.4h-3.9zM287.4 906.1h3.9v6.4h-3.9zM269.2 912.3h3.9v6.4h-3.9zM247.4 918.4h3.9v6.4h-3.9zM261.9 918.4h7.6v6.4h-7.6zM211 924.5h3.9v6.4h-3.9zM258.3 924.5h3.9v6.4h-3.9zM272.9 924.5h3.9v6.4h-3.9z" fill="#ff8c8c"/>
<path d="M167.3 692.2h3.9v6.4h-3.9zM294.7 692.2h3.9v6.4h-3.9zM265.6 698.3h3.9v6.4h-3.9zM229.2 704.4h3.9v6.4h-3.9zM247.4 704.4h3.9v6.4h-3.9zM265.6 704.4h3.9v6.4h-3.9zM269.2 710.5h3.9v6.4h-3.9zM280.1 710.5h3.9v6.4h-3.9zM192.8 735h3.9v6.4h-3.9zM200 735h3.9v6.4h-3.9zM207.3 735h3.9v6.4h-3.9zM218.2 735h3.9v6.4h-3.9zM243.7 735h3.9v6.4h-3.9zM272.9 735h3.9v6.4h-3.9zM272.9 741.1h7.6v6.4h-7.6zM287.4 741.1h3.9v6.4h-3.9zM298.4 741.1h7.9v6.4h-7.9zM218.2 753.3h14.9v6.4h-14.9zM269.2 753.3h18.5v6.4h-18.5zM251 759.4h3.9v6.4h-3.9zM276.5 759.4h7.6v6.4h-7.6zM247.4 765.6h3.9v6.4h-3.9zM283.8 765.6h3.9v6.4h-3.9zM261.9 771.7h3.9v6.4h-3.9zM269.2 771.7h11.2v6.4h-11.2zM287.4 777.8h3.9v6.4h-3.9zM240.1 783.9h7.6v6.4h-7.6zM261.9 783.9h3.9v6.4h-3.9zM185.5 790h3.9v6.4h-3.9zM218.2 790h3.9v6.4h-3.9zM251 790h3.9v6.4h-3.9zM221.9 808.3h3.9v6.4h-3.9zM276.5 808.3h7.6v6.4h-7.6zM90.8 820.6h7.6v6.4h-7.6zM112.6 820.6h3.9v6.4h-3.9zM119.9 820.6h3.9v6.4h-3.9zM127.2 820.6h3.9v6.4h-3.9zM200 826.7h3.9v6.4h-3.9zM251 826.7h11.2v6.4h-11.2zM291.1 826.7h3.9v6.4h-3.9zM265.6 832.8h7.6v6.4h-7.6zM203.7 838.9h11.2v6.4h-11.2zM229.2 838.9h3.9v6.4h-3.9zM251 845h7.6v6.4h-7.6zM276.5 845h3.9v6.4h-3.9zM283.8 845h3.9v6.4h-3.9zM207.3 851.1h7.6v6.4h-7.6zM218.2 851.1h3.9v6.4h-3.9zM218.2 857.2h3.9v6.4h-3.9zM236.4 857.2h3.9v6.4h-3.9zM251 857.2h3.9v6.4h-3.9zM287.4 857.2h3.9v6.4h-3.9zM119.9 863.4h3.9v6.4h-3.9zM130.8 863.4h7.6v6.4h-7.6zM272.9 863.4h3.9v6.4h-3.9zM280.1 863.4h3.9v6.4h-3.9zM258.3 869.5h7.6v6.4h-7.6zM225.5 875.6h3.9v6.4h-3.9zM236.4 875.6h3.9v6.4h-3.9zM261.9 875.6h7.6v6.4h-7.6zM251 881.7h3.9v6.4h-3.9zM261.9 881.7h3.9v6.4h-3.9zM291.1 881.7h3.9v6.4h-3.9zM214.6 887.8h3.9v6.4h-3.9zM225.5 887.8h3.9v6.4h-3.9zM232.8 887.8h7.6v6.4h-7.6zM243.7 887.8h3.9v6.4h-3.9zM261.9 887.8h3.9v6.4h-3.9zM283.8 893.9h3.9v6.4h-3.9zM291.1 893.9h3.9v6.4h-3.9zM225.5 900h3.9v6.4h-3.9zM240.1 900h11.2v6.4h-11.2zM254.7 900h3.9v6.4h-3.9zM291.1 900h3.9v6.4h-3.9zM283.8 906.1h3.9v6.4h-3.9zM280.1 912.3h3.9v6.4h-3.9zM269.2 924.5h3.9v6.4h-3.9zM276.5 924.5h3.9v6.4h-3.9z" fill="#ff8080"/>
<path d="M119.9 692.2h3.9v6.4h-3.9zM156.3 692.2h3.9v6.4h-3.9zM163.6 692.2h3.9v6.4h-3.9zM229.2 698.3h7.6v6.4h-7.6zM280.1 698.3h3.9v6.4h-3.9zM218.2 704.4h7.6v6.4h-7.6zM265.6 710.5h3.9v6.4h-3.9zM272.9 710.5h3.9v6.4h-3.9zM218.2 728.9h3.9v6.4h-3.9zM280.1 728.9h3.9v6.4h-3.9zM196.4 735h3.9v6.4h-3.9zM247.4 735h7.6v6.4h-7.6zM265.6 735h7.6v6.4h-7.6zM196.4 741.1h3.9v6.4h-3.9zM254.7 741.1h7.6v6.4h-7.6zM283.8 741.1h3.9v6.4h-3.9zM251 747.2h7.6v6.4h-7.6zM240.1 759.4h7.6v6.4h-7.6zM272.9 759.4h3.9v6.4h-3.9zM214.6 765.6h3.9v6.4h-3.9zM243.7 765.6h3.9v6.4h-3.9zM265.6 771.7h3.9v6.4h-3.9zM232.8 777.8h3.9v6.4h-3.9zM269.2 777.8h11.2v6.4h-11.2zM247.4 783.9h7.6v6.4h-7.6zM298.4 783.9h7.9v6.4h-7.9zM192.8 790h3.9v6.4h-3.9zM258.3 790h11.2v6.4h-11.2zM98.1 820.6h3.9v6.4h-3.9zM109 820.6h3.9v6.4h-3.9zM203.7 826.7h11.2v6.4h-11.2zM261.9 826.7h3.9v6.4h-3.9zM283.8 832.8h3.9v6.4h-3.9zM291.1 832.8h3.9v6.4h-3.9zM218.2 838.9h3.9v6.4h-3.9zM232.8 838.9h3.9v6.4h-3.9zM265.6 838.9h3.9v6.4h-3.9zM280.1 845h3.9v6.4h-3.9zM291.1 845h3.9v6.4h-3.9zM236.4 851.1h3.9v6.4h-3.9zM243.7 857.2h7.6v6.4h-7.6zM283.8 857.2h3.9v6.4h-3.9zM283.8 863.4h3.9v6.4h-3.9zM272.9 869.5h11.2v6.4h-11.2zM229.2 887.8h3.9v6.4h-3.9zM251 887.8h7.6v6.4h-7.6zM287.4 893.9h3.9v6.4h-3.9zM298.4 893.9h7.9v6.4h-7.9zM229.2 900h3.9v6.4h-3.9zM236.4 900h3.9v6.4h-3.9zM276.5 906.1h7.6v6.4h-7.6zM291.1 906.1h3.9v6.4h-3.9zM251 918.4h3.9v6.4h-3.9zM258.3 918.4h3.9v6.4h-3.9zM247.4 924.5h3.9v6.4h-3.9zM261.9 924.5h7.6v6.4h-7.6zM287.4 924.5h3.9v6.4h-3.9zM298.4 924.5h7.9v6.4h-7.9z" fill="#ff7373"/>
<path d="M116.3 692.2h3.9v6.4h-3.9zM225.5 698.3h3.9v6.4h-3.9zM251 698.3h7.6v6.4h-7.6zM283.8 698.3h3.9v6.4h-3.9zM291.1 698.3h3.9v6.4h-3.9zM251 704.4h3.9v6.4h-3.9zM211 735h3.9v6.4h-3.9zM243.7 741.1h11.2v6.4h-11.2zM261.9 741.1h3.9v6.4h-3.9zM240.1 753.3h11.2v6.4h-11.2zM247.4 759.4h3.9v6.4h-3.9zM254.7 759.4h3.9v6.4h-3.9zM269.2 759.4h3.9v6.4h-3.9zM236.4 765.6h7.6v6.4h-7.6zM258.3 765.6h3.9v6.4h-3.9zM280.1 765.6h3.9v6.4h-3.9zM287.4 765.6h3.9v6.4h-3.9zM265.6 783.9h3.9v6.4h-3.9zM189.1 790h3.9v6.4h-3.9zM196.4 790h3.9v6.4h-3.9zM207.3 790h3.9v6.4h-3.9zM225.5 790h3.9v6.4h-3.9zM269.2 790h3.9v6.4h-3.9zM232.8 802.2h3.9v6.4h-3.9zM247.4 802.2h7.6v6.4h-7.6zM236.4 808.3h3.9v6.4h-3.9zM247.4 808.3h7.6v6.4h-7.6zM287.4 808.3h3.9v6.4h-3.9zM287.4 826.7h3.9v6.4h-3.9zM298.4 832.8h7.9v6.4h-7.9zM225.5 838.9h3.9v6.4h-3.9zM269.2 838.9h3.9v6.4h-3.9zM261.9 845h3.9v6.4h-3.9zM269.2 845h3.9v6.4h-3.9zM240.1 851.1h3.9v6.4h-3.9zM240.1 857.2h3.9v6.4h-3.9zM247.4 875.6h7.6v6.4h-7.6zM269.2 875.6h3.9v6.4h-3.9zM211 887.8h3.9v6.4h-3.9zM247.4 887.8h3.9v6.4h-3.9zM258.3 887.8h3.9v6.4h-3.9zM294.7 893.9h3.9v6.4h-3.9zM232.8 900h3.9v6.4h-3.9zM283.8 912.3h3.9v6.4h-3.9zM254.7 918.4h3.9v6.4h-3.9zM214.6 924.5h3.9v6.4h-3.9zM243.7 924.5h3.9v6.4h-3.9z" fill="#ff6666"/>
<path d="M236.4 698.3h7.6v6.4h-7.6zM287.4 698.3h3.9v6.4h-3.9zM254.7 704.4h7.6v6.4h-7.6zM247.4 728.9h3.9v6.4h-3.9zM214.6 735h3.9v6.4h-3.9zM261.9 735h3.9v6.4h-3.9zM211 741.1h3.9v6.4h-3.9zM240.1 741.1h3.9v6.4h-3.9zM269.2 741.1h3.9v6.4h-3.9zM251 753.3h3.9v6.4h-3.9zM265.6 753.3h3.9v6.4h-3.9zM258.3 759.4h3.9v6.4h-3.9zM265.6 759.4h3.9v6.4h-3.9zM261.9 765.6h7.6v6.4h-7.6zM272.9 765.6h7.6v6.4h-7.6zM254.7 783.9h7.6v6.4h-7.6zM200 790h7.6v6.4h-7.6zM232.8 790h3.9v6.4h-3.9zM243.7 790h3.9v6.4h-3.9zM236.4 802.2h3.9v6.4h-3.9zM243.7 802.2h3.9v6.4h-3.9zM225.5 808.3h3.9v6.4h-3.9zM232.8 808.3h3.9v6.4h-3.9zM283.8 808.3h3.9v6.4h-3.9zM276.5 832.8h7.6v6.4h-7.6zM287.4 832.8h3.9v6.4h-3.9zM294.7 838.9h3.9v6.4h-3.9zM258.3 845h3.9v6.4h-3.9zM265.6 845h3.9v6.4h-3.9zM272.9 845h3.9v6.4h-3.9zM287.4 845h3.9v6.4h-3.9zM232.8 851.1h3.9v6.4h-3.9zM287.4 863.4h7.6v6.4h-7.6zM251 869.5h7.6v6.4h-7.6zM258.3 875.6h3.9v6.4h-3.9zM291.1 912.3h3.9v6.4h-3.9zM218.2 924.5h3.9v6.4h-3.9zM232.8 924.5h11.2v6.4h-11.2zM283.8 924.5h3.9v6.4h-3.9zM291.1 924.5h3.9v6.4h-3.9z" fill="#ff5959"/>
<path d="M280.1 692.2h3.9v6.4h-3.9zM287.4 692.2h3.9v6.4h-3.9zM243.7 698.3h3.9v6.4h-3.9zM294.7 698.3h11.6v6.4h-11.6zM261.9 704.4h3.9v6.4h-3.9zM221.9 728.9h3.9v6.4h-3.9zM229.2 728.9h3.9v6.4h-3.9zM251 728.9h3.9v6.4h-3.9zM269.2 728.9h3.9v6.4h-3.9zM276.5 728.9h3.9v6.4h-3.9zM258.3 735h3.9v6.4h-3.9zM200 741.1h3.9v6.4h-3.9zM207.3 741.1h3.9v6.4h-3.9zM214.6 741.1h3.9v6.4h-3.9zM225.5 741.1h3.9v6.4h-3.9zM254.7 753.3h3.9v6.4h-3.9zM261.9 759.4h3.9v6.4h-3.9zM218.2 765.6h3.9v6.4h-3.9zM232.8 765.6h3.9v6.4h-3.9zM269.2 765.6h3.9v6.4h-3.9zM236.4 777.8h7.6v6.4h-7.6zM261.9 777.8h7.6v6.4h-7.6zM236.4 790h7.6v6.4h-7.6zM240.1 802.2h3.9v6.4h-3.9zM240.1 808.3h7.6v6.4h-7.6zM291.1 808.3h3.9v6.4h-3.9zM283.8 826.7h3.9v6.4h-3.9zM221.9 838.9h3.9v6.4h-3.9zM298.4 838.9h7.9v6.4h-7.9zM294.7 845h3.9v6.4h-3.9zM221.9 851.1h3.9v6.4h-3.9zM229.2 851.1h3.9v6.4h-3.9zM294.7 863.4h11.6v6.4h-11.6zM240.1 887.8h3.9v6.4h-3.9zM287.4 912.3h3.9v6.4h-3.9zM221.9 924.5h3.9v6.4h-3.9zM280.1 924.5h3.9v6.4h-3.9zM294.7 924.5h3.9v6.4h-3.9z" fill="#ff4d4d"/>
<path d="M170.9 692.2h7.6v6.4h-7.6zM185.5 692.2h3.9v6.4h-3.9zM283.8 692.2h3.9v6.4h-3.9zM247.4 698.3h3.9v6.4h-3.9zM225.5 728.9h3.9v6.4h-3.9zM254.7 735h3.9v6.4h-3.9zM203.7 741.1h3.9v6.4h-3.9zM218.2 741.1h7.6v6.4h-7.6zM229.2 741.1h3.9v6.4h-3.9zM236.4 741.1h3.9v6.4h-3.9zM265.6 741.1h3.9v6.4h-3.9zM258.3 753.3h3.9v6.4h-3.9zM221.9 765.6h3.9v6.4h-3.9zM243.7 777.8h7.6v6.4h-7.6zM229.2 790h3.9v6.4h-3.9zM247.4 790h3.9v6.4h-3.9zM229.2 808.3h3.9v6.4h-3.9zM294.7 826.7h11.6v6.4h-11.6zM254.7 875.6h3.9v6.4h-3.9zM225.5 924.5h7.6v6.4h-7.6z" fill="#ff4040"/>
<path d="M178.2 692.2h3.9v6.4h-3.9zM276.5 692.2h3.9v6.4h-3.9zM232.8 728.9h3.9v6.4h-3.9zM243.7 728.9h3.9v6.4h-3.9zM254.7 728.9h3.9v6.4h-3.9zM261.9 728.9h7.6v6.4h-7.6zM272.9 728.9h3.9v6.4h-3.9zM232.8 741.1h3.9v6.4h-3.9zM261.9 753.3h3.9v6.4h-3.9zM225.5 765.6h3.9v6.4h-3.9zM291.1 765.6h3.9v6.4h-3.9zM251 777.8h7.6v6.4h-7.6zM298.4 845h7.9v6.4h-7.9zM225.5 851.1h3.9v6.4h-3.9z" fill="#ff3333"/>
<path d="M181.8 692.2h3.9v6.4h-3.9zM236.4 728.9h3.9v6.4h-3.9zM258.3 728.9h3.9v6.4h-3.9zM291.1 759.4h15.2v6.4h-15.2zM229.2 765.6h3.9v6.4h-3.9zM294.7 765.6h11.6v6.4h-11.6zM287.4 802.2h3.9v6.4h-3.9zM298.4 802.2h7.9v6.4h-7.9zM294.7 808.3h11.6v6.4h-11.6zM294.7 881.7h3.9v6.4h-3.9z" fill="#ff2626"/>
<path d="M123.6 692.2h3.9v6.4h-3.9zM134.5 692.2h7.6v6.4h-7.6zM203.7 692.2h11.2v6.4h-11.2zM243.7 692.2h3.9v6.4h-3.9zM269.2 692.2h3.9v6.4h-3.9zM291.1 704.4h7.6v6.4h-7.6zM240.1 728.9h3.9v6.4h-3.9zM291.1 753.3h7.6v6.4h-7.6zM258.3 777.8h3.9v6.4h-3.9zM291.1 802.2h7.6v6.4h-7.6zM254.7 820.6h7.6v6.4h-7.6zM294.7 900h11.6v6.4h-11.6zM294.7 912.3h11.6v6.4h-11.6z" fill="#ff1919"/>
<path d="M127.2 692.2h3.9v6.4h-3.9zM141.8 692.2h3.9v6.4h-3.9zM149.1 692.2h7.6v6.4h-7.6zM200 692.2h3.9v6.4h-3.9zM214.6 692.2h22.2v6.4h-22.2zM240.1 692.2h3.9v6.4h-3.9zM247.4 692.2h7.6v6.4h-7.6zM258.3 692.2h7.6v6.4h-7.6zM272.9 692.2h3.9v6.4h-3.9zM298.4 704.4h7.9v6.4h-7.9zM298.4 753.3h7.9v6.4h-7.9zM243.7 820.6h11.2v6.4h-11.2zM261.9 820.6h7.6v6.4h-7.6zM276.5 820.6h3.9v6.4h-3.9zM291.1 820.6h3.9v6.4h-3.9zM298.4 881.7h7.9v6.4h-7.9z" fill="#ff0d0d"/>
<path d="M130.8 692.2h3.9v6.4h-3.9zM145.4 692.2h3.9v6.4h-3.9zM236.4 692.2h3.9v6.4h-3.9zM254.7 692.2h3.9v6.4h-3.9zM265.6 692.2h3.9v6.4h-3.9zM287.4 753.3h3.9v6.4h-3.9zM229.2 820.6h14.9v6.4h-14.9zM269.2 820.6h7.6v6.4h-7.6zM280.1 820.6h11.2v6.4h-11.2z" fill="#ff0000"/>
</g></g>
<path d="M156.8 692.5V931" stroke="#0c0" stroke-width="3.4" stroke-dasharray="9.8 5.6"/>
<g fill="#ff2a1a" stroke="#000" stroke-width="1"><circle cx="225.5" cy="698.7" r="4.3"/><circle cx="240.4" cy="704.9" r="4.3"/><circle cx="233.1" cy="711.5" r="4.3"/><circle cx="276.6" cy="717.2" r="4.3"/><circle cx="283.9" cy="723.1" r="4.3"/><circle cx="240.4" cy="729.1" r="4.3"/><circle cx="218.7" cy="735.4" r="4.3"/><circle cx="211.1" cy="741.6" r="4.3"/><circle cx="218.1" cy="747.6" r="4.3"/><circle cx="207.3" cy="753.6" r="4.3"/><circle cx="229.6" cy="759.3" r="4.3"/><circle cx="254.8" cy="765.5" r="4.3"/><circle cx="233.1" cy="772" r="4.3"/><circle cx="262.2" cy="778" r="4.3"/><circle cx="244" cy="784" r="4.3"/><circle cx="229.6" cy="790" r="4.3"/><circle cx="203.7" cy="795.9" r="4.3"/><circle cx="258.9" cy="802.5" r="4.3"/><circle cx="240.4" cy="808.7" r="4.3"/><circle cx="233.1" cy="814.1" r="4.3"/><circle cx="225.5" cy="820.4" r="4.3"/><circle cx="291.5" cy="826.4" r="4.3"/><circle cx="218.7" cy="832.6" r="4.3"/><circle cx="229.6" cy="838.6" r="4.3"/><circle cx="214.6" cy="844.6" r="4.3"/><circle cx="266.2" cy="850.8" r="4.3"/><circle cx="211.1" cy="856.8" r="4.3"/><circle cx="229.6" cy="863" r="4.3"/><circle cx="266.2" cy="869" r="4.3"/><circle cx="254.8" cy="874.7" r="4.3"/><circle cx="214.6" cy="881" r="4.3"/><circle cx="244" cy="887" r="4.3"/><circle cx="222.2" cy="893.5" r="4.3"/><circle cx="262.2" cy="899.7" r="4.3"/><circle cx="244" cy="905.2" r="4.3"/><circle cx="222.2" cy="911.1" r="4.3"/><circle cx="273.6" cy="917.4" r="4.3"/><circle cx="273.6" cy="923.6" r="4.3"/><circle cx="233.1" cy="929.6" r="4.3"/></g>
<path d="M81.5 695V933.8M80 932.3H302.5M82.9 932.3v7.6M156.2 932.3v7.6M229.6 932.3v7.6M300 932.3v7.6M81.5 753.8h-9.6M81.5 814.2h-9.6M81.5 874.7h-9.6" stroke="#231f20" stroke-width="3.3" fill="none"/>
<text x="79" y="966.3" font-size="26.8" text-anchor="middle" fill="#231f20">-0.5</text>
<text x="156.5" y="966.3" font-size="26.8" text-anchor="middle" fill="#231f20">0</text>
<text x="231.5" y="966.3" font-size="26.8" text-anchor="middle" fill="#231f20">0.5</text>
<text x="298.7" y="966.3" font-size="26.8" text-anchor="middle" fill="#231f20">1</text>
<text x="201.7" y="992" font-size="26.8" text-anchor="middle" fill="#231f20">Time from  CS (s)</text>
<text x="66.5" y="764.7" font-size="26.8" text-anchor="end" fill="#231f20">10</text>
<text x="66.5" y="825.1" font-size="26.8" text-anchor="end" fill="#231f20">20</text>
<text x="66.5" y="885.6" font-size="26.8" text-anchor="end" fill="#231f20">30</text>
<text transform="translate(24.3 821) rotate(-90)" font-size="26.8" text-anchor="middle" fill="#231f20">Trial number</text>
<linearGradient id="cb2" x1="0" y1="0" x2="0" y2="1"><stop offset="0" stop-color="#f00"/><stop offset="0.5" stop-color="#fff"/><stop offset="1" stop-color="#00f"/></linearGradient>
<rect x="306.8" y="697.9" width="7" height="237.6" fill="url(#cb2)"/>
<text x="318.4" y="709.2" font-size="26.8" fill="#231f20">4000</text>
<text x="318.4" y="823.8" font-size="26.8" fill="#231f20">0</text>
<text x="318.4" y="943" font-size="26.8" fill="#231f20">-4000</text>
<text transform="translate(372.3 813.5) rotate(90)" font-size="26.8" text-anchor="middle" fill="#231f20">Change in</text>
<text transform="translate(340.7 818.3) rotate(90)" font-size="26.8" text-anchor="middle" fill="#231f20">force (mN/s)</text>
<text x="632" y="565.6" text-anchor="middle" font-style="italic">Force grouped by</text>
<text x="631" y="596.3" text-anchor="middle" font-style="italic">trials in session</text>
<path d="M590.2 679.1L618.7 679.1" stroke="#f85a5a" stroke-width="3.2" stroke-linecap="round"/>
<text x="632.3" y="685.6" font-size="25.2" font-style="italic">First half</text>
<path d="M590.2 698.7L618.7 698.7" stroke="#6e6ef7" stroke-width="3.2" stroke-linecap="round"/>
<text x="632.3" y="706.8" font-size="25.2" font-style="italic">Second half</text>
<path d="M542 875.8H758" stroke="#000" stroke-width="2.9" stroke-linecap="round" stroke-dasharray="0.1 6.55"/>
<path d="M541.3 876.4C546.1 876.2 562.9 875.6 570.1 875.2C577.3 874.8 580.9 873.9 584.5 874C588.1 874.1 589.3 874.9 591.7 875.8C594.1 876.7 596.5 878.4 598.9 879.3C601.3 880.3 603.7 881.1 606.1 881.7C608.5 882.3 610.9 882.8 613.3 882.9C615.7 883 618.1 882.8 620.5 882.3C622.9 881.8 625.3 880.9 627.7 879.9C630.1 878.9 632.5 877.9 634.9 876.4C637.3 874.9 639.7 873.4 642.1 871.1C644.5 868.7 646.9 865.9 649.3 862.3C651.7 858.6 654.1 854.4 656.5 849.3C658.9 844.2 661.3 837.5 663.7 831.6C666.1 825.7 668.5 819.6 670.9 814C673.3 808.4 675.7 803.1 678.1 798.1C680.5 793 682.9 788 685.2 783.9C687.6 779.8 690 776 692.4 773.3C694.8 770.7 697.2 769 699.6 768C702 767 704.4 766.7 706.8 767.4C709.2 768.1 711.6 770.1 714 772.1C716.4 774.2 718.8 777 721.2 779.8C723.6 782.5 726 785.3 728.4 788.6C730.8 792 733.2 795.6 735.6 799.8C738 804 740.4 808.4 742.8 814C745.2 819.6 747.6 826.8 750 833.4C752.4 840 756 850.1 757.2 853.4" stroke="#6e6ef7" stroke-width="3.5" fill="none"/>
<path d="M541.3 893.5C542.5 894.3 546.1 898 548.5 898.2C550.9 898.4 553.3 896.4 555.7 894.6C558.1 892.9 560.5 889.9 562.9 887.6C565.3 885.2 567.7 883 570.1 880.5C572.5 878.1 574.9 874.2 577.3 872.9C579.7 871.5 582.1 871.8 584.5 872.3C586.9 872.8 589.3 874.4 591.7 875.8C594.1 877.2 596.5 879 598.9 880.5C601.3 882 603.7 883.7 606.1 884.6C608.5 885.6 610.9 886.3 613.3 886.4C615.7 886.5 618.1 885.8 620.5 885.2C622.9 884.6 625.3 883.8 627.7 882.9C630.1 882 632.5 881.6 634.9 879.9C637.3 878.3 639.7 876.3 642.1 872.9C644.5 869.4 646.9 864.9 649.3 859.3C651.7 853.7 654.1 845.7 656.5 839.3C658.9 832.9 661.3 825.9 663.7 821C666.1 816.1 668.5 813 670.9 809.8C673.3 806.7 675.7 804.7 678.1 802.2C680.5 799.6 682.9 797.3 685.2 794.5C687.6 791.8 690 788.4 692.4 785.7C694.8 782.9 697.2 779.1 699.6 778C702 776.9 704.4 777.8 706.8 779.2C709.2 780.6 711.6 783.7 714 786.3C716.4 788.8 718.8 792.4 721.2 794.5C723.6 796.7 726 798.1 728.4 799.2C730.8 800.4 733.2 799.8 735.6 801.6C738 803.4 740.4 805.1 742.8 809.8C745.2 814.5 747.6 822.5 750 829.9C752.4 837.2 756 850 757.2 854" stroke="#f85a5a" stroke-width="3.5" fill="none"/>
<path d="M540.5 697.3V935.6M539.1 934.2H758.6M540.5 934.2v9.5M613.3 934.2v9.5M684.7 934.2v9.5M757.2 934.2v9.5M540.5 698.7h-10M540.5 757.9h-10M540.5 816.9h-10M540.5 875.8h-10M540.5 934.2h-10" stroke="#000" stroke-width="3.5" fill="none"/>
<text x="534" y="966.3" text-anchor="middle">-0.5</text>
<text x="613.5" y="966.3" text-anchor="middle">0</text>
<text x="684.5" y="966.3" text-anchor="middle">0.5</text>
<text x="757.5" y="966.3" text-anchor="middle">1</text>
<text x="658.5" y="993.3" font-size="25.2" text-anchor="middle">Time from CS (s)</text>
<text x="524" y="709" text-anchor="end">3000</text>
<text x="524" y="768.2" text-anchor="end">2000</text>
<text x="524" y="827.2" text-anchor="end">1000</text>
<text x="524" y="886.1" text-anchor="end">0</text>
<text x="524" y="944.5" text-anchor="end">-1000</text>
<text transform="translate(457 818.8) rotate(-90)" text-anchor="middle">Change in force (mN/s)</text>
<text x="799" y="520.2" font-size="36" font-weight="bold" fill="#231f20">d</text>
<text x="1030" y="550" font-size="26.5" text-anchor="middle" font-style="italic" fill="#231f20">Same DA neuron</text>
<path d="M1150 498.8L1150 580.8" stroke="#000" stroke-width="2.8"/>
<path d="M1150 481.4L1162 510.4L1150 502.3L1138 510.4Z"/>
<path d="M1150 598.2L1162 569.2L1150 577.3L1138 569.2Z"/>
<text x="991" y="607.7" font-size="29.8" text-anchor="middle" font-weight="bold" font-style="italic" fill="#231f20">Sorted by</text>
<text x="994.8" y="643.8" font-size="29.8" text-anchor="middle" font-weight="bold" font-style="italic" fill="#231f20">trial in session</text>
<g transform="translate(928.5 660.7) scale(1)" stroke="#000" fill="none"><path d="M0.5 7.4H6.5L14.5 0.2V24.8L6.5 17.6H0.5Z" fill="#00e400" stroke-width="1" stroke-linejoin="miter"/><path d="M6.4 7.4V17.6" stroke-width="1"/><path d="M17.9 8.2Q21.7 12.5 17.9 16.8M20.9 5.2Q26.9 12.5 20.9 19.8M24.3 1Q33.1 12 24.3 22.8" stroke-width="1.05"/></g>
<circle cx="991" cy="670.2" r="6.8" fill="#ff2a1a" stroke="#000" stroke-width="1"/>
<text x="1006.8" y="679.7" font-style="italic">CR onset</text>
<path d="M899.5 695.9v8M959.5 695.9v8M970.7 695.9v8M972.6 695.9v8M978.3 695.9v8M989.5 695.9v8M1017.6 695.9v8M1057 695.9v8M1070.2 695.9v8M916.3 702v8M940.7 702v8M875.1 708.1v8M927.6 708.1v8M961.4 708.1v8M877 714.2v8M953.9 714.2v8M970.7 714.2v8M982 714.2v8M985.8 714.2v8M963.2 720.3v8M884.5 726.4v8M923.9 726.4v8M965.1 726.4v8M967 726.4v8M983.9 726.4v8M998.9 726.4v8M1010.1 726.4v8M1075.8 726.4v8M877 732.5v8M922 732.5v8M929.5 732.5v8M952 732.5v8M965.1 732.5v8M968.9 732.5v8M982 732.5v8M884.5 738.6v8M923.9 738.6v8M952 738.6v8M955.7 738.6v8M959.5 738.6v8M967 738.6v8M968.9 738.6v8M970.7 738.6v8M985.8 738.6v8M1027 738.6v8M877 744.7v8M907 744.7v8M908.8 744.7v8M933.2 744.7v8M942.6 744.7v8M976.4 744.7v8M983.9 744.7v8M985.8 744.7v8M993.3 744.7v8M1049.5 744.7v8M922 750.8v8M929.5 750.8v8M937 750.8v8M955.7 750.8v8M968.9 750.8v8M995.1 750.8v8M1079.6 750.8v8M1083.3 750.8v8M886.3 756.9v8M901.3 756.9v8M959.5 756.9v8M967 756.9v8M970.7 756.9v8M991.4 756.9v8M1045.8 756.9v8M1058.9 756.9v8M893.8 763v8M923.9 763v8M953.9 763v8M965.1 763v8M967 763v8M970.7 763v8M987.6 763v8M1062.7 763v8M1073.9 763v8M884.5 769.1v8M886.3 769.1v8M907 769.1v8M908.8 769.1v8M923.9 769.1v8M961.4 769.1v8M982 769.1v8M998.9 769.1v8M1083.3 769.1v8M908.8 775.2v8M963.2 775.2v8M967 775.2v8M968.9 775.2v8M983.9 775.2v8M995.1 775.2v8M1027 775.2v8M1077.7 775.2v8M1079.6 775.2v8M871.3 781.3v8M886.3 781.3v8M903.2 781.3v8M918.2 781.3v8M944.5 781.3v8M961.4 781.3v8M965.1 781.3v8M976.4 781.3v8M991.4 781.3v8M880.7 787.4v8M961.4 787.4v8M972.6 787.4v8M976.4 787.4v8M978.3 787.4v8M1013.9 787.4v8M1045.8 787.4v8M1075.8 787.4v8M968.9 793.5v8M970.7 793.5v8M972.6 793.5v8M978.3 793.5v8M982 793.5v8M995.1 793.5v8M1006.4 793.5v8M886.3 799.6v8M901.3 799.6v8M907 799.6v8M944.5 799.6v8M953.9 799.6v8M968.9 799.6v8M970.7 799.6v8M918.2 805.7v8M927.6 805.7v8M963.2 805.7v8M965.1 805.7v8M976.4 805.7v8M987.6 805.7v8M997 805.7v8M1040.2 805.7v8M890.1 811.8v8M923.9 811.8v8M925.7 811.8v8M944.5 811.8v8M978.3 811.8v8M982 811.8v8M989.5 811.8v8M993.3 811.8v8M1000.8 811.8v8M1036.4 811.8v8M1057 811.8v8M1081.4 811.8v8M908.8 817.9v8M961.4 817.9v8M967 817.9v8M970.7 817.9v8M873.2 824v8M923.9 824v8M944.5 824v8M967 824v8M993.3 824v8M1053.3 824v8M1060.8 824v8M1068.3 824v8M1083.3 824v8M965.1 830.1v8M970.7 830.1v8M972.6 830.1v8M982 830.1v8M983.9 830.1v8M989.5 830.1v8M991.4 830.1v8M1049.5 830.1v8M888.2 836.2v8M955.7 836.2v8M1040.2 836.2v8M884.5 842.3v8M914.5 842.3v8M965.1 842.3v8M967 842.3v8M972.6 842.3v8M983.9 842.3v8M1043.9 842.3v8M1049.5 842.3v8M1058.9 842.3v8M1066.4 842.3v8M907 848.4v8M908.8 848.4v8M937 848.4v8M955.7 848.4v8M965.1 848.4v8M968.9 848.4v8M972.6 848.4v8M983.9 848.4v8M1051.4 848.4v8M1058.9 848.4v8M890.1 854.5v8M972.6 854.5v8M982 854.5v8M991.4 854.5v8M1006.4 854.5v8M1066.4 854.5v8M959.5 860.6v8M974.5 860.6v8M989.5 860.6v8M1027 860.6v8M875.1 866.7v8M916.3 866.7v8M923.9 866.7v8M927.6 866.7v8M957.6 866.7v8M965.1 866.7v8M982 866.7v8M1036.4 866.7v8M875.1 872.8v8M882.6 872.8v8M892 872.8v8M965.1 872.8v8M967 872.8v8M968.9 872.8v8M1008.3 872.8v8M1038.3 872.8v8M1083.3 872.8v8M965.1 878.9v8M967 878.9v8M970.7 878.9v8M972.6 878.9v8M974.5 878.9v8M987.6 878.9v8M1047.7 878.9v8M1075.8 878.9v8M897.6 885v8M963.2 885v8M965.1 885v8M968.9 885v8M970.7 885v8M980.1 885v8M1025.1 885v8M1032.7 885v8M950.1 891.1v8M961.4 891.1v8M967 891.1v8M1025.1 891.1v8M1066.4 891.1v8M1068.3 891.1v8M901.3 897.2v8M961.4 897.2v8M965.1 897.2v8M1028.9 897.2v8M880.7 903.3v8M903.2 903.3v8M944.5 903.3v8M952 903.3v8M955.7 903.3v8M967 903.3v8M970.7 903.3v8M974.5 903.3v8M980.1 903.3v8M982 903.3v8M985.8 903.3v8M987.6 903.3v8M989.5 903.3v8M991.4 903.3v8M961.4 909.4v8M976.4 909.4v8M980.1 909.4v8M983.9 909.4v8M903.2 915.5v8M965.1 915.5v8M967 915.5v8M968.9 915.5v8M970.7 915.5v8M974.5 915.5v8M985.8 915.5v8M995.1 915.5v8M1030.8 915.5v8M873.2 921.6v8M901.3 921.6v8M918.2 921.6v8M927.6 921.6v8M963.2 921.6v8M965.1 921.6v8M967 921.6v8M968.9 921.6v8M970.7 921.6v8M1015.8 921.6v8M1027 921.6v8M877 927.7v8M888.2 927.7v8M905.1 927.7v8M908.8 927.7v8M961.4 927.7v8M963.2 927.7v8M974.5 927.7v8M985.8 927.7v8M1045.8 927.7v8" stroke="#000" stroke-width="3.3" fill="none"/>
<path d="M941.6 696V932.5" stroke="#0c0" stroke-width="3.4" stroke-dasharray="9.8 5.6"/>
<path d="M869.6 694V934.6M868.1 933.1H1089M871 933.1v7.6M941.6 933.1v7.6M1013.6 933.1v7.6M1087.5 933.1v7.6M869.6 753.8h-9.6M869.6 814.7h-9.6M869.6 875.8h-9.6" stroke="#231f20" stroke-width="3.3" fill="none"/>
<g fill="#ff2a1a" stroke="#000" stroke-width="1"><circle cx="1010.6" cy="699" r="4.3"/><circle cx="1025.5" cy="705.2" r="4.3"/><circle cx="1018.2" cy="711.7" r="4.3"/><circle cx="1061.7" cy="717.4" r="4.3"/><circle cx="1069" cy="723.4" r="4.3"/><circle cx="1025.5" cy="729.4" r="4.3"/><circle cx="1003.8" cy="735.6" r="4.3"/><circle cx="996.2" cy="741.9" r="4.3"/><circle cx="1003.3" cy="747.9" r="4.3"/><circle cx="992.4" cy="753.8" r="4.3"/><circle cx="1014.7" cy="759.5" r="4.3"/><circle cx="1039.9" cy="765.8" r="4.3"/><circle cx="1018.2" cy="772.3" r="4.3"/><circle cx="1047.3" cy="778.3" r="4.3"/><circle cx="1029.1" cy="784.3" r="4.3"/><circle cx="1014.7" cy="790.2" r="4.3"/><circle cx="988.9" cy="796.2" r="4.3"/><circle cx="1044" cy="802.7" r="4.3"/><circle cx="1025.5" cy="809" r="4.3"/><circle cx="1018.2" cy="814.4" r="4.3"/><circle cx="1010.6" cy="820.7" r="4.3"/><circle cx="1076.6" cy="826.6" r="4.3"/><circle cx="1003.8" cy="832.9" r="4.3"/><circle cx="1014.7" cy="838.9" r="4.3"/><circle cx="999.7" cy="844.8" r="4.3"/><circle cx="1051.3" cy="851.1" r="4.3"/><circle cx="996.2" cy="857.1" r="4.3"/><circle cx="1014.7" cy="863.3" r="4.3"/><circle cx="1051.3" cy="869.3" r="4.3"/><circle cx="1039.9" cy="875" r="4.3"/><circle cx="999.7" cy="881.2" r="4.3"/><circle cx="1029.1" cy="887.2" r="4.3"/><circle cx="1007.3" cy="893.7" r="4.3"/><circle cx="1047.3" cy="900" r="4.3"/><circle cx="1029.1" cy="905.4" r="4.3"/><circle cx="1007.3" cy="911.4" r="4.3"/><circle cx="1058.7" cy="917.7" r="4.3"/><circle cx="1058.7" cy="923.9" r="4.3"/><circle cx="1018.2" cy="929.9" r="4.3"/></g>
<text x="863.5" y="964" font-size="26.8" text-anchor="middle" fill="#231f20">-0.5</text>
<text x="942" y="964" font-size="26.8" text-anchor="middle" fill="#231f20">0</text>
<text x="1014.5" y="964" font-size="26.8" text-anchor="middle" fill="#231f20">0.5</text>
<text x="1086" y="964" font-size="26.8" text-anchor="middle" fill="#231f20">1</text>
<text x="976.8" y="993.7" font-size="26.8" text-anchor="middle" fill="#231f20">Time from  CS (s)</text>
<text x="858.7" y="764.3" font-size="26.8" text-anchor="end" fill="#231f20">10</text>
<text x="858.7" y="825.2" font-size="26.8" text-anchor="end" fill="#231f20">20</text>
<text x="858.7" y="886.3" font-size="26.8" text-anchor="end" fill="#231f20">30</text>
<text transform="translate(825 815.2) rotate(-90)" font-size="26.8" text-anchor="middle" fill="#231f20">Trial number</text>
<text x="1431.8" y="573.8" text-anchor="middle" font-style="italic">Firing rate grouped by trials in session</text>
<path d="M1235.5 619.2L1263.8 619.2" stroke="#f85a5a" stroke-width="3.2" stroke-linecap="round"/>
<text x="1277" y="625.7" font-size="24.9" font-style="italic">First half</text>
<path d="M1235.5 640L1263.8 640" stroke="#6e6ef7" stroke-width="3.2" stroke-linecap="round"/>
<text x="1277" y="646.5" font-size="24.9" font-style="italic">Second half</text>
<g transform="translate(1240 665.6) scale(1)" stroke="#000" fill="none"><path d="M0.5 7.4H6.5L14.5 0.2V24.8L6.5 17.6H0.5Z" fill="#00e400" stroke-width="1" stroke-linejoin="miter"/><path d="M6.4 7.4V17.6" stroke-width="1"/><path d="M17.9 8.2Q21.7 12.5 17.9 16.8M20.9 5.2Q26.9 12.5 20.9 19.8M24.3 1Q33.1 12 24.3 22.8" stroke-width="1.05"/></g>
<path d="M1253.5 698.7V935" stroke="#0c0" stroke-width="3.7" stroke-dasharray="9.8 5.6"/>
<path d="M1182.5 696.2V936.6M1181.1 935.2H1400.3M1182.5 935.2v9M1254 935.2v9M1325.9 935.2v9M1398.9 935.2v9M1182.5 697.6h-10M1182.5 777h-10M1182.5 856.5h-10M1182.5 935.2h-10" stroke="#000" stroke-width="3.5" fill="none"/>
<path d="M1181.7 909.9L1184.6 907.5L1187.5 911.4L1190.4 909.1L1193.3 903.5L1196.2 901.9L1199.1 906.7L1201.9 899.6L1204.8 891.6L1207.7 879.8L1210.6 875L1213.5 887.7L1216.4 899.6L1219.3 891.6L1222.2 899.6L1225.1 911.4L1228 903.5L1230.9 887.7L1233.8 895.6L1236.6 883.7L1239.5 879.8L1242.4 886.1L1245.3 891.6L1248.2 899.6L1251.1 907.5L1254 909.9L1256.9 895.6L1259.8 879.8L1262.7 883.7L1265.6 895.6L1268.5 863.9L1271.4 800.6L1274.2 753L1277.1 722.2L1280 729.3L1282.9 761L1285.8 808.5L1288.7 836.2L1291.6 844.1L1294.5 856L1297.4 871.8L1300.3 879.8L1303.2 881.3L1306.1 883.7L1308.9 895.6L1311.8 907.5L1314.7 915.4L1317.6 923.3L1320.5 925.7L1323.4 923.3L1326.3 924.9L1329.2 919.4L1332.1 911.4L1335 906.7L1337.9 911.4L1340.8 919.4L1343.7 915.4L1346.5 917.8L1349.4 927.3L1352.3 931.2L1355.2 923.3L1358.1 911.4L1361 905.1L1363.9 901.9L1366.8 907.5L1369.7 911.4L1372.6 915.4L1375.5 923.3L1378.4 931.2L1381.2 932.8L1384.1 931.2L1387 923.3L1389.9 919.4L1392.8 920.9L1395.7 927.3L1398.6 932.8" stroke="#6e6ef7" stroke-width="3.4" fill="none" stroke-linejoin="round"/>
<path d="M1181.7 887.7L1184.6 886.1L1187.5 897.2L1190.4 879.8L1193.3 869.5L1196.2 883.7L1199.1 895.6L1201.9 903.5L1204.8 911.4L1207.7 899.6L1210.6 885.3L1213.5 895.6L1216.4 911.4L1219.3 919.4L1222.2 927.3L1225.1 920.9L1228 917L1230.9 919.4L1233.8 907.5L1236.6 891.6L1239.5 879.8L1242.4 887.7L1245.3 891.6L1248.2 883.7L1251.1 877.4L1254 895.6L1256.9 907.5L1259.8 911.4L1262.7 905.9L1265.6 911.4L1268.5 899.6L1271.4 863.9L1274.2 824.3L1277.1 784.7L1280 761L1282.9 752.2L1285.8 776.8L1288.7 816.4L1291.6 852L1294.5 883.7L1297.4 903.5L1300.3 891.6L1303.2 903.5L1306.1 919.4L1308.9 915.4L1311.8 907.5L1314.7 917.8L1317.6 911.4L1320.5 887.7L1323.4 862.3L1326.3 867.9L1329.2 891.6L1332.1 911.4L1335 923.3L1337.9 931.2L1340.8 932.8L1343.7 932.8L1346.5 923.3L1349.4 901.1L1352.3 907.5L1355.2 901.9L1358.1 907.5L1361 917.8L1363.9 925.7L1366.8 932L1369.7 932.8L1375.5 932.8L1381.2 932L1384.1 923.3L1387 911.4L1389.9 905.1L1392.8 907.5L1395.7 913L1398.6 919.4" stroke="#f85a5a" stroke-width="3.4" fill="none" stroke-linejoin="round"/>
<text x="1176" y="970" font-size="25" text-anchor="middle">-0.5</text>
<text x="1254.5" y="970" font-size="25" text-anchor="middle">0</text>
<text x="1326" y="970" font-size="25" text-anchor="middle">0.5</text>
<text x="1399" y="970" font-size="25" text-anchor="middle">1</text>
<text x="1292" y="995.4" font-size="25" text-anchor="middle">Time from CS (s)</text>
<text x="1172" y="706.9" font-size="25" text-anchor="end">30</text>
<text x="1172" y="786.3" font-size="25" text-anchor="end">20</text>
<text x="1172" y="865.8" font-size="25" text-anchor="end">10</text>
<text x="1172" y="944.5" font-size="25" text-anchor="end">0</text>
<text transform="translate(1136 812) rotate(-90)" font-size="25" text-anchor="middle">Firing rate (Hz)</text>
<path d="M1537 850.8L1648.6 836.4" stroke="#b44ae6" stroke-width="1.8"/>
<g fill="#b83df0" stroke="#000" stroke-width="1"><circle cx="1537" cy="850" r="5.5"/><circle cx="1542.7" cy="886.7" r="5.5"/><circle cx="1549.1" cy="874.2" r="5.5"/><circle cx="1555.2" cy="828.8" r="5.5"/><circle cx="1561.6" cy="762.6" r="5.5"/><circle cx="1568" cy="841.3" r="5.5"/><circle cx="1574.1" cy="870.5" r="5.5"/><circle cx="1580.5" cy="839.4" r="5.5"/><circle cx="1586.9" cy="897.3" r="5.5"/><circle cx="1592.6" cy="860.2" r="5.5"/><circle cx="1598.7" cy="856.5" r="5.5"/><circle cx="1605.1" cy="811.8" r="5.5"/><circle cx="1608.9" cy="834.5" r="5.5"/><circle cx="1610.8" cy="770.6" r="5.5"/><circle cx="1617.6" cy="886" r="5.5"/><circle cx="1623.3" cy="896.2" r="5.5"/><circle cx="1629.7" cy="765.7" r="5.5"/><circle cx="1636.1" cy="817.9" r="5.5"/><circle cx="1642.2" cy="866.7" r="5.5"/></g>
<path d="M1534 695.4V931.6M1532.6 930.2H1650M1534 930.2v9M1590.7 930.2v9M1648.6 930.2v9M1534 696.8h-10M1534 755h-10M1534 813.7h-10M1534 872.4h-10M1534 930.2h-10" stroke="#000" stroke-width="2.9" fill="none"/>
<text x="1534" y="966.4" font-size="25" text-anchor="middle">0</text>
<text x="1591" y="966.4" font-size="25" text-anchor="middle">20</text>
<text x="1650" y="966.4" font-size="25" text-anchor="middle">40</text>
<text x="1598.5" y="993.7" font-size="25" text-anchor="middle">Trial number</text>
<text x="1521" y="706.1" font-size="25" text-anchor="end">80</text>
<text x="1521" y="764.3" font-size="25" text-anchor="end">60</text>
<text x="1521" y="823" font-size="25" text-anchor="end">40</text>
<text x="1521" y="881.7" font-size="25" text-anchor="end">20</text>
<text x="1521" y="939.5" font-size="25" text-anchor="end">0</text>
<text transform="translate(1481.7 821.5) rotate(-90)" font-size="25" text-anchor="middle">Firing rate (Hz)</text>
<text x="1555.2" y="708.9" font-size="25.3" font-style="italic" fill="#b83df0">R<tspan font-size="15" dy="-8">2</tspan><tspan dy="8"> = 0.03</tspan></text>
<text x="0" y="1050.3" font-size="36" font-weight="bold" fill="#231f20">e</text>
<text x="56.9" y="1073" font-size="26.4" font-style="italic" fill="#231f20"><tspan font-weight="bold">During training:</tspan> variable force CR onset</text>
<text x="208.5" y="1131.8" font-style="italic">CR latency</text>
<path d="M207.4 1152.7L232 1152.7" stroke="#f85a5a" stroke-width="3.3"/>
<text x="247.2" y="1158.4" font-style="italic">Short</text>
<path d="M207.4 1177.3L232 1177.3" stroke="#1c3cf0" stroke-width="3.3"/>
<text x="247.2" y="1184.9" font-style="italic">Long</text>
<g transform="translate(137.2 1141.7) scale(1)" stroke="#000" fill="none"><path d="M0.5 7.4H6.5L14.5 0.2V24.8L6.5 17.6H0.5Z" fill="#00e400" stroke-width="1" stroke-linejoin="miter"/><path d="M6.4 7.4V17.6" stroke-width="1"/><path d="M17.9 8.2Q21.7 12.5 17.9 16.8M20.9 5.2Q26.9 12.5 20.9 19.8M24.3 1Q33.1 12 24.3 22.8" stroke-width="1.05"/></g>
<path d="M74.1 1380.1C75.4 1379.3 79.3 1377 81.9 1375.4C84.6 1373.9 85.9 1371.2 89.8 1370.7C93.7 1370.2 101.6 1372.1 105.6 1372.5C109.5 1372.9 110.8 1373.4 113.4 1373.1C116.1 1372.8 117.4 1371.5 121.3 1370.7C125.2 1369.9 133.1 1368.6 137.1 1368.4C141 1368.2 142.3 1369.5 144.9 1369.5C147.6 1369.5 150.7 1369.7 152.8 1368.4C154.9 1367 156 1365.4 157.5 1361.3C159.1 1357.2 160.7 1350.6 162.2 1343.7C163.8 1336.8 165.4 1327.6 167 1320.2C168.6 1312.8 170.1 1304.3 171.7 1299C173.3 1293.8 174.9 1290.8 176.4 1288.5C178 1286.1 179.6 1285 181.2 1285C182.7 1285 184.3 1286.1 185.9 1288.5C187.4 1290.8 189 1294.9 190.6 1299C192.2 1303.2 193.8 1308.6 195.3 1313.2C196.9 1317.7 198 1321.6 200.1 1326.1C202.2 1330.6 205.3 1336.3 207.9 1340.2C210.6 1344.1 213.2 1347 215.8 1349.6C218.4 1352.1 221.1 1353.9 223.7 1355.5C226.3 1357 228.9 1357.9 231.6 1359C234.2 1360.1 236.8 1360.5 239.4 1361.9C242.1 1363.3 244.7 1365.3 247.3 1367.2C249.9 1369.1 252.6 1371.3 255.2 1373.1C257.8 1374.8 260.4 1376.8 263.1 1377.8C265.7 1378.8 268.3 1378.8 270.9 1379C273.6 1379.1 276.2 1379 278.8 1379C281.4 1379 284.1 1379.1 286.7 1379C289.3 1378.8 291.9 1378.1 294.6 1377.8C297.2 1377.5 299.8 1377.2 302.4 1377.2C305.1 1377.2 309 1377.7 310.3 1377.8" stroke="#8c9cf8" stroke-width="7" fill="none" stroke-linejoin="round" stroke-linecap="butt" opacity="0.55"/>
<path d="M74.1 1380.1C75.4 1379.3 79.3 1377 81.9 1375.4C84.6 1373.9 85.9 1371.2 89.8 1370.7C93.7 1370.2 101.6 1372.1 105.6 1372.5C109.5 1372.9 110.8 1373.4 113.4 1373.1C116.1 1372.8 117.4 1371.5 121.3 1370.7C125.2 1369.9 133.1 1368.6 137.1 1368.4C141 1368.2 142.3 1369.5 144.9 1369.5C147.6 1369.5 150.7 1369.7 152.8 1368.4C154.9 1367 156 1365.4 157.5 1361.3C159.1 1357.2 160.7 1350.6 162.2 1343.7C163.8 1336.8 165.4 1327.6 167 1320.2C168.6 1312.8 170.1 1304.3 171.7 1299C173.3 1293.8 174.9 1290.8 176.4 1288.5C178 1286.1 179.6 1285 181.2 1285C182.7 1285 184.3 1286.1 185.9 1288.5C187.4 1290.8 189 1294.9 190.6 1299C192.2 1303.2 193.8 1308.6 195.3 1313.2C196.9 1317.7 198 1321.6 200.1 1326.1C202.2 1330.6 205.3 1336.3 207.9 1340.2C210.6 1344.1 213.2 1347 215.8 1349.6C218.4 1352.1 221.1 1353.9 223.7 1355.5C226.3 1357 228.9 1357.9 231.6 1359C234.2 1360.1 236.8 1360.5 239.4 1361.9C242.1 1363.3 244.7 1365.3 247.3 1367.2C249.9 1369.1 252.6 1371.3 255.2 1373.1C257.8 1374.8 260.4 1376.8 263.1 1377.8C265.7 1378.8 268.3 1378.8 270.9 1379C273.6 1379.1 276.2 1379 278.8 1379C281.4 1379 284.1 1379.1 286.7 1379C289.3 1378.8 291.9 1378.1 294.6 1377.8C297.2 1377.5 299.8 1377.2 302.4 1377.2C305.1 1377.2 309 1377.7 310.3 1377.8" stroke="#1c3cf0" stroke-width="3.8" fill="none"/>
<path d="M74.1 1380.1C75.4 1379.1 79.3 1376 81.9 1374.2C84.6 1372.5 85.9 1370.1 89.8 1369.5C93.7 1369 100.3 1370.8 105.6 1370.7C110.8 1370.6 116.1 1369.2 121.3 1369C126.6 1368.8 133.1 1369.4 137.1 1369.5C141 1369.7 142.3 1370.5 144.9 1370.1C147.6 1369.7 150.7 1369.6 152.8 1367.2C154.9 1364.8 156 1362.3 157.5 1355.5C159.1 1348.6 160.7 1336.8 162.2 1326.1C163.8 1315.3 165.4 1302.2 167 1290.8C168.6 1279.5 170.1 1266.3 171.7 1257.9C173.3 1249.5 175.1 1243.6 176.4 1240.3C177.7 1237 178.5 1237.6 179.6 1238C180.6 1238.3 181.4 1237.8 182.7 1242.7C184 1247.5 185.9 1258.3 187.5 1267.3C189 1276.3 190.6 1287.5 192.2 1296.7C193.8 1305.9 195.3 1314.7 196.9 1322.5C198.5 1330.4 200.1 1338 201.6 1343.7C203.2 1349.4 204.5 1352.9 206.4 1356.6C208.2 1360.3 210.6 1363.7 212.7 1366C214.8 1368.4 216.8 1369.7 218.9 1370.7C221 1371.7 223.2 1372 225.2 1371.9C227.3 1371.8 229.2 1370.8 231.6 1370.1C233.9 1369.5 236.8 1368.4 239.4 1367.8C242.1 1367.2 244.7 1366.8 247.3 1366.6C249.9 1366.4 252.6 1366.5 255.2 1366.6C257.8 1366.7 260.4 1366.8 263.1 1367.2C265.7 1367.6 268.3 1368 270.9 1369C273.6 1369.9 276.2 1371.7 278.8 1373.1C281.4 1374.4 284.1 1376.1 286.7 1377.2C289.3 1378.3 291.9 1379 294.6 1379.5C297.2 1380.1 299.8 1380.3 302.4 1380.7C305.1 1381.1 309 1381.7 310.3 1381.9" stroke="#f9a8a8" stroke-width="7" fill="none" stroke-linejoin="round" stroke-linecap="butt" opacity="0.55"/>
<path d="M74.1 1380.1C75.4 1379.1 79.3 1376 81.9 1374.2C84.6 1372.5 85.9 1370.1 89.8 1369.5C93.7 1369 100.3 1370.8 105.6 1370.7C110.8 1370.6 116.1 1369.2 121.3 1369C126.6 1368.8 133.1 1369.4 137.1 1369.5C141 1369.7 142.3 1370.5 144.9 1370.1C147.6 1369.7 150.7 1369.6 152.8 1367.2C154.9 1364.8 156 1362.3 157.5 1355.5C159.1 1348.6 160.7 1336.8 162.2 1326.1C163.8 1315.3 165.4 1302.2 167 1290.8C168.6 1279.5 170.1 1266.3 171.7 1257.9C173.3 1249.5 175.1 1243.6 176.4 1240.3C177.7 1237 178.5 1237.6 179.6 1238C180.6 1238.3 181.4 1237.8 182.7 1242.7C184 1247.5 185.9 1258.3 187.5 1267.3C189 1276.3 190.6 1287.5 192.2 1296.7C193.8 1305.9 195.3 1314.7 196.9 1322.5C198.5 1330.4 200.1 1338 201.6 1343.7C203.2 1349.4 204.5 1352.9 206.4 1356.6C208.2 1360.3 210.6 1363.7 212.7 1366C214.8 1368.4 216.8 1369.7 218.9 1370.7C221 1371.7 223.2 1372 225.2 1371.9C227.3 1371.8 229.2 1370.8 231.6 1370.1C233.9 1369.5 236.8 1368.4 239.4 1367.8C242.1 1367.2 244.7 1366.8 247.3 1366.6C249.9 1366.4 252.6 1366.5 255.2 1366.6C257.8 1366.7 260.4 1366.8 263.1 1367.2C265.7 1367.6 268.3 1368 270.9 1369C273.6 1369.9 276.2 1371.7 278.8 1373.1C281.4 1374.4 284.1 1376.1 286.7 1377.2C289.3 1378.3 291.9 1379 294.6 1379.5C297.2 1380.1 299.8 1380.3 302.4 1380.7C305.1 1381.1 309 1381.7 310.3 1381.9" stroke="#f85a5a" stroke-width="3.8" fill="none"/>
<path d="M152.8 1171.6V1414" stroke="#0c0" stroke-width="3.4" stroke-dasharray="9.8 5.6"/>
<path d="M75.4 1177.4V1416M73.6 1414.2H312.2M75.4 1414.2v9.5M152.6 1414.2v9.5M231.6 1414.2v9.5M310.4 1414.2v9.5M75.4 1179.2h-10.5M75.4 1238h-10.5M75.4 1296.7h-10.5M75.4 1355.5h-10.5M75.4 1414.2h-10.5" stroke="#000" stroke-width="3.6" fill="none"/>
<text x="71" y="1453.2" text-anchor="middle">-0.5</text>
<text x="154" y="1453.2" text-anchor="middle">0</text>
<text x="232" y="1453.2" text-anchor="middle">0.5</text>
<text x="310.5" y="1453.2" text-anchor="middle">1</text>
<text x="62.6" y="1189.5" text-anchor="end">20</text>
<text x="62.6" y="1248.3" text-anchor="end">15</text>
<text x="62.6" y="1307" text-anchor="end">10</text>
<text x="62.6" y="1365.8" text-anchor="end">5</text>
<text x="62.6" y="1424.5" text-anchor="end">0</text>
<text x="188.5" y="1480.9" font-size="26.4" text-anchor="middle">Time from CS (s)</text>
<text transform="translate(23.2 1277) rotate(-90)" font-size="25.1" text-anchor="middle">Firing rate (Hz)</text>
<rect x="442.8" y="1333.6" width="44.3" height="62.4" fill="#fff" stroke="#000" stroke-width="2"/>
<rect x="509.1" y="1352.9" width="44.3" height="43.1" fill="#fff" stroke="#000" stroke-width="2"/>
<g fill="#ff2a00" stroke="#000" stroke-width="1"><circle cx="477.4" cy="1352.3" r="3.7"/><circle cx="477.3" cy="1340.7" r="3.7"/><circle cx="480.6" cy="1356" r="3.7"/><circle cx="450.1" cy="1347.7" r="3.7"/><circle cx="480.5" cy="1336.1" r="3.7"/><circle cx="457" cy="1350.4" r="3.7"/><circle cx="445.6" cy="1350.9" r="3.7"/><circle cx="465" cy="1334.2" r="3.7"/><circle cx="465" cy="1362.3" r="3.7"/><circle cx="456.1" cy="1335.3" r="3.7"/><circle cx="458.9" cy="1323.6" r="3.7"/><circle cx="459.3" cy="1349.4" r="3.7"/><circle cx="459.7" cy="1356" r="3.7"/><circle cx="465" cy="1322.2" r="3.7"/><circle cx="451.9" cy="1358.8" r="3.7"/><circle cx="458.9" cy="1306.2" r="3.7"/><circle cx="465" cy="1279.3" r="3.7"/><circle cx="477.3" cy="1326.6" r="3.7"/><circle cx="445" cy="1331" r="3.7"/><circle cx="471.6" cy="1331.2" r="3.7"/><circle cx="463.8" cy="1350.6" r="3.7"/><circle cx="461.9" cy="1326.1" r="3.7"/><circle cx="461.5" cy="1362.5" r="3.7"/><circle cx="468.5" cy="1297.6" r="3.7"/><circle cx="452.6" cy="1327.4" r="3.7"/><circle cx="465" cy="1289.9" r="3.7"/><circle cx="479.7" cy="1348" r="3.7"/><circle cx="458" cy="1360.6" r="3.7"/><circle cx="465" cy="1325.3" r="3.7"/><circle cx="462.3" cy="1354.1" r="3.7"/><circle cx="471" cy="1287.8" r="3.7"/><circle cx="461.4" cy="1299.7" r="3.7"/><circle cx="470.2" cy="1358.6" r="3.7"/><circle cx="456.8" cy="1317.3" r="3.7"/><circle cx="476.3" cy="1315.8" r="3.7"/><circle cx="460.1" cy="1318.5" r="3.7"/><circle cx="468" cy="1337.7" r="3.7"/><circle cx="475.2" cy="1349.5" r="3.7"/><circle cx="455.7" cy="1330.1" r="3.7"/><circle cx="471.1" cy="1329.6" r="3.7"/><circle cx="466.6" cy="1318.4" r="3.7"/><circle cx="477.1" cy="1344.5" r="3.7"/><circle cx="468.4" cy="1349.5" r="3.7"/><circle cx="453.8" cy="1336" r="3.7"/><circle cx="484.3" cy="1353.2" r="3.7"/><circle cx="482" cy="1352.3" r="3.7"/><circle cx="478" cy="1355" r="3.7"/><circle cx="468" cy="1328.5" r="3.7"/><circle cx="472.8" cy="1356.6" r="3.7"/><circle cx="462.7" cy="1332.7" r="3.7"/><circle cx="465" cy="1357.1" r="3.7"/><circle cx="454.7" cy="1351.9" r="3.7"/><circle cx="468.5" cy="1310.7" r="3.7"/><circle cx="458.2" cy="1345.2" r="3.7"/><circle cx="475.4" cy="1355.8" r="3.7"/><circle cx="476.1" cy="1336.2" r="3.7"/><circle cx="465" cy="1402.4" r="3.7"/><circle cx="447.9" cy="1347.8" r="3.7"/><circle cx="465" cy="1340.5" r="3.7"/><circle cx="471" cy="1305.2" r="3.7"/><circle cx="461.4" cy="1313.1" r="3.7"/><circle cx="450.2" cy="1350.1" r="3.7"/><circle cx="460.5" cy="1333.9" r="3.7"/><circle cx="465" cy="1249.6" r="3.7"/><circle cx="482.7" cy="1330.7" r="3.7"/><circle cx="468.5" cy="1266.6" r="3.7"/><circle cx="458.9" cy="1292" r="3.7"/><circle cx="471" cy="1294.1" r="3.7"/><circle cx="465" cy="1272.9" r="3.7"/><circle cx="474.2" cy="1329.2" r="3.7"/><circle cx="468.4" cy="1360.8" r="3.7"/><circle cx="465" cy="1291.6" r="3.7"/><circle cx="473.1" cy="1315.9" r="3.7"/><circle cx="472.9" cy="1348.7" r="3.7"/><circle cx="469.8" cy="1316.7" r="3.7"/><circle cx="471" cy="1321.9" r="3.7"/><circle cx="461.4" cy="1262.3" r="3.7"/><circle cx="466.3" cy="1343.2" r="3.7"/><circle cx="454.5" cy="1362.1" r="3.7"/><circle cx="473.8" cy="1335.8" r="3.7"/><circle cx="479.8" cy="1342.6" r="3.7"/><circle cx="466.1" cy="1353.2" r="3.7"/><circle cx="463.6" cy="1347.5" r="3.7"/><circle cx="452.8" cy="1347.6" r="3.7"/><circle cx="449.3" cy="1354.7" r="3.7"/><circle cx="465" cy="1367" r="3.7"/><circle cx="478.3" cy="1331.8" r="3.7"/><circle cx="475.4" cy="1360.8" r="3.7"/><circle cx="458.8" cy="1337.8" r="3.7"/><circle cx="469.4" cy="1332.2" r="3.7"/><circle cx="474.2" cy="1337.5" r="3.7"/><circle cx="453.6" cy="1315.1" r="3.7"/><circle cx="471.9" cy="1362.8" r="3.7"/><circle cx="474.4" cy="1346" r="3.7"/><circle cx="467.2" cy="1334.2" r="3.7"/><circle cx="452.6" cy="1339" r="3.7"/><circle cx="458.9" cy="1288.8" r="3.7"/><circle cx="458.3" cy="1331.3" r="3.7"/><circle cx="463.3" cy="1315.1" r="3.7"/><circle cx="460.9" cy="1346" r="3.7"/><circle cx="454.5" cy="1358.1" r="3.7"/><circle cx="471.1" cy="1337" r="3.7"/><circle cx="465" cy="1304.4" r="3.7"/><circle cx="465" cy="1376.4" r="3.7"/><circle cx="461.5" cy="1348.3" r="3.7"/><circle cx="457.1" cy="1357.9" r="3.7"/><circle cx="451.6" cy="1333.5" r="3.7"/><circle cx="465" cy="1237.9" r="3.7"/><circle cx="470.6" cy="1348.7" r="3.7"/><circle cx="471.7" cy="1343" r="3.7"/><circle cx="469" cy="1346.9" r="3.7"/><circle cx="452.5" cy="1351.2" r="3.7"/><circle cx="458.8" cy="1328.2" r="3.7"/><circle cx="461.9" cy="1341.3" r="3.7"/><circle cx="449.4" cy="1334.7" r="3.7"/><circle cx="455.5" cy="1345.2" r="3.7"/><circle cx="467.6" cy="1354.5" r="3.7"/><circle cx="447.2" cy="1335" r="3.7"/><circle cx="455.7" cy="1337.4" r="3.7"/><circle cx="485" cy="1332.4" r="3.7"/></g>
<g fill="#1446f5" stroke="#000" stroke-width="1"><circle cx="544.5" cy="1351.4" r="3.7"/><circle cx="524.6" cy="1351.7" r="3.7"/><circle cx="529.2" cy="1335.6" r="3.7"/><circle cx="544.4" cy="1363.4" r="3.7"/><circle cx="531.2" cy="1341.5" r="3.7"/><circle cx="527.5" cy="1330.3" r="3.7"/><circle cx="520" cy="1329.8" r="3.7"/><circle cx="527.9" cy="1351.7" r="3.7"/><circle cx="521.2" cy="1358.2" r="3.7"/><circle cx="527.7" cy="1313.2" r="3.7"/><circle cx="529.9" cy="1365.9" r="3.7"/><circle cx="531.2" cy="1364.7" r="3.7"/><circle cx="518" cy="1349.5" r="3.7"/><circle cx="525.2" cy="1334.1" r="3.7"/><circle cx="529.7" cy="1372.8" r="3.7"/><circle cx="531.2" cy="1320.7" r="3.7"/><circle cx="546.2" cy="1356.1" r="3.7"/><circle cx="520.2" cy="1376.1" r="3.7"/><circle cx="541.8" cy="1362.8" r="3.7"/><circle cx="520.7" cy="1363.6" r="3.7"/><circle cx="551.2" cy="1356.4" r="3.7"/><circle cx="534.8" cy="1318.5" r="3.7"/><circle cx="533.3" cy="1331.8" r="3.7"/><circle cx="540.3" cy="1345.3" r="3.7"/><circle cx="531.2" cy="1355.3" r="3.7"/><circle cx="527.7" cy="1315.6" r="3.7"/><circle cx="526.2" cy="1357.6" r="3.7"/><circle cx="524.5" cy="1365" r="3.7"/><circle cx="537.3" cy="1334.4" r="3.7"/><circle cx="548.9" cy="1365.3" r="3.7"/><circle cx="531.2" cy="1267.6" r="3.7"/><circle cx="531.2" cy="1351" r="3.7"/><circle cx="538.7" cy="1327.7" r="3.7"/><circle cx="531.2" cy="1325.2" r="3.7"/><circle cx="532.6" cy="1365.5" r="3.7"/><circle cx="531.2" cy="1344.6" r="3.7"/><circle cx="516.3" cy="1366.8" r="3.7"/><circle cx="533.8" cy="1358.1" r="3.7"/><circle cx="531.2" cy="1301.6" r="3.7"/><circle cx="524.8" cy="1262.3" r="3.7"/><circle cx="534.8" cy="1386.3" r="3.7"/><circle cx="537.7" cy="1377.3" r="3.7"/><circle cx="531.2" cy="1306.9" r="3.7"/><circle cx="539.2" cy="1361.1" r="3.7"/><circle cx="534.6" cy="1349.1" r="3.7"/><circle cx="537.9" cy="1350.2" r="3.7"/><circle cx="523.8" cy="1330.3" r="3.7"/><circle cx="548.8" cy="1358.6" r="3.7"/><circle cx="535" cy="1329.1" r="3.7"/><circle cx="517.1" cy="1372.4" r="3.7"/><circle cx="521.3" cy="1348" r="3.7"/><circle cx="539.1" cy="1374.5" r="3.7"/><circle cx="532.8" cy="1371" r="3.7"/><circle cx="543.8" cy="1354.3" r="3.7"/><circle cx="531.2" cy="1376.7" r="3.7"/><circle cx="531.2" cy="1393.9" r="3.7"/><circle cx="512.8" cy="1364.7" r="3.7"/><circle cx="535.3" cy="1365.6" r="3.7"/><circle cx="537.7" cy="1399.2" r="3.7"/><circle cx="533.9" cy="1360.7" r="3.7"/><circle cx="540.7" cy="1369" r="3.7"/><circle cx="521.1" cy="1332.4" r="3.7"/><circle cx="527.7" cy="1383.3" r="3.7"/><circle cx="526" cy="1362.9" r="3.7"/><circle cx="518.8" cy="1355.4" r="3.7"/><circle cx="542.3" cy="1372.1" r="3.7"/><circle cx="524.8" cy="1398.1" r="3.7"/><circle cx="523.8" cy="1356.8" r="3.7"/><circle cx="536.5" cy="1363" r="3.7"/><circle cx="534.8" cy="1309" r="3.7"/><circle cx="511.2" cy="1355" r="3.7"/><circle cx="522.2" cy="1346" r="3.7"/><circle cx="527.2" cy="1369.1" r="3.7"/><circle cx="515.4" cy="1361.2" r="3.7"/><circle cx="542.5" cy="1327.1" r="3.7"/><circle cx="523.4" cy="1376.4" r="3.7"/><circle cx="538.8" cy="1356" r="3.7"/><circle cx="531.2" cy="1264.4" r="3.7"/><circle cx="521.8" cy="1366.6" r="3.7"/><circle cx="536" cy="1373.3" r="3.7"/><circle cx="541.2" cy="1350.8" r="3.7"/><circle cx="549.7" cy="1363.7" r="3.7"/><circle cx="513.8" cy="1357.3" r="3.7"/><circle cx="519" cy="1368.6" r="3.7"/><circle cx="536.2" cy="1357.3" r="3.7"/><circle cx="518.1" cy="1361.3" r="3.7"/><circle cx="541.2" cy="1355.4" r="3.7"/><circle cx="545.4" cy="1372.2" r="3.7"/><circle cx="528.6" cy="1359.5" r="3.7"/><circle cx="547.1" cy="1360.5" r="3.7"/><circle cx="526.7" cy="1347.6" r="3.7"/><circle cx="537.7" cy="1263.4" r="3.7"/><circle cx="535.8" cy="1342.2" r="3.7"/><circle cx="523.3" cy="1361.7" r="3.7"/><circle cx="524.8" cy="1378.8" r="3.7"/><circle cx="541.4" cy="1333.1" r="3.7"/><circle cx="538" cy="1365.4" r="3.7"/><circle cx="528.8" cy="1355.6" r="3.7"/><circle cx="546.2" cy="1367.7" r="3.7"/><circle cx="543.5" cy="1367.3" r="3.7"/><circle cx="513.6" cy="1366.2" r="3.7"/><circle cx="526.5" cy="1372.6" r="3.7"/><circle cx="516.2" cy="1359" r="3.7"/></g>
<path d="M442.8 1333.6H487.1M465 1331.1V1336.2M457 1331.1h16M457 1336.2h16" stroke="#000" stroke-width="1.8" fill="none"/>
<path d="M509.1 1352.9H553.4M531.2 1350.4V1355.5M523.2 1350.4h16M523.2 1355.5h16" stroke="#000" stroke-width="1.8" fill="none"/>
<path d="M420.8 1182.1V1419M419.2 1417.3H576.5M420.8 1396H576.5M464.4 1417.3v10.5M531.5 1417.3v10.5M420.8 1183.8h-10.5M420.8 1236.8h-10.5M420.8 1289.9h-10.5M420.8 1343h-10.5M420.8 1396h-10.5" stroke="#000" stroke-width="3.3" fill="none"/>
<text x="408.5" y="1194.1" text-anchor="end">10</text>
<text x="408.5" y="1247.1" text-anchor="end">7.5</text>
<text x="408.5" y="1300.2" text-anchor="end">5</text>
<text x="408.5" y="1353.3" text-anchor="end">2.5</text>
<text x="408.5" y="1406.3" text-anchor="end">0</text>
<text transform="translate(361.6 1277.5) rotate(-90)" font-size="25.3" text-anchor="middle">Mean firing rate (Zscore)</text>
<path d="M464.4 1223.7V1209.5H531.5V1248.6" stroke="#000" stroke-width="1.8" fill="none"/>
<text x="498.2" y="1212.2" font-size="35.6" text-anchor="middle" font-weight="bold">****</text>
<text transform="translate(474 1444.3) rotate(-45)" text-anchor="end">Short latency</text>
<text transform="translate(540.5 1444.3) rotate(-45)" text-anchor="end">Long latency</text>
<text x="496" y="1583" font-size="25.3" text-anchor="middle">Trial type</text>
<text x="576" y="1050.3" font-size="36" font-weight="bold" fill="#231f20">f</text>
<text x="717.3" y="1090.1" font-style="italic">Trials in session</text>
<path d="M726.8 1108L755.2 1108" stroke="#f85a5a" stroke-width="3.3"/>
<text x="768.5" y="1116" font-size="25.2">First half</text>
<path d="M726.8 1131L755.2 1131" stroke="#1c3cf0" stroke-width="3.3"/>
<text x="768.5" y="1140" font-size="25.2">Second half</text>
<g transform="translate(723.8 1148) scale(1)" stroke="#000" fill="none"><path d="M0.5 7.4H6.5L14.5 0.2V24.8L6.5 17.6H0.5Z" fill="#00e400" stroke-width="1" stroke-linejoin="miter"/><path d="M6.4 7.4V17.6" stroke-width="1"/><path d="M17.9 8.2Q21.7 12.5 17.9 16.8M20.9 5.2Q26.9 12.5 20.9 19.8M24.3 1Q33.1 12 24.3 22.8" stroke-width="1.05"/></g>
<path d="M661.2 1383.6C662.5 1382.6 666.3 1379.5 668.9 1377.7C671.5 1375.9 674 1373.8 676.6 1373C679.2 1372.2 681.7 1372.7 684.3 1373C686.9 1373.3 688.1 1374.5 692 1374.7C695.9 1374.9 702.3 1374.5 707.4 1374.2C712.5 1373.9 717.7 1373.4 722.8 1373C727.9 1372.6 734.9 1373.8 738.2 1371.8C741.5 1369.8 741.3 1366.6 742.8 1361.1C744.4 1355.6 745.9 1347.1 747.4 1338.6C749 1330.1 750.5 1319.2 752.1 1310.2C753.6 1301.1 755.1 1291 756.7 1284.1C758.2 1277.2 760 1271.9 761.3 1268.7C762.6 1265.5 763.4 1265.3 764.4 1265.1C765.4 1264.9 766.2 1264.5 767.5 1267.5C768.7 1270.5 770.5 1276.6 772.1 1282.9C773.6 1289.2 775.2 1298.3 776.7 1305.4C778.2 1312.5 779.8 1319.4 781.3 1325.6C782.9 1331.7 784.4 1337.8 785.9 1342.2C787.5 1346.5 788.8 1348.9 790.6 1351.6C792.4 1354.4 794.7 1357 796.7 1358.8C798.8 1360.5 800.8 1361.5 802.9 1362.3C804.9 1363.1 807 1363.2 809 1363.5C811.1 1363.8 812.9 1363.9 815.2 1364.1C817.5 1364.3 820.3 1364.2 822.9 1364.7C825.5 1365.2 828 1366.1 830.6 1367C833.2 1368 835.7 1369.4 838.3 1370.6C840.9 1371.8 843.4 1373.2 846 1374.2C848.6 1375.1 851.1 1375.5 853.7 1376.5C856.3 1377.5 858.8 1379 861.4 1380.1C864 1381.2 866.5 1382.3 869.1 1383C871.7 1383.8 874.2 1384.6 876.8 1384.8C879.4 1385 881.9 1384.5 884.5 1384.2C887.1 1383.9 890.9 1383.2 892.2 1383" stroke="#8c9cf8" stroke-width="7" fill="none" stroke-linejoin="round" stroke-linecap="butt" opacity="0.55"/>
<path d="M661.2 1383.6C662.5 1382.6 666.3 1379.5 668.9 1377.7C671.5 1375.9 674 1373.8 676.6 1373C679.2 1372.2 681.7 1372.7 684.3 1373C686.9 1373.3 688.1 1374.5 692 1374.7C695.9 1374.9 702.3 1374.5 707.4 1374.2C712.5 1373.9 717.7 1373.4 722.8 1373C727.9 1372.6 734.9 1373.8 738.2 1371.8C741.5 1369.8 741.3 1366.6 742.8 1361.1C744.4 1355.6 745.9 1347.1 747.4 1338.6C749 1330.1 750.5 1319.2 752.1 1310.2C753.6 1301.1 755.1 1291 756.7 1284.1C758.2 1277.2 760 1271.9 761.3 1268.7C762.6 1265.5 763.4 1265.3 764.4 1265.1C765.4 1264.9 766.2 1264.5 767.5 1267.5C768.7 1270.5 770.5 1276.6 772.1 1282.9C773.6 1289.2 775.2 1298.3 776.7 1305.4C778.2 1312.5 779.8 1319.4 781.3 1325.6C782.9 1331.7 784.4 1337.8 785.9 1342.2C787.5 1346.5 788.8 1348.9 790.6 1351.6C792.4 1354.4 794.7 1357 796.7 1358.8C798.8 1360.5 800.8 1361.5 802.9 1362.3C804.9 1363.1 807 1363.2 809 1363.5C811.1 1363.8 812.9 1363.9 815.2 1364.1C817.5 1364.3 820.3 1364.2 822.9 1364.7C825.5 1365.2 828 1366.1 830.6 1367C833.2 1368 835.7 1369.4 838.3 1370.6C840.9 1371.8 843.4 1373.2 846 1374.2C848.6 1375.1 851.1 1375.5 853.7 1376.5C856.3 1377.5 858.8 1379 861.4 1380.1C864 1381.2 866.5 1382.3 869.1 1383C871.7 1383.8 874.2 1384.6 876.8 1384.8C879.4 1385 881.9 1384.5 884.5 1384.2C887.1 1383.9 890.9 1383.2 892.2 1383" stroke="#1c3cf0" stroke-width="3.8" fill="none"/>
<path d="M661.2 1386C662.5 1385 666.3 1381.8 668.9 1380.1C671.5 1378.4 674 1376.8 676.6 1375.9C679.2 1375 681.7 1374.8 684.3 1374.7C686.9 1374.6 688.1 1375.4 692 1375.3C695.9 1375.2 703.6 1374.5 707.4 1374.2C711.3 1373.8 712.5 1373.1 715.1 1373C717.7 1372.9 720.2 1373.4 722.8 1373.6C725.4 1373.8 727.9 1374.5 730.5 1374.2C733.1 1373.9 736.1 1374 738.2 1371.8C740.3 1369.6 741.3 1366.8 742.8 1361.1C744.4 1355.4 745.9 1346.3 747.4 1337.4C749 1328.5 750.5 1317.1 752.1 1307.8C753.6 1298.5 755.1 1288.6 756.7 1281.7C758.2 1274.8 760 1269.5 761.3 1266.3C762.6 1263.2 763.4 1262.8 764.4 1262.8C765.4 1262.8 766.2 1262.8 767.5 1266.3C768.7 1269.9 770.5 1277.2 772.1 1284.1C773.6 1291 775.2 1300.3 776.7 1307.8C778.2 1315.3 779.8 1322.8 781.3 1329.1C782.9 1335.4 784.4 1341.2 785.9 1345.7C787.5 1350.3 788.8 1353.4 790.6 1356.4C792.4 1359.3 794.7 1361.7 796.7 1363.5C798.8 1365.3 800.8 1366.1 802.9 1367C804.9 1368 807 1368.9 809 1369.4C811.1 1369.9 812.9 1369.7 815.2 1370C817.5 1370.3 820.3 1370.5 822.9 1371.2C825.5 1371.9 828 1373 830.6 1374.2C833.2 1375.3 835.7 1377.2 838.3 1378.3C840.9 1379.4 843.4 1380.1 846 1380.7C848.6 1381.3 851.1 1381.6 853.7 1381.9C856.3 1382.2 858.8 1382.4 861.4 1382.5C864 1382.5 866.5 1382.5 869.1 1382.5C871.7 1382.5 874.2 1382.4 876.8 1382.5C879.4 1382.5 881.9 1382.7 884.5 1383C887.1 1383.3 890.9 1384 892.2 1384.2" stroke="#f9a8a8" stroke-width="7" fill="none" stroke-linejoin="round" stroke-linecap="butt" opacity="0.55"/>
<path d="M661.2 1386C662.5 1385 666.3 1381.8 668.9 1380.1C671.5 1378.4 674 1376.8 676.6 1375.9C679.2 1375 681.7 1374.8 684.3 1374.7C686.9 1374.6 688.1 1375.4 692 1375.3C695.9 1375.2 703.6 1374.5 707.4 1374.2C711.3 1373.8 712.5 1373.1 715.1 1373C717.7 1372.9 720.2 1373.4 722.8 1373.6C725.4 1373.8 727.9 1374.5 730.5 1374.2C733.1 1373.9 736.1 1374 738.2 1371.8C740.3 1369.6 741.3 1366.8 742.8 1361.1C744.4 1355.4 745.9 1346.3 747.4 1337.4C749 1328.5 750.5 1317.1 752.1 1307.8C753.6 1298.5 755.1 1288.6 756.7 1281.7C758.2 1274.8 760 1269.5 761.3 1266.3C762.6 1263.2 763.4 1262.8 764.4 1262.8C765.4 1262.8 766.2 1262.8 767.5 1266.3C768.7 1269.9 770.5 1277.2 772.1 1284.1C773.6 1291 775.2 1300.3 776.7 1307.8C778.2 1315.3 779.8 1322.8 781.3 1329.1C782.9 1335.4 784.4 1341.2 785.9 1345.7C787.5 1350.3 788.8 1353.4 790.6 1356.4C792.4 1359.3 794.7 1361.7 796.7 1363.5C798.8 1365.3 800.8 1366.1 802.9 1367C804.9 1368 807 1368.9 809 1369.4C811.1 1369.9 812.9 1369.7 815.2 1370C817.5 1370.3 820.3 1370.5 822.9 1371.2C825.5 1371.9 828 1373 830.6 1374.2C833.2 1375.3 835.7 1377.2 838.3 1378.3C840.9 1379.4 843.4 1380.1 846 1380.7C848.6 1381.3 851.1 1381.6 853.7 1381.9C856.3 1382.2 858.8 1382.4 861.4 1382.5C864 1382.5 866.5 1382.5 869.1 1382.5C871.7 1382.5 874.2 1382.4 876.8 1382.5C879.4 1382.5 881.9 1382.7 884.5 1383C887.1 1383.3 890.9 1384 892.2 1384.2" stroke="#f86a64" stroke-width="3.8" fill="none"/>
<path d="M738.2 1178V1418" stroke="#0c0" stroke-width="3.4" stroke-dasharray="9.8 5.6"/>
<path d="M661.6 1179.2V1419.8M659.8 1418H894.3M661.6 1418v9.5M738.2 1418v9.5M815.1 1418v9.5M892.5 1418v9.5M661.6 1181h-10.5M661.6 1240.6h-10.5M661.6 1299.8h-10.5M661.6 1359.3h-10.5M661.6 1418h-10.5" stroke="#000" stroke-width="3.6" fill="none"/>
<text x="657" y="1456.7" text-anchor="middle">-0.5</text>
<text x="737.5" y="1456.7" text-anchor="middle">0</text>
<text x="815" y="1456.7" text-anchor="middle">0.5</text>
<text x="892.5" y="1456.7" text-anchor="middle">1</text>
<text x="648.3" y="1191.3" text-anchor="end">20</text>
<text x="648.3" y="1250.9" text-anchor="end">15</text>
<text x="648.3" y="1310.1" text-anchor="end">10</text>
<text x="648.3" y="1369.6" text-anchor="end">5</text>
<text x="648.3" y="1428.3" text-anchor="end">0</text>
<text x="783.5" y="1485.4" font-size="26.4" text-anchor="middle">Time from CS (s)</text>
<text transform="translate(607.3 1292) rotate(-90)" font-size="25.1" text-anchor="middle">Firing rate (Hz)</text>
<rect x="1016.8" y="1345.8" width="44.3" height="53.3" fill="#fff" stroke="#000" stroke-width="2"/>
<rect x="1084.3" y="1346.6" width="44.3" height="52.5" fill="#fff" stroke="#000" stroke-width="2"/>
<g fill="#ff2a00" stroke="#000" stroke-width="1"><circle cx="1027" cy="1347.5" r="3.7"/><circle cx="1038.9" cy="1315.6" r="3.7"/><circle cx="1018.9" cy="1353" r="3.7"/><circle cx="1050.9" cy="1342.3" r="3.7"/><circle cx="1027.4" cy="1350.4" r="3.7"/><circle cx="1033" cy="1342.9" r="3.7"/><circle cx="1042.5" cy="1319.4" r="3.7"/><circle cx="1033.1" cy="1371.3" r="3.7"/><circle cx="1037.1" cy="1367.4" r="3.7"/><circle cx="1042.5" cy="1388.4" r="3.7"/><circle cx="1024" cy="1335" r="3.7"/><circle cx="1047.1" cy="1318" r="3.7"/><circle cx="1052.4" cy="1358.6" r="3.7"/><circle cx="1047.9" cy="1344.2" r="3.7"/><circle cx="1035.3" cy="1355.6" r="3.7"/><circle cx="1021.1" cy="1352.7" r="3.7"/><circle cx="1052.6" cy="1351.8" r="3.7"/><circle cx="1050" cy="1328.5" r="3.7"/><circle cx="1044.9" cy="1343.3" r="3.7"/><circle cx="1056.2" cy="1336.1" r="3.7"/><circle cx="1033.5" cy="1368.8" r="3.7"/><circle cx="1048.9" cy="1340.8" r="3.7"/><circle cx="1029.8" cy="1362.3" r="3.7"/><circle cx="1046" cy="1341.5" r="3.7"/><circle cx="1025.3" cy="1349.6" r="3.7"/><circle cx="1038.9" cy="1374.7" r="3.7"/><circle cx="1033.5" cy="1363.5" r="3.7"/><circle cx="1033.7" cy="1349.7" r="3.7"/><circle cx="1050.5" cy="1352.6" r="3.7"/><circle cx="1038.9" cy="1379.5" r="3.7"/><circle cx="1035.8" cy="1349.2" r="3.7"/><circle cx="1046.3" cy="1350.4" r="3.7"/><circle cx="1036" cy="1343.3" r="3.7"/><circle cx="1027.9" cy="1325.4" r="3.7"/><circle cx="1030" cy="1345.7" r="3.7"/><circle cx="1041.9" cy="1345.6" r="3.7"/><circle cx="1049.9" cy="1357.5" r="3.7"/><circle cx="1040" cy="1349.1" r="3.7"/><circle cx="1044.4" cy="1370" r="3.7"/><circle cx="1037.8" cy="1331.5" r="3.7"/><circle cx="1044.7" cy="1332.6" r="3.7"/><circle cx="1035.4" cy="1389.5" r="3.7"/><circle cx="1037.9" cy="1351.3" r="3.7"/><circle cx="1038.9" cy="1259.3" r="3.7"/><circle cx="1042.5" cy="1307.3" r="3.7"/><circle cx="1023.1" cy="1358.3" r="3.7"/><circle cx="1042.1" cy="1348" r="3.7"/><circle cx="1040.4" cy="1340.2" r="3.7"/><circle cx="1056.8" cy="1349" r="3.7"/><circle cx="1058.9" cy="1350.4" r="3.7"/><circle cx="1026.3" cy="1333.6" r="3.7"/><circle cx="1043" cy="1318.5" r="3.7"/><circle cx="1031.9" cy="1338.6" r="3.7"/><circle cx="1031.6" cy="1351.8" r="3.7"/><circle cx="1042.4" cy="1336" r="3.7"/><circle cx="1051.7" cy="1337.3" r="3.7"/><circle cx="1025.5" cy="1357.9" r="3.7"/><circle cx="1037.7" cy="1356.1" r="3.7"/><circle cx="1042.6" cy="1357.3" r="3.7"/><circle cx="1040.1" cy="1331" r="3.7"/><circle cx="1029.5" cy="1348.4" r="3.7"/><circle cx="1030.9" cy="1332.4" r="3.7"/><circle cx="1049.3" cy="1334.2" r="3.7"/><circle cx="1047" cy="1330.7" r="3.7"/><circle cx="1040.8" cy="1370.3" r="3.7"/><circle cx="1023.2" cy="1352.5" r="3.7"/><circle cx="1037.5" cy="1339.1" r="3.7"/><circle cx="1053.9" cy="1331.6" r="3.7"/><circle cx="1028" cy="1355.6" r="3.7"/><circle cx="1043.2" cy="1339.1" r="3.7"/><circle cx="1048.4" cy="1348.4" r="3.7"/><circle cx="1040.8" cy="1359.7" r="3.7"/><circle cx="1031.1" cy="1326" r="3.7"/><circle cx="1040.2" cy="1354.7" r="3.7"/><circle cx="1045.1" cy="1356" r="3.7"/><circle cx="1038.9" cy="1410.8" r="3.7"/><circle cx="1034.7" cy="1336.7" r="3.7"/><circle cx="1038.9" cy="1201.7" r="3.7"/><circle cx="1044.8" cy="1372.6" r="3.7"/><circle cx="1037.4" cy="1325" r="3.7"/><circle cx="1046.8" cy="1325.5" r="3.7"/><circle cx="1043.7" cy="1328.9" r="3.7"/><circle cx="1033.2" cy="1333" r="3.7"/><circle cx="1026.2" cy="1337.5" r="3.7"/><circle cx="1038.9" cy="1271.1" r="3.7"/><circle cx="1038.9" cy="1281.7" r="3.7"/><circle cx="1030.4" cy="1355.6" r="3.7"/><circle cx="1038.9" cy="1311.6" r="3.7"/><circle cx="1035.4" cy="1322.8" r="3.7"/><circle cx="1034.9" cy="1318.4" r="3.7"/><circle cx="1042.5" cy="1275.3" r="3.7"/><circle cx="1054.8" cy="1355.9" r="3.7"/><circle cx="1029.8" cy="1367.6" r="3.7"/><circle cx="1040.5" cy="1325.2" r="3.7"/><circle cx="1048.1" cy="1362.2" r="3.7"/><circle cx="1029" cy="1337.9" r="3.7"/><circle cx="1048.1" cy="1369.4" r="3.7"/><circle cx="1035.4" cy="1273.2" r="3.7"/><circle cx="1044.4" cy="1360.2" r="3.7"/><circle cx="1047.5" cy="1355.5" r="3.7"/><circle cx="1038.9" cy="1343.9" r="3.7"/><circle cx="1035.4" cy="1303.1" r="3.7"/><circle cx="1035.5" cy="1335.1" r="3.7"/><circle cx="1051.6" cy="1333.2" r="3.7"/><circle cx="1021.7" cy="1332.6" r="3.7"/><circle cx="1034.2" cy="1328.8" r="3.7"/><circle cx="1054.7" cy="1350.8" r="3.7"/><circle cx="1037.1" cy="1361.9" r="3.7"/><circle cx="1030.8" cy="1315.2" r="3.7"/><circle cx="1032.8" cy="1355.7" r="3.7"/><circle cx="1028.6" cy="1333.8" r="3.7"/><circle cx="1044.2" cy="1348.7" r="3.7"/></g>
<g fill="#1446f5" stroke="#000" stroke-width="1"><circle cx="1120.4" cy="1351.3" r="3.7"/><circle cx="1112.4" cy="1339.3" r="3.7"/><circle cx="1092.4" cy="1352.2" r="3.7"/><circle cx="1094.2" cy="1357.6" r="3.7"/><circle cx="1126.4" cy="1350.9" r="3.7"/><circle cx="1103.2" cy="1323.1" r="3.7"/><circle cx="1098.4" cy="1353.1" r="3.7"/><circle cx="1090.4" cy="1351.3" r="3.7"/><circle cx="1094.4" cy="1350.6" r="3.7"/><circle cx="1124.4" cy="1349.6" r="3.7"/><circle cx="1113" cy="1326.7" r="3.7"/><circle cx="1104.2" cy="1308.2" r="3.7"/><circle cx="1112.2" cy="1333.4" r="3.7"/><circle cx="1113" cy="1324.6" r="3.7"/><circle cx="1109.7" cy="1328.9" r="3.7"/><circle cx="1091.8" cy="1357.8" r="3.7"/><circle cx="1092.5" cy="1361.6" r="3.7"/><circle cx="1088.4" cy="1353" r="3.7"/><circle cx="1108.7" cy="1376.9" r="3.7"/><circle cx="1104.4" cy="1351.7" r="3.7"/><circle cx="1100.7" cy="1344.5" r="3.7"/><circle cx="1106.4" cy="1351.3" r="3.7"/><circle cx="1118.4" cy="1350.8" r="3.7"/><circle cx="1096.7" cy="1322.9" r="3.7"/><circle cx="1114.7" cy="1338.6" r="3.7"/><circle cx="1106.4" cy="1345.5" r="3.7"/><circle cx="1097.8" cy="1346.3" r="3.7"/><circle cx="1094.9" cy="1346.7" r="3.7"/><circle cx="1114.3" cy="1369.5" r="3.7"/><circle cx="1115.1" cy="1334.4" r="3.7"/><circle cx="1106.4" cy="1394.8" r="3.7"/><circle cx="1102.5" cy="1365.9" r="3.7"/><circle cx="1096.4" cy="1348.4" r="3.7"/><circle cx="1109.3" cy="1336.1" r="3.7"/><circle cx="1112.1" cy="1306.8" r="3.7"/><circle cx="1108.4" cy="1347.9" r="3.7"/><circle cx="1112.8" cy="1360.5" r="3.7"/><circle cx="1121.1" cy="1357.9" r="3.7"/><circle cx="1117.8" cy="1362.3" r="3.7"/><circle cx="1107.7" cy="1362.6" r="3.7"/><circle cx="1113.3" cy="1380.2" r="3.7"/><circle cx="1103.6" cy="1344.7" r="3.7"/><circle cx="1094.9" cy="1332.7" r="3.7"/><circle cx="1100.4" cy="1349.9" r="3.7"/><circle cx="1102.9" cy="1339.6" r="3.7"/><circle cx="1116.2" cy="1328.6" r="3.7"/><circle cx="1100.5" cy="1342" r="3.7"/><circle cx="1119.5" cy="1337.3" r="3.7"/><circle cx="1097.6" cy="1364.2" r="3.7"/><circle cx="1109.7" cy="1320.7" r="3.7"/><circle cx="1099.6" cy="1312.1" r="3.7"/><circle cx="1102.7" cy="1364.5" r="3.7"/><circle cx="1099.6" cy="1377.8" r="3.7"/><circle cx="1110.4" cy="1370.4" r="3.7"/><circle cx="1103.2" cy="1328.8" r="3.7"/><circle cx="1108.9" cy="1354.5" r="3.7"/><circle cx="1118" cy="1331.6" r="3.7"/><circle cx="1102.4" cy="1350.8" r="3.7"/><circle cx="1095.1" cy="1360.8" r="3.7"/><circle cx="1115.1" cy="1346" r="3.7"/><circle cx="1110" cy="1337" r="3.7"/><circle cx="1096.7" cy="1353.6" r="3.7"/><circle cx="1106.4" cy="1290.3" r="3.7"/><circle cx="1102.9" cy="1316.6" r="3.7"/><circle cx="1121.8" cy="1340.2" r="3.7"/><circle cx="1108.7" cy="1310.1" r="3.7"/><circle cx="1106.4" cy="1326.5" r="3.7"/><circle cx="1118" cy="1343" r="3.7"/><circle cx="1099.1" cy="1357.3" r="3.7"/><circle cx="1105.3" cy="1336.8" r="3.7"/><circle cx="1100.7" cy="1333.4" r="3.7"/><circle cx="1106.4" cy="1355.5" r="3.7"/><circle cx="1122.4" cy="1351" r="3.7"/><circle cx="1112.2" cy="1345.3" r="3.7"/><circle cx="1107.6" cy="1341.4" r="3.7"/><circle cx="1115.3" cy="1361" r="3.7"/><circle cx="1086.4" cy="1353.1" r="3.7"/><circle cx="1093.4" cy="1339" r="3.7"/><circle cx="1106.4" cy="1331.9" r="3.7"/><circle cx="1105.2" cy="1360.6" r="3.7"/><circle cx="1114.4" cy="1348.2" r="3.7"/><circle cx="1110.4" cy="1348.4" r="3.7"/><circle cx="1091.1" cy="1338.9" r="3.7"/><circle cx="1101.6" cy="1354.5" r="3.7"/><circle cx="1102.9" cy="1373.3" r="3.7"/><circle cx="1116.2" cy="1321.2" r="3.7"/><circle cx="1098.6" cy="1369.7" r="3.7"/><circle cx="1120.4" cy="1361.2" r="3.7"/><circle cx="1116.4" cy="1350.4" r="3.7"/><circle cx="1095.8" cy="1337.2" r="3.7"/><circle cx="1106.4" cy="1281.7" r="3.7"/><circle cx="1116.2" cy="1354.5" r="3.7"/><circle cx="1112.4" cy="1351.4" r="3.7"/><circle cx="1099.9" cy="1329.4" r="3.7"/><circle cx="1104" cy="1353.5" r="3.7"/><circle cx="1099.9" cy="1321.2" r="3.7"/><circle cx="1106.4" cy="1324.6" r="3.7"/><circle cx="1103.6" cy="1333.5" r="3.7"/><circle cx="1117.1" cy="1337.8" r="3.7"/><circle cx="1110" cy="1294.5" r="3.7"/><circle cx="1118.7" cy="1353.5" r="3.7"/><circle cx="1102.9" cy="1296.7" r="3.7"/><circle cx="1110.2" cy="1359.9" r="3.7"/><circle cx="1100.8" cy="1305.4" r="3.7"/><circle cx="1110" cy="1313.6" r="3.7"/><circle cx="1113.3" cy="1310.4" r="3.7"/><circle cx="1102.9" cy="1292.4" r="3.7"/><circle cx="1111.3" cy="1355.8" r="3.7"/><circle cx="1097.8" cy="1333.7" r="3.7"/><circle cx="1096.7" cy="1330" r="3.7"/><circle cx="1106.4" cy="1365.7" r="3.7"/><circle cx="1098.2" cy="1338.5" r="3.7"/><circle cx="1106.4" cy="1391.6" r="3.7"/><circle cx="1110" cy="1298.8" r="3.7"/><circle cx="1100.1" cy="1363.6" r="3.7"/><circle cx="1113.8" cy="1354.5" r="3.7"/><circle cx="1104.2" cy="1381.2" r="3.7"/><circle cx="1109.3" cy="1346.3" r="3.7"/><circle cx="1106.4" cy="1306.5" r="3.7"/><circle cx="1110" cy="1374.6" r="3.7"/></g>
<path d="M1016.8 1345.8H1061.1M1038.9 1343.6V1347.9M1030.9 1343.6h16M1030.9 1347.9h16" stroke="#000" stroke-width="1.8" fill="none"/>
<path d="M1084.3 1346.6H1128.6M1106.4 1344.5V1348.7M1098.4 1344.5h16M1098.4 1348.7h16" stroke="#000" stroke-width="1.8" fill="none"/>
<path d="M994.8 1184V1422.8M993.1 1421.1H1151.5M994.8 1399.1H1151.5M1038.8 1421.1v10.5M1106.2 1421.1v10.5M994.8 1185.7h-10.5M994.8 1239.1h-10.5M994.8 1292.2h-10.5M994.8 1346h-10.5M994.8 1399.1h-10.5" stroke="#000" stroke-width="3.3" fill="none"/>
<text x="982.7" y="1196" text-anchor="end">10</text>
<text x="982.7" y="1249.4" text-anchor="end">7.5</text>
<text x="982.7" y="1302.5" text-anchor="end">5</text>
<text x="982.7" y="1356.3" text-anchor="end">2.5</text>
<text x="982.7" y="1409.4" text-anchor="end">0</text>
<text transform="translate(937.5 1281.5) rotate(-90)" font-size="25.3" text-anchor="middle">Mean firing rate (Zscore)</text>
<path d="M1038.8 1186.8V1172.8H1106.2V1268.3" stroke="#000" stroke-width="1.6" fill="none"/>
<text x="1079.3" y="1161.8" font-size="24.6" text-anchor="middle">n.s.</text>
<text transform="translate(1049 1452) rotate(-45)" text-anchor="end">First half</text>
<text transform="translate(1120.5 1449) rotate(-45)" text-anchor="end">Second half</text>
<text x="1076" y="1577.3" font-size="25.2" text-anchor="middle">Trial type</text>
<text x="1177" y="1067" font-size="36" font-weight="bold" fill="#231f20">g</text>
<path d="M1240.6 1105.8L1267.8 1105.8" stroke="#ff2a00" stroke-width="1.6"/>
<circle cx="1254" cy="1105.8" r="4.6" fill="#ff2a00" stroke="#000" stroke-width="1"/>
<text x="1282.3" y="1114.2" font-size="25.5">Latency to CR</text>
<path d="M1240.6 1131.2L1267.8 1131.2" stroke="#b83df0" stroke-width="1.6"/>
<circle cx="1254" cy="1131.2" r="4.6" fill="#b83df0" stroke="#000" stroke-width="1"/>
<text x="1282.3" y="1140.6" font-size="25.5">Trial number</text>
<path d="M1267.1 1326.5v15.5M1274.9 1328.3v15.5M1282.3 1325.4v15.5M1290.1 1311.7v15.5M1297.8 1305.3v15.5M1306 1323.7v15.5M1313.7 1315.2v15.5M1321.1 1318.7v15.5M1328.9 1319.4v15.5M1337 1304.6v15.5M1344.8 1312.4v15.5M1352.6 1284.5v15.5M1360 1307.1v15.5M1367.8 1341.3v15.5M1375.9 1312.4v15.5M1383.6 1306v15.5M1391.4 1289.4v15.5M1399.5 1323.7v15.5M1407.3 1317.7v15.5" stroke="#b83df0" stroke-width="1.5" fill="none"/>
<path d="M1267.1 1329L1407.3 1315.9" stroke="#b83df0" stroke-width="1.6"/>
<g fill="#b83df0"><circle cx="1267.1" cy="1334.3" r="4.5"/><circle cx="1274.9" cy="1336" r="4.5"/><circle cx="1282.3" cy="1333.2" r="4.5"/><circle cx="1290.1" cy="1319.4" r="4.5"/><circle cx="1297.8" cy="1313.1" r="4.5"/><circle cx="1306" cy="1331.4" r="4.5"/><circle cx="1313.7" cy="1323" r="4.5"/><circle cx="1321.1" cy="1326.5" r="4.5"/><circle cx="1328.9" cy="1327.2" r="4.5"/><circle cx="1337" cy="1312.4" r="4.5"/><circle cx="1344.8" cy="1320.1" r="4.5"/><circle cx="1352.6" cy="1292.2" r="4.5"/><circle cx="1360" cy="1314.8" r="4.5"/><circle cx="1367.8" cy="1349.1" r="4.5"/><circle cx="1375.9" cy="1320.1" r="4.5"/><circle cx="1383.6" cy="1313.8" r="4.5"/><circle cx="1391.4" cy="1297.2" r="4.5"/><circle cx="1399.5" cy="1331.4" r="4.5"/><circle cx="1407.3" cy="1325.4" r="4.5"/></g>
<path d="M1290.1 1185.3V1262.9M1297.8 1214.2V1249.5M1306 1231.9v15.5M1313.7 1245.3v15.5M1321.1 1243.5v15.5M1328.9 1264v15.5M1337 1268.2v15.5M1344.8 1297.5v15.5M1352.6 1307.1v15.5M1360 1315.9v15.5M1367.8 1347.7v15.5M1375.9 1367.1v15.5M1383.6 1357.6v15.5M1391.4 1364.3v15.5M1399.5 1374.2v15.5M1407.3 1382.3v15.5M1414.7 1411.2v15.5" stroke="#ff2a00" stroke-width="1.5" fill="none"/>
<path d="M1290.1 1223L1419 1419.7" stroke="#ff2a00" stroke-width="1.8"/>
<g fill="#ff2a00"><circle cx="1290.1" cy="1223.7" r="4.5"/><circle cx="1297.8" cy="1231.9" r="4.5"/><circle cx="1306" cy="1239.6" r="4.5"/><circle cx="1313.7" cy="1253.1" r="4.5"/><circle cx="1321.1" cy="1251.3" r="4.5"/><circle cx="1328.9" cy="1271.8" r="4.5"/><circle cx="1337" cy="1276" r="4.5"/><circle cx="1344.8" cy="1305.3" r="4.5"/><circle cx="1352.6" cy="1314.8" r="4.5"/><circle cx="1360" cy="1323.7" r="4.5"/><circle cx="1367.8" cy="1355.5" r="4.5"/><circle cx="1375.9" cy="1374.9" r="4.5"/><circle cx="1383.6" cy="1365.3" r="4.5"/><circle cx="1391.4" cy="1372" r="4.5"/><circle cx="1399.5" cy="1381.9" r="4.5"/><circle cx="1407.3" cy="1390.1" r="4.5"/><circle cx="1414.7" cy="1419" r="4.5"/></g>
<path d="M1267.1 1183.9V1421.1M1265.7 1419.7H1424.6M1267.1 1419.7v9M1344.8 1419.7v9M1423.2 1419.7v9M1267.1 1185.3h-10M1267.1 1302.5h-10M1267.1 1419.7h-10" stroke="#000" stroke-width="3.4" fill="none"/>
<text x="1263" y="1458.9" font-size="25.5" text-anchor="middle">0</text>
<text x="1344" y="1458.9" font-size="25.5" text-anchor="middle">0.5</text>
<text x="1421" y="1458.9" font-size="25.5" text-anchor="middle">1</text>
<text x="1251.2" y="1195.3" font-size="25.5" text-anchor="end">1</text>
<text x="1251.2" y="1314.3" font-size="25.5" text-anchor="end">0.5</text>
<text x="1251.2" y="1433.3" font-size="25.5" text-anchor="end">0</text>
<text x="1347.8" y="1484.6" font-size="25.3" text-anchor="middle">Latency to CR</text>
<text x="1343.6" y="1515.9" font-size="25.3" text-anchor="middle">or trial number (norm)</text>
<text transform="translate(1204.2 1308.6) rotate(-90)" font-size="25.1" text-anchor="middle">Firing rate (norm)</text>
<text x="1361.4" y="1199.6" font-size="25.3" font-style="italic" fill="#ff2a00">R<tspan font-size="14" dy="-9">2</tspan><tspan dy="9">= 0.98</tspan></text>
<text x="1361.4" y="1221.9" font-size="25.3" font-style="italic" fill="#b83df0">R<tspan font-size="14" dy="-9">2</tspan><tspan dy="9">= 0.09</tspan></text>
<text x="0" y="1608" font-size="36" font-weight="bold" fill="#231f20">h</text>
<text x="81.5" y="1637.9" font-size="29.8" font-style="italic" fill="#231f20"><tspan font-weight="bold">Well trained:</tspan> Uniform force CR latency</text>
<g transform="translate(166.3 1683.6) scale(1)" stroke="#000" fill="none"><path d="M0.5 7.4H6.5L14.5 0.2V24.8L6.5 17.6H0.5Z" fill="#00e400" stroke-width="1" stroke-linejoin="miter"/><path d="M6.4 7.4V17.6" stroke-width="1"/><path d="M17.9 8.2Q21.7 12.5 17.9 16.8M20.9 5.2Q26.9 12.5 20.9 19.8M24.3 1Q33.1 12 24.3 22.8" stroke-width="1.05"/></g>
<circle cx="226.8" cy="1693.6" r="8.6" fill="#ff2a1a" stroke="#000" stroke-width="1"/>
<text x="245.3" y="1704.5" font-style="italic">CR onset</text>
<clipPath id="hm3"><rect x="101.9" y="1721.3" width="235.4" height="234.5"/></clipPath>
<filter id="hm3b" x="-5%" y="-5%" width="110%" height="110%"><feGaussianBlur stdDeviation="1 0.8"/></filter>
<g clip-path="url(#hm3)"><g filter="url(#hm3b)">
<path d="M258.8 1856.6h12.1v9.3h-12.1z" fill="#0d0dff"/>
<path d="M231.4 1730.3h16v9.3h-16zM254.9 1856.6h4.2v9.3h-4.2zM270.6 1856.6h4.2v9.3h-4.2z" fill="#2626ff"/>
<path d="M227.4 1730.3h4.2v9.3h-4.2zM247.1 1730.3h4.2v9.3h-4.2zM325.5 1838.5h16.1v9.3h-16.1z" fill="#3333ff"/>
<path d="M333.4 1883.6h8.2v9.3h-8.2zM333.4 1901.7h8.2v9.3h-8.2z" fill="#5959ff"/>
<path d="M329.5 1748.4h4.2v9.3h-4.2zM333.4 1820.5h8.2v9.3h-8.2zM329.5 1883.6h4.2v9.3h-4.2zM329.5 1901.7h4.2v9.3h-4.2z" fill="#6666ff"/>
<path d="M270.6 1748.4h4.2v9.3h-4.2zM333.4 1748.4h8.2v9.3h-8.2zM278.5 1811.5h4.2v9.3h-4.2z" fill="#7373ff"/>
<path d="M258.8 1748.4h4.2v9.3h-4.2zM274.5 1748.4h4.2v9.3h-4.2zM266.7 1811.5h12.1v9.3h-12.1z" fill="#8080ff"/>
<path d="M262.8 1748.4h8.1v9.3h-8.1zM125.4 1856.6h4.2v9.3h-4.2zM254.9 1928.7h4.2v9.3h-4.2z" fill="#8c8cff"/>
<path d="M321.6 1748.4h4.2v9.3h-4.2zM294.1 1820.5h4.2v9.3h-4.2zM113.7 1856.6h12.1v9.3h-12.1zM133.3 1856.6h8.1v9.3h-8.1zM325.5 1874.6h16.1v9.3h-16.1zM243.1 1928.7h12.1v9.3h-12.1zM329.5 1946.8h12.1v9.3h-12.1z" fill="#9999ff"/>
<path d="M329.5 1721.3h12.1v9.3h-12.1zM254.9 1748.4h4.2v9.3h-4.2zM317.7 1748.4h4.2v9.3h-4.2zM274.5 1775.4h4.2v9.3h-4.2zM329.5 1775.4h4.2v9.3h-4.2zM298.1 1784.4h4.2v9.3h-4.2zM305.9 1784.4h4.2v9.3h-4.2zM251 1820.5h4.2v9.3h-4.2zM290.2 1820.5h4.2v9.3h-4.2zM251 1838.5h4.2v9.3h-4.2zM274.5 1838.5h4.2v9.3h-4.2zM129.4 1856.6h4.2v9.3h-4.2zM247.1 1874.6h4.2v9.3h-4.2zM254.9 1874.6h8.1v9.3h-8.1zM270.6 1892.7h12.1v9.3h-12.1zM266.7 1919.7h4.2v9.3h-4.2zM278.5 1919.7h4.2v9.3h-4.2z" fill="#a6a6ff"/>
<path d="M239.2 1721.3h8.1v9.3h-8.1zM286.3 1721.3h4.2v9.3h-4.2zM235.3 1748.4h19.9v9.3h-19.9zM325.5 1748.4h4.2v9.3h-4.2zM258.8 1766.4h8.1v9.3h-8.1zM290.2 1766.4h4.2v9.3h-4.2zM258.8 1775.4h16v9.3h-16zM333.4 1775.4h8.2v9.3h-8.2zM282.4 1784.4h8.1v9.3h-8.1zM294.1 1784.4h4.2v9.3h-4.2zM302 1784.4h4.2v9.3h-4.2zM243.1 1820.5h8.1v9.3h-8.1zM282.4 1820.5h8.1v9.3h-8.1zM247.1 1838.5h4.2v9.3h-4.2zM254.9 1838.5h19.9v9.3h-19.9zM105.8 1847.6h4.2v9.3h-4.2zM113.7 1847.6h4.2v9.3h-4.2zM251 1874.6h4.2v9.3h-4.2zM317.7 1874.6h8.1v9.3h-8.1zM141.1 1892.7h12.1v9.3h-12.1zM160.8 1892.7h19.9v9.3h-19.9zM247.1 1919.7h12.1v9.3h-12.1zM262.8 1919.7h4.2v9.3h-4.2zM270.6 1919.7h8.1v9.3h-8.1zM282.4 1919.7h12.1v9.3h-12.1z" fill="#b2b2ff"/>
<path d="M247.1 1721.3h16v9.3h-16zM266.7 1721.3h4.2v9.3h-4.2zM274.5 1721.3h12.1v9.3h-12.1zM290.2 1721.3h4.2v9.3h-4.2zM298.1 1721.3h4.2v9.3h-4.2zM251 1739.3h4.2v9.3h-4.2zM313.8 1739.3h4.2v9.3h-4.2zM317.7 1757.4h8.1v9.3h-8.1zM251 1766.4h8.1v9.3h-8.1zM270.6 1766.4h4.2v9.3h-4.2zM278.5 1766.4h12.1v9.3h-12.1zM290.2 1784.4h4.2v9.3h-4.2zM258.8 1793.5h19.9v9.3h-19.9zM282.4 1793.5h4.2v9.3h-4.2zM278.5 1838.5h4.2v9.3h-4.2zM109.7 1847.6h4.2v9.3h-4.2zM125.4 1847.6h4.2v9.3h-4.2zM262.8 1847.6h4.2v9.3h-4.2zM294.1 1847.6h4.2v9.3h-4.2zM317.7 1847.6h4.2v9.3h-4.2zM152.9 1892.7h8.1v9.3h-8.1zM266.7 1892.7h4.2v9.3h-4.2zM282.4 1892.7h4.2v9.3h-4.2zM258.8 1919.7h4.2v9.3h-4.2zM254.9 1946.8h4.2v9.3h-4.2zM274.5 1946.8h4.2v9.3h-4.2zM302 1946.8h12.1v9.3h-12.1z" fill="#bfbfff"/>
<path d="M262.8 1721.3h4.2v9.3h-4.2zM270.6 1721.3h4.2v9.3h-4.2zM294.1 1721.3h4.2v9.3h-4.2zM302 1721.3h4.2v9.3h-4.2zM254.9 1739.3h8.1v9.3h-8.1zM270.6 1739.3h8.1v9.3h-8.1zM290.2 1739.3h4.2v9.3h-4.2zM309.8 1739.3h4.2v9.3h-4.2zM317.7 1739.3h12.1v9.3h-12.1zM266.7 1766.4h4.2v9.3h-4.2zM274.5 1766.4h4.2v9.3h-4.2zM278.5 1793.5h4.2v9.3h-4.2zM239.2 1802.5h4.2v9.3h-4.2zM251 1802.5h8.1v9.3h-8.1zM329.5 1820.5h4.2v9.3h-4.2zM274.5 1829.5h8.1v9.3h-8.1zM294.1 1829.5h4.2v9.3h-4.2zM305.9 1829.5h4.2v9.3h-4.2zM325.5 1829.5h8.1v9.3h-8.1zM321.6 1838.5h4.2v9.3h-4.2zM117.6 1847.6h8.1v9.3h-8.1zM243.1 1847.6h4.2v9.3h-4.2zM251 1847.6h8.1v9.3h-8.1zM266.7 1847.6h27.8v9.3h-27.8zM298.1 1847.6h8.1v9.3h-8.1zM309.8 1847.6h4.2v9.3h-4.2zM325.5 1847.6h8.1v9.3h-8.1zM294.1 1856.6h8.1v9.3h-8.1zM325.5 1856.6h4.2v9.3h-4.2zM247.1 1865.6h4.2v9.3h-4.2zM254.9 1865.6h23.8v9.3h-23.8zM317.7 1865.6h16v9.3h-16zM243.1 1883.6h4.2v9.3h-4.2zM333.4 1892.7h8.2v9.3h-8.2zM294.1 1919.7h8.1v9.3h-8.1zM270.6 1928.7h4.2v9.3h-4.2zM290.2 1937.8h19.9v9.3h-19.9zM325.5 1937.8h8.1v9.3h-8.1zM97.9 1946.8h20v9.3h-20zM168.6 1946.8h4.2v9.3h-4.2zM247.1 1946.8h8.1v9.3h-8.1zM262.8 1946.8h4.2v9.3h-4.2zM270.6 1946.8h4.2v9.3h-4.2zM278.5 1946.8h4.2v9.3h-4.2zM286.3 1946.8h12.1v9.3h-12.1zM313.8 1946.8h12.1v9.3h-12.1z" fill="#ccccff"/>
<path d="M305.9 1721.3h4.2v9.3h-4.2zM145.1 1730.3h4.2v9.3h-4.2zM156.8 1730.3h4.2v9.3h-4.2zM298.1 1730.3h8.1v9.3h-8.1zM262.8 1739.3h4.2v9.3h-4.2zM278.5 1739.3h4.2v9.3h-4.2zM286.3 1739.3h4.2v9.3h-4.2zM294.1 1739.3h8.1v9.3h-8.1zM278.5 1748.4h8.1v9.3h-8.1zM298.1 1757.4h19.9v9.3h-19.9zM313.8 1766.4h4.2v9.3h-4.2zM325.5 1766.4h4.2v9.3h-4.2zM313.8 1775.4h4.2v9.3h-4.2zM317.7 1784.4h8.1v9.3h-8.1zM286.3 1793.5h8.1v9.3h-8.1zM309.8 1793.5h12.1v9.3h-12.1zM243.1 1802.5h8.1v9.3h-8.1zM258.8 1802.5h4.2v9.3h-4.2zM251 1811.5h4.2v9.3h-4.2zM282.4 1811.5h8.1v9.3h-8.1zM254.9 1820.5h4.2v9.3h-4.2zM325.5 1820.5h4.2v9.3h-4.2zM258.8 1829.5h16v9.3h-16zM282.4 1829.5h8.1v9.3h-8.1zM298.1 1829.5h4.2v9.3h-4.2zM313.8 1829.5h12.1v9.3h-12.1zM333.4 1829.5h8.2v9.3h-8.2zM243.1 1838.5h4.2v9.3h-4.2zM286.3 1838.5h4.2v9.3h-4.2zM317.7 1838.5h4.2v9.3h-4.2zM247.1 1847.6h4.2v9.3h-4.2zM258.8 1847.6h4.2v9.3h-4.2zM305.9 1847.6h4.2v9.3h-4.2zM313.8 1847.6h4.2v9.3h-4.2zM321.6 1847.6h4.2v9.3h-4.2zM333.4 1847.6h8.2v9.3h-8.2zM247.1 1856.6h4.2v9.3h-4.2zM278.5 1856.6h16v9.3h-16zM305.9 1856.6h4.2v9.3h-4.2zM313.8 1856.6h12.1v9.3h-12.1zM329.5 1856.6h4.2v9.3h-4.2zM117.6 1865.6h4.2v9.3h-4.2zM125.4 1865.6h8.1v9.3h-8.1zM137.2 1865.6h4.2v9.3h-4.2zM239.2 1865.6h8.1v9.3h-8.1zM251 1865.6h4.2v9.3h-4.2zM298.1 1874.6h4.2v9.3h-4.2zM247.1 1883.6h19.9v9.3h-19.9zM270.6 1883.6h12.1v9.3h-12.1zM286.3 1892.7h4.2v9.3h-4.2zM298.1 1892.7h8.1v9.3h-8.1zM309.8 1892.7h23.8v9.3h-23.8zM317.7 1910.7h4.2v9.3h-4.2zM302 1919.7h4.2v9.3h-4.2zM262.8 1928.7h8.1v9.3h-8.1zM247.1 1937.8h4.2v9.3h-4.2zM254.9 1937.8h16v9.3h-16zM274.5 1937.8h16v9.3h-16zM313.8 1937.8h4.2v9.3h-4.2zM321.6 1937.8h4.2v9.3h-4.2zM117.6 1946.8h4.2v9.3h-4.2zM152.9 1946.8h4.2v9.3h-4.2zM164.7 1946.8h4.2v9.3h-4.2zM172.5 1946.8h4.2v9.3h-4.2zM243.1 1946.8h4.2v9.3h-4.2zM258.8 1946.8h4.2v9.3h-4.2zM266.7 1946.8h4.2v9.3h-4.2zM282.4 1946.8h4.2v9.3h-4.2zM298.1 1946.8h4.2v9.3h-4.2zM325.5 1946.8h4.2v9.3h-4.2z" fill="#d9d9ff"/>
<path d="M97.9 1721.3h8.2v9.3h-8.2zM317.7 1721.3h12.1v9.3h-12.1zM125.4 1730.3h19.9v9.3h-19.9zM149 1730.3h8.1v9.3h-8.1zM160.8 1730.3h4.2v9.3h-4.2zM251 1730.3h4.2v9.3h-4.2zM266.7 1739.3h4.2v9.3h-4.2zM282.4 1739.3h4.2v9.3h-4.2zM302 1739.3h8.1v9.3h-8.1zM333.4 1739.3h8.2v9.3h-8.2zM137.2 1748.4h4.2v9.3h-4.2zM313.8 1748.4h4.2v9.3h-4.2zM97.9 1757.4h23.9v9.3h-23.9zM129.4 1757.4h4.2v9.3h-4.2zM294.1 1757.4h4.2v9.3h-4.2zM317.7 1766.4h8.1v9.3h-8.1zM329.5 1766.4h12.1v9.3h-12.1zM145.1 1775.4h4.2v9.3h-4.2zM164.7 1775.4h4.2v9.3h-4.2zM172.5 1775.4h4.2v9.3h-4.2zM309.8 1775.4h4.2v9.3h-4.2zM254.9 1784.4h4.2v9.3h-4.2zM309.8 1784.4h8.1v9.3h-8.1zM294.1 1793.5h16v9.3h-16zM321.6 1793.5h8.1v9.3h-8.1zM235.3 1802.5h4.2v9.3h-4.2zM262.8 1802.5h4.2v9.3h-4.2zM270.6 1802.5h4.2v9.3h-4.2zM278.5 1802.5h4.2v9.3h-4.2zM286.3 1802.5h12.1v9.3h-12.1zM254.9 1811.5h12.1v9.3h-12.1zM290.2 1811.5h4.2v9.3h-4.2zM258.8 1820.5h12.1v9.3h-12.1zM243.1 1829.5h4.2v9.3h-4.2zM290.2 1829.5h4.2v9.3h-4.2zM302 1829.5h4.2v9.3h-4.2zM309.8 1829.5h4.2v9.3h-4.2zM239.2 1838.5h4.2v9.3h-4.2zM282.4 1838.5h4.2v9.3h-4.2zM290.2 1838.5h4.2v9.3h-4.2zM305.9 1838.5h4.2v9.3h-4.2zM313.8 1838.5h4.2v9.3h-4.2zM251 1856.6h4.2v9.3h-4.2zM302 1856.6h4.2v9.3h-4.2zM309.8 1856.6h4.2v9.3h-4.2zM333.4 1856.6h8.2v9.3h-8.2zM121.5 1865.6h4.2v9.3h-4.2zM133.3 1865.6h4.2v9.3h-4.2zM313.8 1865.6h4.2v9.3h-4.2zM333.4 1865.6h8.2v9.3h-8.2zM243.1 1874.6h4.2v9.3h-4.2zM266.7 1874.6h8.1v9.3h-8.1zM282.4 1874.6h16v9.3h-16zM266.7 1883.6h4.2v9.3h-4.2zM282.4 1883.6h16v9.3h-16zM290.2 1892.7h8.1v9.3h-8.1zM305.9 1892.7h4.2v9.3h-4.2zM254.9 1901.7h8.1v9.3h-8.1zM309.8 1901.7h4.2v9.3h-4.2zM258.8 1910.7h4.2v9.3h-4.2zM266.7 1910.7h8.1v9.3h-8.1zM313.8 1910.7h4.2v9.3h-4.2zM321.6 1910.7h4.2v9.3h-4.2zM333.4 1910.7h8.2v9.3h-8.2zM243.1 1919.7h4.2v9.3h-4.2zM251 1937.8h4.2v9.3h-4.2zM270.6 1937.8h4.2v9.3h-4.2zM309.8 1937.8h4.2v9.3h-4.2zM317.7 1937.8h4.2v9.3h-4.2zM333.4 1937.8h8.2v9.3h-8.2zM156.8 1946.8h8.1v9.3h-8.1z" fill="#e6e6ff"/>
<path d="M105.8 1721.3h27.8v9.3h-27.8zM309.8 1721.3h8.1v9.3h-8.1zM117.6 1730.3h8.1v9.3h-8.1zM254.9 1730.3h12.1v9.3h-12.1zM305.9 1730.3h16v9.3h-16zM329.5 1739.3h4.2v9.3h-4.2zM105.8 1748.4h8.1v9.3h-8.1zM117.6 1748.4h19.9v9.3h-19.9zM141.1 1748.4h16v9.3h-16zM309.8 1748.4h4.2v9.3h-4.2zM121.5 1757.4h8.1v9.3h-8.1zM145.1 1757.4h23.8v9.3h-23.8zM235.3 1757.4h16v9.3h-16zM278.5 1757.4h4.2v9.3h-4.2zM286.3 1757.4h8.1v9.3h-8.1zM97.9 1766.4h8.2v9.3h-8.2zM113.7 1766.4h12.1v9.3h-12.1zM145.1 1766.4h4.2v9.3h-4.2zM243.1 1766.4h8.1v9.3h-8.1zM302 1766.4h4.2v9.3h-4.2zM309.8 1766.4h4.2v9.3h-4.2zM105.8 1775.4h39.5v9.3h-39.5zM149 1775.4h16v9.3h-16zM168.6 1775.4h4.2v9.3h-4.2zM247.1 1775.4h12.1v9.3h-12.1zM286.3 1775.4h8.1v9.3h-8.1zM317.7 1775.4h4.2v9.3h-4.2zM176.4 1784.4h12.1v9.3h-12.1zM251 1784.4h4.2v9.3h-4.2zM258.8 1784.4h4.2v9.3h-4.2zM266.7 1784.4h8.1v9.3h-8.1zM278.5 1784.4h4.2v9.3h-4.2zM251 1793.5h8.1v9.3h-8.1zM329.5 1793.5h12.1v9.3h-12.1zM149 1802.5h4.2v9.3h-4.2zM156.8 1802.5h12.1v9.3h-12.1zM180.4 1802.5h4.2v9.3h-4.2zM266.7 1802.5h4.2v9.3h-4.2zM274.5 1802.5h4.2v9.3h-4.2zM282.4 1802.5h4.2v9.3h-4.2zM298.1 1802.5h4.2v9.3h-4.2zM137.2 1811.5h4.2v9.3h-4.2zM160.8 1811.5h12.1v9.3h-12.1zM243.1 1811.5h8.1v9.3h-8.1zM239.2 1820.5h4.2v9.3h-4.2zM270.6 1820.5h4.2v9.3h-4.2zM302 1820.5h4.2v9.3h-4.2zM172.5 1829.5h16v9.3h-16zM247.1 1829.5h12.1v9.3h-12.1zM294.1 1838.5h4.2v9.3h-4.2zM302 1838.5h4.2v9.3h-4.2zM309.8 1838.5h4.2v9.3h-4.2zM97.9 1847.6h8.2v9.3h-8.2zM129.4 1847.6h4.2v9.3h-4.2zM239.2 1847.6h4.2v9.3h-4.2zM274.5 1856.6h4.2v9.3h-4.2zM235.3 1865.6h4.2v9.3h-4.2zM305.9 1865.6h8.1v9.3h-8.1zM262.8 1874.6h4.2v9.3h-4.2zM274.5 1874.6h8.1v9.3h-8.1zM97.9 1883.6h16.1v9.3h-16.1zM117.6 1883.6h8.1v9.3h-8.1zM164.7 1883.6h8.1v9.3h-8.1zM176.4 1883.6h4.2v9.3h-4.2zM184.3 1883.6h12.1v9.3h-12.1zM298.1 1883.6h4.2v9.3h-4.2zM321.6 1883.6h8.1v9.3h-8.1zM188.2 1892.7h8.1v9.3h-8.1zM262.8 1892.7h4.2v9.3h-4.2zM152.9 1901.7h4.2v9.3h-4.2zM172.5 1901.7h4.2v9.3h-4.2zM262.8 1901.7h8.1v9.3h-8.1zM274.5 1901.7h8.1v9.3h-8.1zM305.9 1901.7h4.2v9.3h-4.2zM313.8 1901.7h4.2v9.3h-4.2zM321.6 1901.7h4.2v9.3h-4.2zM247.1 1910.7h12.1v9.3h-12.1zM262.8 1910.7h4.2v9.3h-4.2zM294.1 1910.7h12.1v9.3h-12.1zM309.8 1910.7h4.2v9.3h-4.2zM325.5 1910.7h8.1v9.3h-8.1zM152.9 1919.7h16v9.3h-16zM176.4 1919.7h4.2v9.3h-4.2zM325.5 1919.7h16.1v9.3h-16.1zM105.8 1928.7h4.2v9.3h-4.2zM258.8 1928.7h4.2v9.3h-4.2zM145.1 1946.8h8.1v9.3h-8.1zM192.1 1946.8h4.2v9.3h-4.2z" fill="#f2f2ff"/>
<path d="M160.8 1721.3h4.2v9.3h-4.2zM168.6 1721.3h4.2v9.3h-4.2zM180.4 1721.3h4.2v9.3h-4.2zM231.4 1721.3h4.2v9.3h-4.2zM97.9 1739.3h20v9.3h-20zM141.1 1739.3h8.1v9.3h-8.1zM152.9 1739.3h4.2v9.3h-4.2zM168.6 1748.4h16v9.3h-16zM180.4 1757.4h8.1v9.3h-8.1zM160.8 1766.4h27.8v9.3h-27.8zM298.1 1766.4h4.2v9.3h-4.2zM184.3 1775.4h4.2v9.3h-4.2zM239.2 1775.4h8.1v9.3h-8.1zM239.2 1793.5h4.2v9.3h-4.2zM97.9 1802.5h12.1v9.3h-12.1zM117.6 1802.5h8.1v9.3h-8.1zM97.9 1811.5h8.2v9.3h-8.2zM129.4 1820.5h23.8v9.3h-23.8zM156.8 1820.5h8.1v9.3h-8.1zM168.6 1820.5h19.9v9.3h-19.9zM278.5 1820.5h4.2v9.3h-4.2zM121.5 1829.5h19.9v9.3h-19.9zM145.1 1829.5h4.2v9.3h-4.2zM152.9 1829.5h4.2v9.3h-4.2zM235.3 1829.5h4.2v9.3h-4.2zM105.8 1838.5h19.9v9.3h-19.9zM180.4 1838.5h4.2v9.3h-4.2zM235.3 1838.5h4.2v9.3h-4.2zM176.4 1847.6h16v9.3h-16zM97.9 1856.6h12.1v9.3h-12.1zM176.4 1856.6h8.1v9.3h-8.1zM188.2 1856.6h4.2v9.3h-4.2zM278.5 1865.6h8.1v9.3h-8.1zM290.2 1865.6h16v9.3h-16zM188.2 1874.6h4.2v9.3h-4.2zM309.8 1883.6h4.2v9.3h-4.2zM258.8 1892.7h4.2v9.3h-4.2zM117.6 1901.7h4.2v9.3h-4.2zM239.2 1901.7h4.2v9.3h-4.2zM282.4 1901.7h4.2v9.3h-4.2zM294.1 1901.7h4.2v9.3h-4.2zM302 1901.7h4.2v9.3h-4.2zM97.9 1910.7h16.1v9.3h-16.1zM117.6 1910.7h4.2v9.3h-4.2zM180.4 1910.7h16v9.3h-16zM243.1 1910.7h4.2v9.3h-4.2zM129.4 1919.7h4.2v9.3h-4.2zM239.2 1919.7h4.2v9.3h-4.2zM160.8 1928.7h27.8v9.3h-27.8zM109.7 1937.8h4.2v9.3h-4.2zM117.6 1937.8h4.2v9.3h-4.2zM156.8 1937.8h16v9.3h-16zM176.4 1937.8h4.2v9.3h-4.2zM184.3 1937.8h4.2v9.3h-4.2zM121.5 1946.8h4.2v9.3h-4.2z" fill="#fff2f2"/>
<path d="M223.5 1721.3h8.1v9.3h-8.1zM235.3 1721.3h4.2v9.3h-4.2zM117.6 1739.3h23.8v9.3h-23.8zM184.3 1748.4h4.2v9.3h-4.2zM231.4 1748.4h4.2v9.3h-4.2zM251 1757.4h8.1v9.3h-8.1zM266.7 1757.4h12.1v9.3h-12.1zM235.3 1775.4h4.2v9.3h-4.2zM97.9 1784.4h16.1v9.3h-16.1zM117.6 1784.4h8.1v9.3h-8.1zM129.4 1784.4h4.2v9.3h-4.2zM137.2 1784.4h8.1v9.3h-8.1zM156.8 1784.4h8.1v9.3h-8.1zM168.6 1784.4h4.2v9.3h-4.2zM235.3 1793.5h4.2v9.3h-4.2zM231.4 1802.5h4.2v9.3h-4.2zM235.3 1811.5h4.2v9.3h-4.2zM152.9 1820.5h4.2v9.3h-4.2zM164.7 1820.5h4.2v9.3h-4.2zM141.1 1829.5h4.2v9.3h-4.2zM149 1829.5h4.2v9.3h-4.2zM235.3 1874.6h4.2v9.3h-4.2zM196.1 1892.7h4.2v9.3h-4.2zM239.2 1910.7h4.2v9.3h-4.2zM125.4 1928.7h8.1v9.3h-8.1z" fill="#ffe6e6"/>
<path d="M188.2 1739.3h4.2v9.3h-4.2zM258.8 1757.4h8.1v9.3h-8.1zM294.1 1775.4h4.2v9.3h-4.2zM305.9 1775.4h4.2v9.3h-4.2zM113.7 1784.4h4.2v9.3h-4.2zM125.4 1784.4h4.2v9.3h-4.2zM133.3 1784.4h4.2v9.3h-4.2zM145.1 1784.4h12.1v9.3h-12.1zM164.7 1784.4h4.2v9.3h-4.2zM172.5 1784.4h4.2v9.3h-4.2zM188.2 1784.4h4.2v9.3h-4.2zM309.8 1802.5h23.8v9.3h-23.8zM196.1 1883.6h4.2v9.3h-4.2zM196.1 1901.7h4.2v9.3h-4.2zM117.6 1928.7h4.2v9.3h-4.2zM133.3 1928.7h12.1v9.3h-12.1zM196.1 1928.7h4.2v9.3h-4.2z" fill="#ffd9d9"/>
<path d="M184.3 1721.3h4.2v9.3h-4.2zM168.6 1730.3h4.2v9.3h-4.2zM176.4 1730.3h4.2v9.3h-4.2zM188.2 1730.3h4.2v9.3h-4.2zM188.2 1757.4h4.2v9.3h-4.2zM298.1 1775.4h8.1v9.3h-8.1zM192.1 1793.5h4.2v9.3h-4.2zM192.1 1802.5h4.2v9.3h-4.2zM333.4 1802.5h8.2v9.3h-8.2zM192.1 1811.5h4.2v9.3h-4.2zM192.1 1820.5h4.2v9.3h-4.2zM192.1 1829.5h4.2v9.3h-4.2zM192.1 1838.5h4.2v9.3h-4.2zM192.1 1847.6h4.2v9.3h-4.2zM192.1 1856.6h4.2v9.3h-4.2zM145.1 1865.6h12.1v9.3h-12.1zM164.7 1865.6h4.2v9.3h-4.2zM192.1 1865.6h4.2v9.3h-4.2zM192.1 1874.6h4.2v9.3h-4.2zM196.1 1919.7h4.2v9.3h-4.2zM313.8 1919.7h4.2v9.3h-4.2zM121.5 1928.7h4.2v9.3h-4.2zM200 1937.8h4.2v9.3h-4.2zM243.1 1937.8h4.2v9.3h-4.2zM200 1946.8h4.2v9.3h-4.2z" fill="#ffcccc"/>
<path d="M97.9 1730.3h16.1v9.3h-16.1zM172.5 1730.3h4.2v9.3h-4.2zM235.3 1739.3h8.1v9.3h-8.1zM188.2 1748.4h4.2v9.3h-4.2zM286.3 1748.4h4.2v9.3h-4.2zM294.1 1748.4h4.2v9.3h-4.2zM302 1748.4h4.2v9.3h-4.2zM227.4 1757.4h4.2v9.3h-4.2zM188.2 1766.4h4.2v9.3h-4.2zM188.2 1775.4h4.2v9.3h-4.2zM149 1847.6h4.2v9.3h-4.2zM156.8 1865.6h8.1v9.3h-8.1zM172.5 1865.6h8.1v9.3h-8.1zM196.1 1910.7h4.2v9.3h-4.2zM305.9 1919.7h4.2v9.3h-4.2zM317.7 1919.7h4.2v9.3h-4.2zM239.2 1928.7h4.2v9.3h-4.2zM286.3 1928.7h4.2v9.3h-4.2zM321.6 1928.7h4.2v9.3h-4.2z" fill="#ffbfbf"/>
<path d="M227.4 1739.3h8.1v9.3h-8.1zM243.1 1739.3h8.1v9.3h-8.1zM290.2 1748.4h4.2v9.3h-4.2zM298.1 1748.4h4.2v9.3h-4.2zM305.9 1748.4h4.2v9.3h-4.2zM231.4 1775.4h4.2v9.3h-4.2zM231.4 1793.5h4.2v9.3h-4.2zM317.7 1820.5h8.1v9.3h-8.1zM133.3 1847.6h16v9.3h-16zM168.6 1865.6h4.2v9.3h-4.2zM309.8 1919.7h4.2v9.3h-4.2zM321.6 1919.7h4.2v9.3h-4.2zM274.5 1928.7h12.1v9.3h-12.1zM298.1 1928.7h23.8v9.3h-23.8zM325.5 1928.7h16.1v9.3h-16.1zM133.3 1946.8h12.1v9.3h-12.1z" fill="#ffb2b2"/>
<path d="M290.2 1730.3h8.1v9.3h-8.1zM298.1 1811.5h4.2v9.3h-4.2zM309.8 1811.5h4.2v9.3h-4.2zM325.5 1811.5h4.2v9.3h-4.2zM333.4 1811.5h8.2v9.3h-8.2zM305.9 1820.5h12.1v9.3h-12.1zM302 1874.6h16v9.3h-16zM290.2 1928.7h8.1v9.3h-8.1zM129.4 1946.8h4.2v9.3h-4.2z" fill="#ffa6a6"/>
<path d="M294.1 1811.5h4.2v9.3h-4.2zM302 1811.5h8.1v9.3h-8.1zM313.8 1811.5h4.2v9.3h-4.2zM321.6 1811.5h4.2v9.3h-4.2zM329.5 1811.5h4.2v9.3h-4.2zM231.4 1829.5h4.2v9.3h-4.2zM231.4 1847.6h4.2v9.3h-4.2zM231.4 1865.6h4.2v9.3h-4.2zM97.9 1874.6h12.1v9.3h-12.1zM200 1883.6h4.2v9.3h-4.2z" fill="#ff9999"/>
<path d="M317.7 1811.5h4.2v9.3h-4.2zM109.7 1874.6h4.2v9.3h-4.2zM200 1892.7h4.2v9.3h-4.2zM200 1901.7h4.2v9.3h-4.2zM235.3 1901.7h4.2v9.3h-4.2zM200 1928.7h4.2v9.3h-4.2z" fill="#ff8c8c"/>
<path d="M188.2 1721.3h4.2v9.3h-4.2zM192.1 1730.3h4.2v9.3h-4.2zM192.1 1739.3h4.2v9.3h-4.2zM192.1 1757.4h4.2v9.3h-4.2zM325.5 1757.4h16.1v9.3h-16.1zM192.1 1784.4h4.2v9.3h-4.2zM227.4 1784.4h12.1v9.3h-12.1zM329.5 1784.4h12.1v9.3h-12.1zM196.1 1802.5h4.2v9.3h-4.2zM196.1 1820.5h4.2v9.3h-4.2zM196.1 1829.5h4.2v9.3h-4.2zM196.1 1838.5h4.2v9.3h-4.2zM196.1 1847.6h4.2v9.3h-4.2zM196.1 1856.6h4.2v9.3h-4.2zM196.1 1865.6h4.2v9.3h-4.2zM196.1 1874.6h4.2v9.3h-4.2zM105.8 1892.7h8.1v9.3h-8.1zM125.4 1892.7h16v9.3h-16zM200 1919.7h4.2v9.3h-4.2zM203.9 1937.8h4.2v9.3h-4.2zM203.9 1946.8h4.2v9.3h-4.2z" fill="#ff8080"/>
<path d="M333.4 1730.3h8.2v9.3h-8.2zM192.1 1748.4h4.2v9.3h-4.2zM192.1 1766.4h4.2v9.3h-4.2zM192.1 1775.4h4.2v9.3h-4.2zM239.2 1784.4h4.2v9.3h-4.2zM325.5 1784.4h4.2v9.3h-4.2zM196.1 1793.5h4.2v9.3h-4.2zM196.1 1811.5h4.2v9.3h-4.2zM231.4 1811.5h4.2v9.3h-4.2zM231.4 1820.5h4.2v9.3h-4.2zM164.7 1856.6h4.2v9.3h-4.2zM235.3 1883.6h4.2v9.3h-4.2zM113.7 1892.7h12.1v9.3h-12.1zM200 1910.7h4.2v9.3h-4.2zM235.3 1910.7h4.2v9.3h-4.2z" fill="#ff7373"/>
<path d="M325.5 1730.3h8.1v9.3h-8.1zM227.4 1748.4h4.2v9.3h-4.2zM231.4 1766.4h12.1v9.3h-12.1zM231.4 1838.5h4.2v9.3h-4.2zM149 1856.6h8.1v9.3h-8.1zM160.8 1856.6h4.2v9.3h-4.2zM168.6 1856.6h8.1v9.3h-8.1zM231.4 1874.6h4.2v9.3h-4.2zM231.4 1892.7h4.2v9.3h-4.2zM239.2 1892.7h19.9v9.3h-19.9zM274.5 1910.7h19.9v9.3h-19.9z" fill="#ff6666"/>
<path d="M156.8 1856.6h4.2v9.3h-4.2zM235.3 1892.7h4.2v9.3h-4.2zM235.3 1919.7h4.2v9.3h-4.2z" fill="#ff5959"/>
<path d="M239.2 1946.8h4.2v9.3h-4.2z" fill="#ff4d4d"/>
<path d="M219.6 1721.3h4.2v9.3h-4.2zM203.9 1883.6h4.2v9.3h-4.2zM203.9 1901.7h4.2v9.3h-4.2z" fill="#ff4040"/>
<path d="M223.5 1730.3h4.2v9.3h-4.2zM196.1 1739.3h4.2v9.3h-4.2zM223.5 1739.3h4.2v9.3h-4.2zM196.1 1757.4h4.2v9.3h-4.2zM223.5 1757.4h4.2v9.3h-4.2zM227.4 1766.4h4.2v9.3h-4.2zM200 1802.5h4.2v9.3h-4.2zM227.4 1802.5h4.2v9.3h-4.2zM200 1820.5h4.2v9.3h-4.2zM200 1874.6h4.2v9.3h-4.2zM203.9 1892.7h4.2v9.3h-4.2zM203.9 1928.7h4.2v9.3h-4.2z" fill="#ff3333"/>
<path d="M192.1 1721.3h4.2v9.3h-4.2zM196.1 1730.3h4.2v9.3h-4.2zM196.1 1766.4h4.2v9.3h-4.2zM196.1 1784.4h4.2v9.3h-4.2zM223.5 1784.4h4.2v9.3h-4.2zM200 1811.5h4.2v9.3h-4.2zM200 1829.5h4.2v9.3h-4.2zM200 1838.5h4.2v9.3h-4.2zM200 1847.6h4.2v9.3h-4.2zM200 1856.6h4.2v9.3h-4.2zM200 1865.6h4.2v9.3h-4.2zM203.9 1919.7h4.2v9.3h-4.2zM235.3 1928.7h4.2v9.3h-4.2zM207.8 1937.8h4.2v9.3h-4.2zM207.8 1946.8h4.2v9.3h-4.2z" fill="#ff2626"/>
<path d="M270.6 1730.3h4.2v9.3h-4.2zM196.1 1748.4h4.2v9.3h-4.2zM196.1 1775.4h4.2v9.3h-4.2zM227.4 1775.4h4.2v9.3h-4.2zM200 1793.5h4.2v9.3h-4.2zM227.4 1793.5h4.2v9.3h-4.2zM235.3 1856.6h8.1v9.3h-8.1zM203.9 1910.7h4.2v9.3h-4.2zM239.2 1937.8h4.2v9.3h-4.2z" fill="#ff1919"/>
<path d="M200 1721.3h19.9v9.3h-19.9zM266.7 1730.3h4.2v9.3h-4.2zM278.5 1730.3h4.2v9.3h-4.2zM286.3 1730.3h4.2v9.3h-4.2zM211.8 1802.5h4.2v9.3h-4.2zM219.6 1802.5h8.1v9.3h-8.1zM231.4 1856.6h4.2v9.3h-4.2zM207.8 1883.6h4.2v9.3h-4.2z" fill="#ff0d0d"/>
<path d="M196.1 1721.3h4.2v9.3h-4.2zM200 1730.3h23.8v9.3h-23.8zM274.5 1730.3h4.2v9.3h-4.2zM282.4 1730.3h4.2v9.3h-4.2zM200 1739.3h23.8v9.3h-23.8zM200 1748.4h27.8v9.3h-27.8zM200 1757.4h23.8v9.3h-23.8zM200 1766.4h27.8v9.3h-27.8zM200 1775.4h27.8v9.3h-27.8zM200 1784.4h23.8v9.3h-23.8zM203.9 1793.5h23.8v9.3h-23.8zM203.9 1802.5h8.1v9.3h-8.1zM215.7 1802.5h4.2v9.3h-4.2zM203.9 1811.5h27.8v9.3h-27.8zM203.9 1820.5h27.8v9.3h-27.8zM203.9 1829.5h27.8v9.3h-27.8zM203.9 1838.5h27.8v9.3h-27.8zM203.9 1847.6h27.8v9.3h-27.8zM203.9 1856.6h27.8v9.3h-27.8zM203.9 1865.6h27.8v9.3h-27.8zM203.9 1874.6h27.8v9.3h-27.8zM211.8 1883.6h23.8v9.3h-23.8zM207.8 1892.7h23.8v9.3h-23.8zM207.8 1901.7h27.8v9.3h-27.8zM207.8 1910.7h27.8v9.3h-27.8zM207.8 1919.7h27.8v9.3h-27.8zM207.8 1928.7h27.8v9.3h-27.8zM211.8 1937.8h27.8v9.3h-27.8zM211.8 1946.8h27.8v9.3h-27.8z" fill="#ff0000"/>
</g></g>
<path d="M181.5 1716V1957" stroke="#0c0" stroke-width="3.4" stroke-dasharray="9.8 5.6"/>
<g fill="#ff2a1a" stroke="#000" stroke-width="1.1"><circle cx="208.5" cy="1726.4" r="3.8"/><circle cx="212.3" cy="1735.4" r="3.8"/><circle cx="212.3" cy="1744.4" r="3.8"/><circle cx="212.3" cy="1753.5" r="3.8"/><circle cx="212.3" cy="1762.5" r="3.8"/><circle cx="212.3" cy="1771.5" r="3.8"/><circle cx="212.3" cy="1780.5" r="3.8"/><circle cx="212.3" cy="1789.5" r="3.8"/><circle cx="216.2" cy="1798.6" r="3.8"/><circle cx="216.2" cy="1807.6" r="3.8"/><circle cx="216.2" cy="1816.6" r="3.8"/><circle cx="216.2" cy="1825.6" r="3.8"/><circle cx="216.2" cy="1834.6" r="3.8"/><circle cx="216.2" cy="1843.7" r="3.8"/><circle cx="216.2" cy="1852.7" r="3.8"/><circle cx="216.2" cy="1861.7" r="3.8"/><circle cx="216.2" cy="1870.7" r="3.8"/><circle cx="216.2" cy="1879.7" r="3.8"/><circle cx="220.5" cy="1888.8" r="3.8"/><circle cx="220.5" cy="1897.8" r="3.8"/><circle cx="220.5" cy="1906.8" r="3.8"/><circle cx="220.5" cy="1915.8" r="3.8"/><circle cx="220.5" cy="1924.8" r="3.8"/><circle cx="220.5" cy="1933.9" r="3.8"/><circle cx="224.2" cy="1942.9" r="3.8"/><circle cx="224.2" cy="1951.9" r="3.8"/></g>
<path d="M101 1719.5V1958.6M99.5 1957.1H338.4M101.9 1957.1v7.6M180.7 1957.1v7.6M259.4 1957.1v7.6M335.5 1957.1v7.6M101 1785.2h-9.6M101 1868.8h-9.6M101 1953.9h-9.6" stroke="#231f20" stroke-width="3.3" fill="none"/>
<text x="98.5" y="1989.7" font-size="26.8" text-anchor="middle" fill="#231f20">-0.5</text>
<text x="179.5" y="1989.7" font-size="26.8" text-anchor="middle" fill="#231f20">0</text>
<text x="260" y="1989.7" font-size="26.8" text-anchor="middle" fill="#231f20">0.5</text>
<text x="335.5" y="1989.7" font-size="26.8" text-anchor="middle" fill="#231f20">1</text>
<text x="216.7" y="2016.8" font-size="26.8" text-anchor="middle" fill="#231f20">Time from  CS (s)</text>
<text x="89.8" y="1807.5" font-size="26.8" text-anchor="end" fill="#231f20">10</text>
<text x="89.8" y="1889" font-size="26.8" text-anchor="end" fill="#231f20">20</text>
<text x="89.8" y="1963.9" font-size="26.8" text-anchor="end" fill="#231f20">30</text>
<text transform="translate(21.5 1866.8) rotate(-90)" font-size="26.8" text-anchor="middle" fill="#231f20">Trial number</text>
<text transform="translate(53.5 1864.8) rotate(-90)" font-size="26.5" text-anchor="middle" fill="#231f20">(sorted by CR latency)</text>
<linearGradient id="cb3" x1="0" y1="0" x2="0" y2="1"><stop offset="0" stop-color="#f00"/><stop offset="0.5" stop-color="#fff"/><stop offset="1" stop-color="#00f"/></linearGradient>
<rect x="340.9" y="1720.8" width="7.4" height="237.7" fill="url(#cb3)"/>
<text x="353.2" y="1728.4" font-size="26.8" fill="#231f20">4000</text>
<text x="353.2" y="1845.3" font-size="26.8" fill="#231f20">0</text>
<text x="353.2" y="1963" font-size="26.8" fill="#231f20">-4000</text>
<text transform="translate(419.7 1837.6) rotate(90)" font-size="26.8" text-anchor="middle" fill="#231f20">Change in</text>
<text transform="translate(388.5 1841) rotate(90)" font-size="26.8" text-anchor="middle" fill="#231f20">force (mN/s)</text>
<text x="682" y="1681.4" font-size="25.9" font-style="italic">CR latency</text>
<path d="M684.7 1697.1L710.5 1697.1" stroke="#f74a4a" stroke-width="3.2"/>
<text x="727.4" y="1704.5" font-size="26.5" font-style="italic">Short</text>
<path d="M684.7 1726.2L710.5 1726.2" stroke="#6464f6" stroke-width="3.2"/>
<text x="727.4" y="1733" font-size="26.5" font-style="italic">Long</text>
<g transform="translate(630.4 1691.7) scale(1)" stroke="#000" fill="none"><path d="M0.5 7.4H6.5L14.5 0.2V24.8L6.5 17.6H0.5Z" fill="#00e400" stroke-width="1" stroke-linejoin="miter"/><path d="M6.4 7.4V17.6" stroke-width="1"/><path d="M17.9 8.2Q21.7 12.5 17.9 16.8M20.9 5.2Q26.9 12.5 20.9 19.8M24.3 1Q33.1 12 24.3 22.8" stroke-width="1.05"/></g>
<path d="M564 1929.1H803" stroke="#000" stroke-width="2.2" stroke-linecap="round" stroke-dasharray="0.1 6.4"/>
<path d="M643.1 1716V1961" stroke="#0c0" stroke-width="3.4" stroke-dasharray="9.8 5.6"/>
<path d="M563.1 1911.2L571.1 1910.4L579 1911.2L594.9 1907.9L610.8 1903.8L626.7 1903.8L634.6 1903L642.6 1899.8L650.6 1886.3L658.5 1851.7L666.5 1806.9L674.4 1775.1L682.4 1771.4L690.3 1802.8L698.2 1851.7L706.2 1896.5L714.1 1921.8L722.1 1923.8L730.1 1918.9L738 1914L746 1911.6L753.9 1910.8L761.9 1910.8L769.8 1912.8L777.8 1916.9L785.7 1923L793.6 1929.1L801.6 1937.2" stroke="#6464f6" stroke-width="3.5" fill="none" stroke-linejoin="round"/>
<path d="M563.1 1916.9L579 1912.8L594.9 1907.9L602.9 1906.7L610.8 1906.3L618.8 1904.7L626.7 1901.4L634.6 1894.5L642.6 1884.3L650.6 1868L658.5 1835.4L666.5 1798.7L674.4 1782.4L682.4 1796.7L690.3 1827.2L698.2 1863.9L706.2 1894.5L714.1 1914.8L722.1 1923.8L730.1 1925.8L738 1924.2L746 1921.8L753.9 1918.9L761.9 1913.6L769.8 1908.7L777.8 1907.5L785.7 1912.8L793.6 1923L801.6 1939.3" stroke="#f74a4a" stroke-width="3.5" fill="none" stroke-linejoin="round"/>
<path d="M562.5 1724V1964.8M561.1 1963.4H802.9M562.5 1963.4v9.5M642.6 1963.4v9.5M721.9 1963.4v9.5M801.5 1963.4v9.5M562.5 1725.4h-10M562.5 1826.7h-10M562.5 1929.1h-10" stroke="#000" stroke-width="2.9" fill="none"/>
<text x="563" y="1995.1" font-size="26.8" text-anchor="middle">-0.5</text>
<text x="642.5" y="1995.1" font-size="26.8" text-anchor="middle">0</text>
<text x="721.5" y="1995.1" font-size="26.8" text-anchor="middle">0.5</text>
<text x="800" y="1995.1" font-size="26.8" text-anchor="middle">1</text>
<text x="678.5" y="2025" font-size="26.8" text-anchor="middle">Time from  CS (s)</text>
<text x="550.9" y="1735.7" font-size="26.8" text-anchor="end">5000</text>
<text x="550.9" y="1837" font-size="26.8" text-anchor="end">2500</text>
<text x="550.9" y="1939.4" font-size="26.8" text-anchor="end">0</text>
<text transform="translate(480 1835.5) rotate(-90)" font-size="26.8" text-anchor="middle">Change in force (mN/s)</text>
<text x="836" y="1618.4" font-size="36" font-weight="bold" fill="#231f20">i</text>
<g transform="translate(990.2 1690.9) scale(1)" stroke="#000" fill="none"><path d="M0.5 7.4H6.5L14.5 0.2V24.8L6.5 17.6H0.5Z" fill="#00e400" stroke-width="1" stroke-linejoin="miter"/><path d="M6.4 7.4V17.6" stroke-width="1"/><path d="M17.9 8.2Q21.7 12.5 17.9 16.8M20.9 5.2Q26.9 12.5 20.9 19.8M24.3 1Q33.1 12 24.3 22.8" stroke-width="1.05"/></g>
<circle cx="1047.8" cy="1703.1" r="8.5" fill="#e8300a" stroke="#000" stroke-width="1"/>
<text x="1064" y="1710.4" font-size="26.5" font-style="italic">CR onset</text>
<path d="M960.3 1726.6v6.8M1014.6 1726.6v6.8M1020.8 1726.6v6.8M1022.9 1726.6v6.8M1025 1726.6v6.8M1027.1 1726.6v6.8M1037.5 1726.6v6.8M1062.6 1726.6v6.8M1073 1726.6v6.8M1079.3 1726.6v6.8M1102.3 1726.6v6.8M1108.5 1726.6v6.8M1129.4 1726.6v6.8M929 1736v6.8M968.6 1736v6.8M1006.2 1736v6.8M1018.8 1736v6.8M1020.8 1736v6.8M1022.9 1736v6.8M1025 1736v6.8M1027.1 1736v6.8M1029.2 1736v6.8M1064.7 1736v6.8M1079.3 1736v6.8M1108.5 1736v6.8M1133.6 1736v6.8M1139.8 1736v6.8M1154.5 1736v6.8M1158.6 1736v6.8M1160.7 1736v6.8M926.9 1745.4v6.8M929 1745.4v6.8M945.7 1745.4v6.8M981.2 1745.4v6.8M1000 1745.4v6.8M1020.8 1745.4v6.8M1022.9 1745.4v6.8M1025 1745.4v6.8M1033.4 1745.4v6.8M1052.2 1745.4v6.8M1058.4 1745.4v6.8M1127.3 1745.4v6.8M931.1 1754.7v6.8M951.9 1754.7v6.8M1020.8 1754.7v6.8M1022.9 1754.7v6.8M1029.2 1754.7v6.8M1054.2 1754.7v6.8M1075.1 1754.7v6.8M1110.6 1754.7v6.8M941.5 1764.1v6.8M1014.6 1764.1v6.8M1016.7 1764.1v6.8M1018.8 1764.1v6.8M1022.9 1764.1v6.8M1025 1764.1v6.8M1027.1 1764.1v6.8M1091.8 1764.1v6.8M1112.7 1764.1v6.8M1152.4 1764.1v6.8M931.1 1773.5v6.8M1020.8 1773.5v6.8M1102.3 1773.5v6.8M1131.5 1773.5v6.8M1148.2 1773.5v6.8M931.1 1782.9v6.8M935.2 1782.9v6.8M1022.9 1782.9v6.8M1025 1782.9v6.8M1029.2 1782.9v6.8M1068.9 1782.9v6.8M1098.1 1782.9v6.8M1119 1782.9v6.8M1129.4 1782.9v6.8M1139.8 1782.9v6.8M1152.4 1782.9v6.8M985.3 1792.3v6.8M997.9 1792.3v6.8M1002 1792.3v6.8M1018.8 1792.3v6.8M1022.9 1792.3v6.8M1037.5 1792.3v6.8M1070.9 1792.3v6.8M1075.1 1792.3v6.8M1079.3 1792.3v6.8M1085.6 1792.3v6.8M1089.7 1792.3v6.8M1093.9 1792.3v6.8M956.1 1801.6v6.8M979.1 1801.6v6.8M985.3 1801.6v6.8M1022.9 1801.6v6.8M1025 1801.6v6.8M1031.3 1801.6v6.8M1058.4 1801.6v6.8M1075.1 1801.6v6.8M1123.1 1801.6v6.8M1152.4 1801.6v6.8M1164.9 1801.6v6.8M941.5 1811v6.8M956.1 1811v6.8M991.6 1811v6.8M1020.8 1811v6.8M1022.9 1811v6.8M1025 1811v6.8M1098.1 1811v6.8M1119 1811v6.8M1131.5 1811v6.8M931.1 1820.4v6.8M939.4 1820.4v6.8M941.5 1820.4v6.8M1020.8 1820.4v6.8M1022.9 1820.4v6.8M1025 1820.4v6.8M1031.3 1820.4v6.8M1062.6 1820.4v6.8M1070.9 1820.4v6.8M1083.5 1820.4v6.8M1091.8 1820.4v6.8M1104.4 1820.4v6.8M958.2 1829.8v6.8M1016.7 1829.8v6.8M1018.8 1829.8v6.8M1020.8 1829.8v6.8M1022.9 1829.8v6.8M1025 1829.8v6.8M1029.2 1829.8v6.8M1043.8 1829.8v6.8M1164.9 1829.8v6.8M943.6 1839.2v6.8M1018.8 1839.2v6.8M1022.9 1839.2v6.8M1025 1839.2v6.8M929 1848.5v6.8M968.6 1848.5v6.8M989.5 1848.5v6.8M991.6 1848.5v6.8M1000 1848.5v6.8M1020.8 1848.5v6.8M1025 1848.5v6.8M1070.9 1848.5v6.8M1081.4 1848.5v6.8M1085.6 1848.5v6.8M1116.9 1848.5v6.8M1131.5 1848.5v6.8M974.9 1857.9v6.8M1020.8 1857.9v6.8M1022.9 1857.9v6.8M1025 1857.9v6.8M1027.1 1857.9v6.8M1029.2 1857.9v6.8M1123.1 1857.9v6.8M1127.3 1857.9v6.8M1156.5 1857.9v6.8M924.8 1867.3v6.8M929 1867.3v6.8M933.2 1867.3v6.8M985.3 1867.3v6.8M1018.8 1867.3v6.8M1020.8 1867.3v6.8M1025 1867.3v6.8M1027.1 1867.3v6.8M1033.4 1867.3v6.8M1058.4 1867.3v6.8M1141.9 1867.3v6.8M935.2 1876.7v6.8M949.9 1876.7v6.8M966.6 1876.7v6.8M968.6 1876.7v6.8M981.2 1876.7v6.8M1022.9 1876.7v6.8M1025 1876.7v6.8M1027.1 1876.7v6.8M1029.2 1876.7v6.8M1135.7 1876.7v6.8M958.2 1886.1v6.8M966.6 1886.1v6.8M968.6 1886.1v6.8M981.2 1886.1v6.8M993.7 1886.1v6.8M1016.7 1886.1v6.8M1020.8 1886.1v6.8M1022.9 1886.1v6.8M1025 1886.1v6.8M1029.2 1886.1v6.8M1102.3 1886.1v6.8M1133.6 1886.1v6.8M1141.9 1886.1v6.8M1160.7 1886.1v6.8M935.2 1895.4v6.8M937.3 1895.4v6.8M949.9 1895.4v6.8M970.7 1895.4v6.8M993.7 1895.4v6.8M1010.4 1895.4v6.8M1018.8 1895.4v6.8M1022.9 1895.4v6.8M1025 1895.4v6.8M1027.1 1895.4v6.8M1031.3 1895.4v6.8M1035.5 1895.4v6.8M1060.5 1895.4v6.8M1062.6 1895.4v6.8M1066.8 1895.4v6.8M1106.4 1895.4v6.8M1129.4 1895.4v6.8M929 1904.8v6.8M1018.8 1904.8v6.8M1020.8 1904.8v6.8M1022.9 1904.8v6.8M1025 1904.8v6.8M1037.5 1904.8v6.8M1045.9 1904.8v6.8M1048 1904.8v6.8M1081.4 1904.8v6.8M1110.6 1904.8v6.8M1141.9 1904.8v6.8M939.4 1914.2v6.8M1002 1914.2v6.8M1008.3 1914.2v6.8M1016.7 1914.2v6.8M1018.8 1914.2v6.8M1020.8 1914.2v6.8M1029.2 1914.2v6.8M1041.7 1914.2v6.8M1100.2 1914.2v6.8M1158.6 1914.2v6.8M958.2 1923.6v6.8M970.7 1923.6v6.8M1022.9 1923.6v6.8M1025 1923.6v6.8M1031.3 1923.6v6.8M1035.5 1923.6v6.8M1089.7 1923.6v6.8M1102.3 1923.6v6.8M1131.5 1923.6v6.8M977 1933v6.8M993.7 1933v6.8M997.9 1933v6.8M1014.6 1933v6.8M1016.7 1933v6.8M1018.8 1933v6.8M1022.9 1933v6.8M1041.7 1933v6.8M1064.7 1933v6.8M935.2 1942.3v6.8M956.1 1942.3v6.8M974.9 1942.3v6.8M981.2 1942.3v6.8M1018.8 1942.3v6.8M1020.8 1942.3v6.8M1027.1 1942.3v6.8M1029.2 1942.3v6.8M1091.8 1942.3v6.8M1106.4 1942.3v6.8M1135.7 1942.3v6.8M1146.1 1942.3v6.8M1156.5 1942.3v6.8M941.5 1951.7v6.8M977 1951.7v6.8M1020.8 1951.7v6.8M1022.9 1951.7v6.8M1025 1951.7v6.8M1027.1 1951.7v6.8M1031.3 1951.7v6.8M1033.4 1951.7v6.8M1068.9 1951.7v6.8M1083.5 1951.7v6.8M1085.6 1951.7v6.8M1119 1951.7v6.8M1121.1 1951.7v6.8M1123.1 1951.7v6.8M1133.6 1951.7v6.8M933.2 1961.1v6.8M970.7 1961.1v6.8M974.9 1961.1v6.8M985.3 1961.1v6.8M1012.5 1961.1v6.8M1014.6 1961.1v6.8M1020.8 1961.1v6.8M1022.9 1961.1v6.8M1025 1961.1v6.8M1062.6 1961.1v6.8M1162.8 1961.1v6.8M1164.9 1961.1v6.8" stroke="#000" stroke-width="3.2" fill="none"/>
<path d="M1005.1 1726V1967" stroke="#0c0" stroke-width="3.1" stroke-dasharray="9.8 5.6"/>
<path d="M925.5 1724V1968.7M924 1967.2H1169M926.9 1967.2v7.6M1005.1 1967.2v7.6M1086.3 1967.2v7.6M1166.7 1967.2v7.6M925.5 1767.5h-9M925.5 1814.5h-9M925.5 1861.2h-9M925.5 1908.2h-9M925.5 1955h-9" stroke="#231f20" stroke-width="3.3" fill="none"/>
<g fill="#e8300a" stroke="#000" stroke-width="1"><circle cx="1034.2" cy="1730.8" r="4.2"/><circle cx="1034.2" cy="1740.2" r="4.2"/><circle cx="1034.2" cy="1749.6" r="4.2"/><circle cx="1034.7" cy="1758.9" r="4.2"/><circle cx="1035.8" cy="1768.3" r="4.2"/><circle cx="1036.3" cy="1777.7" r="4.2"/><circle cx="1036.9" cy="1787.1" r="4.2"/><circle cx="1037.4" cy="1796.5" r="4.2"/><circle cx="1038" cy="1805.8" r="4.2"/><circle cx="1038.5" cy="1815.2" r="4.2"/><circle cx="1039.1" cy="1824.6" r="4.2"/><circle cx="1039.1" cy="1834" r="4.2"/><circle cx="1039.6" cy="1843.4" r="4.2"/><circle cx="1039.6" cy="1852.7" r="4.2"/><circle cx="1040.2" cy="1862.1" r="4.2"/><circle cx="1040.7" cy="1871.5" r="4.2"/><circle cx="1040.7" cy="1880.9" r="4.2"/><circle cx="1041.2" cy="1890.3" r="4.2"/><circle cx="1041.8" cy="1899.6" r="4.2"/><circle cx="1041.8" cy="1909" r="4.2"/><circle cx="1042.3" cy="1918.4" r="4.2"/><circle cx="1043.4" cy="1927.8" r="4.2"/><circle cx="1044.5" cy="1937.2" r="4.2"/><circle cx="1045" cy="1946.5" r="4.2"/><circle cx="1045.6" cy="1955.9" r="4.2"/><circle cx="1046.7" cy="1965.3" r="4.2"/></g>
<text x="919" y="1998" font-size="26.8" text-anchor="middle" fill="#231f20">-0.5</text>
<text x="1005.5" y="1998" font-size="26.8" text-anchor="middle" fill="#231f20">0</text>
<text x="1086.5" y="1998" font-size="26.8" text-anchor="middle" fill="#231f20">0.5</text>
<text x="1167.5" y="1998" font-size="26.8" text-anchor="middle" fill="#231f20">1</text>
<text x="1052" y="2025" font-size="26.3" text-anchor="middle" fill="#231f20">Time from CS (s)</text>
<text x="913" y="1777" font-size="26.8" text-anchor="end" fill="#231f20">5</text>
<text x="913" y="1824" font-size="26.8" text-anchor="end" fill="#231f20">10</text>
<text x="913" y="1870.7" font-size="26.8" text-anchor="end" fill="#231f20">15</text>
<text x="913" y="1917.7" font-size="26.8" text-anchor="end" fill="#231f20">20</text>
<text x="913" y="1964.5" font-size="26.8" text-anchor="end" fill="#231f20">25</text>
<text transform="translate(848.5 1853) rotate(-90)" font-size="26.8" text-anchor="middle" fill="#231f20">Trial number</text>
<text transform="translate(880 1852) rotate(-90)" font-size="26.6" text-anchor="middle" fill="#231f20">(sorted by CR latency)</text>
<text x="1290.8" y="1685.4" font-size="25.7" font-style="italic">CR latency</text>
<path d="M1288.2 1705.1L1313.8 1705.1" stroke="#ff4646" stroke-width="3.6"/>
<text x="1329.2" y="1711.6" font-size="25.7" font-style="italic">Short</text>
<path d="M1288.2 1730.7L1313.8 1730.7" stroke="#1414ff" stroke-width="3.8"/>
<text x="1329.2" y="1737.9" font-size="25.7" font-style="italic">Long</text>
<path d="M1267.9 1724.3V1967.5M1266.5 1966.1H1428.9M1267.9 1966.1v9M1320.3 1966.1v9M1374.1 1966.1v9M1427.5 1966.1v9M1267.9 1725.7h-10M1267.9 1773.9h-10M1267.9 1821.8h-10M1267.9 1870h-10M1267.9 1918.2h-10M1267.9 1966.1h-10" stroke="#000" stroke-width="3.7" fill="none"/>
<path d="M1266.7 1932.5L1268.8 1927.6L1271 1926.7L1273.1 1934.9L1275.3 1946.9L1277.4 1952.6L1279.6 1951.7L1281.7 1954.1L1283.9 1946.9L1286 1932.5L1288.1 1930L1290.3 1937.3L1292.4 1942.1L1294.6 1946.9L1296.7 1950.7L1298.9 1946.9L1301 1937.3L1303.1 1938.2L1305.3 1943L1307.4 1939.7L1309.6 1937.3L1311.7 1942.1L1313.9 1947.8L1316 1950.2L1318.2 1949.3L1320.3 1946.9L1322.4 1939.7L1324.6 1927.6L1326.7 1898.8L1328.9 1845.9L1331 1793L1333.2 1764.2L1335.3 1761.8L1337.5 1783.4L1339.6 1817.1L1341.7 1850.7L1343.9 1894L1346 1927.6L1348.2 1946.9L1350.3 1952.6L1352.5 1951.7L1354.6 1945.9L1356.7 1947.8L1358.9 1950.7L1361 1954.1L1363.2 1958.9L1365.3 1960.3L1367.5 1956.5L1369.6 1949.3L1371.8 1944.5L1373.9 1946.9L1376 1951.7L1378.2 1954.1L1380.3 1952.6L1382.5 1949.3L1384.6 1946.9L1386.8 1944.5L1388.9 1937.3L1391.1 1930L1393.2 1934.9L1395.3 1946.9L1397.5 1954.1L1399.6 1956.5L1401.8 1955.5L1403.9 1954.1L1406.1 1952.6L1408.2 1954.1L1410.3 1952.6L1412.5 1951.7L1414.6 1956.5L1416.8 1961.3L1418.9 1964.7L1421.1 1966.1L1423.2 1963.7L1425.4 1951.7L1427.5 1946.9" stroke="#6262f6" stroke-width="4.4" fill="none" stroke-linejoin="round"/>
<path d="M1266.7 1944.5L1268.8 1946.9L1271 1951.7L1273.1 1955.5L1275.3 1952.6L1277.4 1954.1L1279.6 1956.5L1281.7 1957.4L1283.9 1951.7L1286 1937.3L1288.1 1926.2L1290.3 1930L1292.4 1942.1L1294.6 1949.3L1296.7 1951.7L1298.9 1949.3L1301 1943L1303.1 1944.5L1305.3 1949.3L1307.4 1952.6L1309.6 1951.7L1311.7 1946.9L1313.9 1939.7L1316 1930L1318.2 1925.2L1320.3 1932.5L1322.4 1946.9L1324.6 1950.7L1326.7 1942.1L1328.9 1898.8L1331 1841.1L1333.2 1797.9L1334.2 1788.2L1335.3 1797.9L1337.5 1841.1L1339.6 1884.4L1341.7 1913.2L1343.9 1927.6L1346 1934.9L1348.2 1932.5L1350.3 1927.6L1352.5 1926.2L1354.6 1932.5L1356.7 1942.1L1358.9 1946.9L1361 1944.5L1363.2 1938.2L1365.3 1942.1L1367.5 1949.3L1369.6 1952.6L1371.8 1955.5L1373.9 1956.5L1376 1957.4L1378.2 1949.3L1380.3 1927.6L1382.5 1906L1384.6 1896.4L1386.8 1903.6L1388.9 1915.6L1391.1 1925.2L1393.2 1937.3L1395.3 1949.3L1397.5 1956.5L1399.6 1958.9L1401.8 1956.5L1403.9 1952.6L1406.1 1954.1L1408.2 1958.9L1410.3 1963.7L1412.5 1963.7L1414.6 1951.7L1416.8 1937.3L1418.9 1942.1L1421.1 1954.1L1423.2 1961.3L1425.4 1956.5L1427.5 1946.9" stroke="#ff0808" stroke-width="4.4" fill="none" stroke-linejoin="round"/>
<text x="1265" y="1999.4" font-size="26.8" text-anchor="middle">-0.5</text>
<text x="1320.5" y="1999.4" font-size="26.8" text-anchor="middle">0</text>
<text x="1374" y="1999.4" font-size="26.8" text-anchor="middle">0.5</text>
<text x="1427" y="1999.4" font-size="26.8" text-anchor="middle">1</text>
<text x="1346" y="2026.1" font-size="25.4" text-anchor="middle">Time from CS (s)</text>
<text x="1254.7" y="1736.7" font-size="26.8" text-anchor="end">50</text>
<text x="1254.7" y="1784.9" font-size="26.8" text-anchor="end">40</text>
<text x="1254.7" y="1832.8" font-size="26.8" text-anchor="end">30</text>
<text x="1254.7" y="1881" font-size="26.8" text-anchor="end">20</text>
<text x="1254.7" y="1929.2" font-size="26.8" text-anchor="end">10</text>
<text x="1254.7" y="1977.1" font-size="26.8" text-anchor="end">0</text>
<text transform="translate(1216.5 1841.8) rotate(-90)" font-size="26.1" text-anchor="middle">Firing rate (Hz)</text>
<path d="M1553.8 1811.6L1564.3 1814.3" stroke="#ff1414" stroke-width="1.8"/>
<g fill="#ff1414"><circle cx="1555.4" cy="1757.5" r="4.3"/><circle cx="1560.3" cy="1771.6" r="4.3"/><circle cx="1557" cy="1826.4" r="4.3"/><circle cx="1564.6" cy="1826.4" r="4.3"/><circle cx="1562" cy="1837.2" r="4.3"/><circle cx="1553.8" cy="1859.5" r="4.3"/></g>
<path d="M1525.9 1722.7V1967.5M1524.5 1966.1H1688M1525.9 1966.1v9M1605.2 1966.1v9M1686.6 1966.1v9M1525.9 1724.1h-10M1525.9 1773.3h-10M1525.9 1821.5h-10M1525.9 1869.3h-10M1525.9 1917.5h-10M1525.9 1966.1h-10" stroke="#000" stroke-width="3.6" fill="none"/>
<text x="1518.5" y="1997.2" font-size="26.8" text-anchor="middle">0</text>
<text x="1608" y="1997.2" font-size="26.8" text-anchor="middle">0.5</text>
<text x="1687.5" y="1997.2" font-size="26.8" text-anchor="middle">1</text>
<text x="1597.5" y="2025.1" font-size="26.6" text-anchor="middle">Latency to CR (s)</text>
<text x="1513" y="1735.1" font-size="26.8" text-anchor="end">100</text>
<text x="1513" y="1784.3" font-size="26.8" text-anchor="end">80</text>
<text x="1513" y="1832.5" font-size="26.8" text-anchor="end">60</text>
<text x="1513" y="1880.3" font-size="26.8" text-anchor="end">40</text>
<text x="1513" y="1928.5" font-size="26.8" text-anchor="end">20</text>
<text x="1513" y="1977.1" font-size="26.8" text-anchor="end">0</text>
<text transform="translate(1463.5 1836.4) rotate(-90)" font-size="26.3" text-anchor="middle">Firing rate (Hz)</text>
<text x="1605.2" y="1925.7" font-size="25.8" font-style="italic" fill="#ff3a1a">R<tspan font-size="15" dy="-8">2</tspan><tspan dy="8">= 0</tspan></text>
<text x="7.3" y="2087.8" font-size="36" font-weight="bold" fill="#231f20">j</text>
<text x="227.4" y="2110.8" font-style="italic">CR latency</text>
<path d="M235.3 2129.5L261.5 2129.5" stroke="#ff2020" stroke-width="3.3"/>
<text x="278" y="2136" font-size="25.8" font-style="italic">Short</text>
<path d="M235.3 2153.2L261.5 2153.2" stroke="#1414f5" stroke-width="3.3"/>
<text x="278" y="2160.3" font-size="25.8" font-style="italic">Long</text>
<g transform="translate(162.7 2105.8) scale(1)" stroke="#000" fill="none"><path d="M0.5 7.4H6.5L14.5 0.2V24.8L6.5 17.6H0.5Z" fill="#00e400" stroke-width="1" stroke-linejoin="miter"/><path d="M6.4 7.4V17.6" stroke-width="1"/><path d="M17.9 8.2Q21.7 12.5 17.9 16.8M20.9 5.2Q26.9 12.5 20.9 19.8M24.3 1Q33.1 12 24.3 22.8" stroke-width="1.05"/></g>
<path d="M97.6 2340.4C98.9 2339.6 102.9 2337.2 105.6 2335.6C108.3 2334 110.9 2332.1 113.6 2330.9C116.2 2329.7 118.9 2329 121.6 2328.5C124.2 2328 126.9 2328.1 129.6 2327.9C132.2 2327.7 134.9 2327.6 137.6 2327.3C140.2 2327 142.9 2326.4 145.5 2326.1C148.2 2325.8 150.9 2325.4 153.5 2325.5C156.2 2325.6 159.1 2326.4 161.5 2326.7C163.9 2327 166 2327.4 167.9 2327.3C169.8 2327.2 171.1 2327.3 172.7 2326.1C174.3 2324.9 175.9 2324.1 177.5 2320.1C179.1 2316.2 180.7 2310.2 182.3 2302.3C183.9 2294.3 185.5 2283.8 187.1 2272.5C188.7 2261.2 190.6 2244.1 191.9 2234.4C193.2 2224.7 194 2219.3 195.1 2214.2C196.1 2209 197.2 2205.2 198.3 2203.4C199.3 2201.6 200.4 2202.2 201.5 2203.4C202.5 2204.6 203.3 2205.4 204.7 2210.6C206 2215.7 207.9 2225.1 209.5 2234.4C211.1 2243.7 212.7 2256.2 214.3 2266.6C215.9 2276.9 217.5 2287.8 219 2296.3C220.6 2304.9 222.2 2312 223.8 2317.8C225.4 2323.5 226.8 2327.3 228.6 2330.9C230.5 2334.4 232.9 2337 235 2339.2C237.2 2341.4 239 2343.1 241.4 2344C243.8 2344.9 246.7 2344.7 249.4 2344.6C252.1 2344.5 254.7 2344.1 257.4 2343.4C260.1 2342.7 262.7 2341.6 265.4 2340.4C268.1 2339.2 270.7 2337.6 273.4 2336.2C276 2334.8 278.7 2333.2 281.4 2332.1C284 2331 286.7 2330.2 289.4 2329.7C292 2329.2 294.7 2328.9 297.4 2329.1C300 2329.3 302.7 2330 305.3 2330.9C308 2331.8 310.7 2333.1 313.3 2334.4C316 2335.8 318.7 2337.6 321.3 2339.2C324 2340.8 326.6 2342.8 329.3 2344C332 2345.2 335.4 2346.6 337.3 2346.4C339.2 2346.2 340 2343.4 340.5 2342.8" stroke="#8c9cf8" stroke-width="6.5" fill="none" stroke-linejoin="round" stroke-linecap="butt" opacity="0.55"/>
<path d="M97.6 2340.4C98.9 2339.6 102.9 2337.2 105.6 2335.6C108.3 2334 110.9 2332.1 113.6 2330.9C116.2 2329.7 118.9 2329 121.6 2328.5C124.2 2328 126.9 2328.1 129.6 2327.9C132.2 2327.7 134.9 2327.6 137.6 2327.3C140.2 2327 142.9 2326.4 145.5 2326.1C148.2 2325.8 150.9 2325.4 153.5 2325.5C156.2 2325.6 159.1 2326.4 161.5 2326.7C163.9 2327 166 2327.4 167.9 2327.3C169.8 2327.2 171.1 2327.3 172.7 2326.1C174.3 2324.9 175.9 2324.1 177.5 2320.1C179.1 2316.2 180.7 2310.2 182.3 2302.3C183.9 2294.3 185.5 2283.8 187.1 2272.5C188.7 2261.2 190.6 2244.1 191.9 2234.4C193.2 2224.7 194 2219.3 195.1 2214.2C196.1 2209 197.2 2205.2 198.3 2203.4C199.3 2201.6 200.4 2202.2 201.5 2203.4C202.5 2204.6 203.3 2205.4 204.7 2210.6C206 2215.7 207.9 2225.1 209.5 2234.4C211.1 2243.7 212.7 2256.2 214.3 2266.6C215.9 2276.9 217.5 2287.8 219 2296.3C220.6 2304.9 222.2 2312 223.8 2317.8C225.4 2323.5 226.8 2327.3 228.6 2330.9C230.5 2334.4 232.9 2337 235 2339.2C237.2 2341.4 239 2343.1 241.4 2344C243.8 2344.9 246.7 2344.7 249.4 2344.6C252.1 2344.5 254.7 2344.1 257.4 2343.4C260.1 2342.7 262.7 2341.6 265.4 2340.4C268.1 2339.2 270.7 2337.6 273.4 2336.2C276 2334.8 278.7 2333.2 281.4 2332.1C284 2331 286.7 2330.2 289.4 2329.7C292 2329.2 294.7 2328.9 297.4 2329.1C300 2329.3 302.7 2330 305.3 2330.9C308 2331.8 310.7 2333.1 313.3 2334.4C316 2335.8 318.7 2337.6 321.3 2339.2C324 2340.8 326.6 2342.8 329.3 2344C332 2345.2 335.4 2346.6 337.3 2346.4C339.2 2346.2 340 2343.4 340.5 2342.8" stroke="#1414f5" stroke-width="3.7" fill="none"/>
<path d="M97.6 2338.6C98.9 2337.7 102.9 2334.9 105.6 2333.3C108.3 2331.6 110.9 2329.7 113.6 2328.5C116.2 2327.3 118.9 2326.5 121.6 2326.1C124.2 2325.7 126.9 2325.9 129.6 2326.1C132.2 2326.3 134.9 2326.9 137.6 2327.3C140.2 2327.7 142.9 2328.1 145.5 2328.5C148.2 2328.9 150.9 2329.4 153.5 2329.7C156.2 2330 159.1 2330.5 161.5 2330.3C163.9 2330.1 166 2329.6 167.9 2328.5C169.8 2327.4 171.1 2326.1 172.7 2323.7C174.3 2321.3 175.9 2319.4 177.5 2314.2C179.1 2309 180.7 2302.1 182.3 2292.8C183.9 2283.4 185.5 2270.1 187.1 2258.2C188.7 2246.3 190.6 2230.2 191.9 2221.3C193.2 2212.4 194 2208.6 195.1 2204.6C196.1 2200.7 197.2 2197.9 198.3 2197.5C199.3 2197.1 200.4 2199.3 201.5 2202.2C202.5 2205.2 203.3 2207.6 204.7 2215.3C206 2223.1 207.9 2237.2 209.5 2248.7C211.1 2260.2 212.7 2273.9 214.3 2284.4C215.9 2294.9 217.5 2304.5 219 2311.8C220.6 2319.2 222.2 2324.3 223.8 2328.5C225.4 2332.7 226.8 2334.6 228.6 2336.8C230.5 2339 232.9 2340.6 235 2341.6C237.2 2342.6 239 2342.8 241.4 2342.8C243.8 2342.8 246.7 2342.6 249.4 2341.6C252.1 2340.6 254.7 2338.6 257.4 2336.8C260.1 2335 262.7 2332.9 265.4 2330.9C268.1 2328.9 270.7 2326.4 273.4 2324.9C276 2323.4 278.7 2322.1 281.4 2321.9C284 2321.7 286.7 2322.4 289.4 2323.7C292 2325 294.7 2327.7 297.4 2329.7C300 2331.7 302.7 2333.9 305.3 2335.6C308 2337.3 310.7 2338.6 313.3 2339.8C316 2341 318.7 2341.9 321.3 2342.8C324 2343.7 326.6 2344.3 329.3 2345.2C332 2346.1 335.4 2347.7 337.3 2348.1C339.2 2348.5 340 2347.6 340.5 2347.5" stroke="#f9a8a8" stroke-width="6.5" fill="none" stroke-linejoin="round" stroke-linecap="butt" opacity="0.55"/>
<path d="M97.6 2338.6C98.9 2337.7 102.9 2334.9 105.6 2333.3C108.3 2331.6 110.9 2329.7 113.6 2328.5C116.2 2327.3 118.9 2326.5 121.6 2326.1C124.2 2325.7 126.9 2325.9 129.6 2326.1C132.2 2326.3 134.9 2326.9 137.6 2327.3C140.2 2327.7 142.9 2328.1 145.5 2328.5C148.2 2328.9 150.9 2329.4 153.5 2329.7C156.2 2330 159.1 2330.5 161.5 2330.3C163.9 2330.1 166 2329.6 167.9 2328.5C169.8 2327.4 171.1 2326.1 172.7 2323.7C174.3 2321.3 175.9 2319.4 177.5 2314.2C179.1 2309 180.7 2302.1 182.3 2292.8C183.9 2283.4 185.5 2270.1 187.1 2258.2C188.7 2246.3 190.6 2230.2 191.9 2221.3C193.2 2212.4 194 2208.6 195.1 2204.6C196.1 2200.7 197.2 2197.9 198.3 2197.5C199.3 2197.1 200.4 2199.3 201.5 2202.2C202.5 2205.2 203.3 2207.6 204.7 2215.3C206 2223.1 207.9 2237.2 209.5 2248.7C211.1 2260.2 212.7 2273.9 214.3 2284.4C215.9 2294.9 217.5 2304.5 219 2311.8C220.6 2319.2 222.2 2324.3 223.8 2328.5C225.4 2332.7 226.8 2334.6 228.6 2336.8C230.5 2339 232.9 2340.6 235 2341.6C237.2 2342.6 239 2342.8 241.4 2342.8C243.8 2342.8 246.7 2342.6 249.4 2341.6C252.1 2340.6 254.7 2338.6 257.4 2336.8C260.1 2335 262.7 2332.9 265.4 2330.9C268.1 2328.9 270.7 2326.4 273.4 2324.9C276 2323.4 278.7 2322.1 281.4 2321.9C284 2321.7 286.7 2322.4 289.4 2323.7C292 2325 294.7 2327.7 297.4 2329.7C300 2331.7 302.7 2333.9 305.3 2335.6C308 2337.3 310.7 2338.6 313.3 2339.8C316 2341 318.7 2341.9 321.3 2342.8C324 2343.7 326.6 2344.3 329.3 2345.2C332 2346.1 335.4 2347.7 337.3 2348.1C339.2 2348.5 340 2347.6 340.5 2347.5" stroke="#f8504e" stroke-width="3.7" fill="none"/>
<path d="M177.5 2138V2379.5" stroke="#0c0" stroke-width="3.4" stroke-dasharray="9.8 5.6"/>
<path d="M98.5 2139.7V2381.5M96.7 2379.7H339.1M98.5 2379.7v9.5M177.5 2379.7v9.5M257.4 2379.7v9.5M337.3 2379.7v9.5M98.5 2141.5h-10.5M98.5 2201.2h-10.5M98.5 2260.6h-10.5M98.5 2320h-10.5M98.5 2379.7h-10.5" stroke="#000" stroke-width="3.6" fill="none"/>
<text x="101.5" y="2414.6" font-size="26.8" text-anchor="middle">-0.5</text>
<text x="178" y="2414.6" font-size="26.8" text-anchor="middle">0</text>
<text x="259" y="2414.6" font-size="26.8" text-anchor="middle">0.5</text>
<text x="337.5" y="2414.6" font-size="26.8" text-anchor="middle">1</text>
<text x="84.3" y="2152.1" font-size="26.8" text-anchor="end">20</text>
<text x="84.3" y="2211.8" font-size="26.8" text-anchor="end">15</text>
<text x="84.3" y="2271.2" font-size="26.8" text-anchor="end">10</text>
<text x="84.3" y="2330.6" font-size="26.8" text-anchor="end">5</text>
<text x="84.3" y="2390.3" font-size="26.8" text-anchor="end">0</text>
<text x="229.8" y="2441.6" font-size="26.3" text-anchor="middle">Time from CS (s)</text>
<text transform="translate(45.5 2272.4) rotate(-90)" font-size="26.5" text-anchor="middle">Firing rate (Hz)</text>
<rect x="477.8" y="2307.9" width="43.9" height="53.7" fill="#fff" stroke="#000" stroke-width="2"/>
<rect x="544.1" y="2307.9" width="43.9" height="53.7" fill="#fff" stroke="#000" stroke-width="2"/>
<g fill="#ff2a00" stroke="#000" stroke-width="1"><circle cx="498.3" cy="2307.6" r="3.8"/><circle cx="501.4" cy="2359.5" r="3.8"/><circle cx="498" cy="2324.6" r="3.8"/><circle cx="486.1" cy="2302.9" r="3.8"/><circle cx="513.9" cy="2335.1" r="3.8"/><circle cx="499.8" cy="2314.7" r="3.8"/><circle cx="481.4" cy="2312.3" r="3.8"/><circle cx="486.3" cy="2314.3" r="3.8"/><circle cx="494.8" cy="2273.4" r="3.8"/><circle cx="478.2" cy="2322.8" r="3.8"/><circle cx="514.3" cy="2326.3" r="3.8"/><circle cx="496.6" cy="2291.4" r="3.8"/><circle cx="488.7" cy="2321.9" r="3.8"/><circle cx="492.2" cy="2315.2" r="3.8"/><circle cx="510" cy="2331.1" r="3.8"/><circle cx="512" cy="2325.5" r="3.8"/><circle cx="488.1" cy="2329.7" r="3.8"/><circle cx="502.7" cy="2323" r="3.8"/><circle cx="501.7" cy="2279.8" r="3.8"/><circle cx="499.8" cy="2319.2" r="3.8"/><circle cx="490.1" cy="2335.3" r="3.8"/><circle cx="489.9" cy="2311.6" r="3.8"/><circle cx="494.7" cy="2339.7" r="3.8"/><circle cx="502.6" cy="2303.3" r="3.8"/><circle cx="499.8" cy="2339.7" r="3.8"/><circle cx="504.8" cy="2341.8" r="3.8"/><circle cx="497" cy="2297.2" r="3.8"/><circle cx="512" cy="2297.3" r="3.8"/><circle cx="489.5" cy="2329" r="3.8"/><circle cx="509.4" cy="2281.4" r="3.8"/><circle cx="496.6" cy="2210" r="3.8"/><circle cx="506.8" cy="2307.9" r="3.8"/><circle cx="511.1" cy="2319.5" r="3.8"/><circle cx="504.1" cy="2332.4" r="3.8"/><circle cx="495.9" cy="2284.8" r="3.8"/><circle cx="498" cy="2290.7" r="3.8"/><circle cx="497.2" cy="2317.1" r="3.8"/><circle cx="496.6" cy="2222.6" r="3.8"/><circle cx="483.4" cy="2320.2" r="3.8"/><circle cx="495.5" cy="2308.4" r="3.8"/><circle cx="487.2" cy="2318.9" r="3.8"/><circle cx="512.4" cy="2334.9" r="3.8"/><circle cx="508.1" cy="2341.9" r="3.8"/><circle cx="498.5" cy="2319.6" r="3.8"/><circle cx="497.8" cy="2281" r="3.8"/><circle cx="494.8" cy="2361.6" r="3.8"/><circle cx="501" cy="2314.9" r="3.8"/><circle cx="499.8" cy="2254.2" r="3.8"/><circle cx="513.9" cy="2307.3" r="3.8"/><circle cx="505.6" cy="2327.4" r="3.8"/><circle cx="492.6" cy="2288.9" r="3.8"/><circle cx="503.3" cy="2290.4" r="3.8"/><circle cx="509.3" cy="2294" r="3.8"/><circle cx="521.2" cy="2321.7" r="3.8"/><circle cx="507.7" cy="2294.7" r="3.8"/><circle cx="510.9" cy="2295" r="3.8"/><circle cx="494" cy="2351" r="3.8"/><circle cx="491.5" cy="2334.9" r="3.8"/><circle cx="508.5" cy="2325.3" r="3.8"/><circle cx="504.5" cy="2348.8" r="3.8"/><circle cx="495.7" cy="2325.8" r="3.8"/><circle cx="513.6" cy="2317.5" r="3.8"/><circle cx="503.8" cy="2301.9" r="3.8"/><circle cx="499.8" cy="2287.3" r="3.8"/><circle cx="480.9" cy="2316.9" r="3.8"/><circle cx="502.1" cy="2346.9" r="3.8"/><circle cx="516.9" cy="2309.3" r="3.8"/><circle cx="495.7" cy="2299.8" r="3.8"/><circle cx="517.8" cy="2321.4" r="3.8"/><circle cx="494" cy="2281.7" r="3.8"/><circle cx="489.9" cy="2303.8" r="3.8"/><circle cx="485.2" cy="2325.1" r="3.8"/><circle cx="503.4" cy="2310.6" r="3.8"/><circle cx="512.4" cy="2306.8" r="3.8"/><circle cx="502.7" cy="2327.8" r="3.8"/><circle cx="512" cy="2314.4" r="3.8"/><circle cx="513.1" cy="2323.7" r="3.8"/><circle cx="499.8" cy="2191" r="3.8"/><circle cx="507.4" cy="2284.6" r="3.8"/><circle cx="505.9" cy="2312.5" r="3.8"/><circle cx="507.9" cy="2299.6" r="3.8"/><circle cx="493.4" cy="2325.8" r="3.8"/><circle cx="488.8" cy="2300" r="3.8"/><circle cx="491" cy="2320.9" r="3.8"/><circle cx="506.5" cy="2339.1" r="3.8"/><circle cx="506.8" cy="2273.7" r="3.8"/><circle cx="504.5" cy="2295.3" r="3.8"/><circle cx="482.6" cy="2309.3" r="3.8"/><circle cx="508" cy="2335.8" r="3.8"/><circle cx="488" cy="2339.6" r="3.8"/><circle cx="492.7" cy="2306.8" r="3.8"/><circle cx="494.5" cy="2325.6" r="3.8"/><circle cx="514.4" cy="2332" r="3.8"/><circle cx="496.7" cy="2274.6" r="3.8"/><circle cx="502.9" cy="2258.4" r="3.8"/><circle cx="507.3" cy="2319.8" r="3.8"/><circle cx="496.8" cy="2327.4" r="3.8"/><circle cx="512.5" cy="2292.1" r="3.8"/><circle cx="510.5" cy="2288.2" r="3.8"/><circle cx="491.3" cy="2307" r="3.8"/><circle cx="508.5" cy="2318.6" r="3.8"/><circle cx="507.3" cy="2322.1" r="3.8"/><circle cx="488.5" cy="2305" r="3.8"/><circle cx="518.9" cy="2321.3" r="3.8"/><circle cx="502.9" cy="2239.5" r="3.8"/><circle cx="485.6" cy="2305.1" r="3.8"/><circle cx="503.8" cy="2326.2" r="3.8"/><circle cx="494.4" cy="2290.1" r="3.8"/><circle cx="513.4" cy="2302.3" r="3.8"/><circle cx="515.7" cy="2312.9" r="3.8"/><circle cx="520.1" cy="2321.4" r="3.8"/><circle cx="487.1" cy="2335.7" r="3.8"/><circle cx="498.2" cy="2295.7" r="3.8"/><circle cx="492.9" cy="2301.8" r="3.8"/><circle cx="506.1" cy="2292.5" r="3.8"/><circle cx="499.2" cy="2322.9" r="3.8"/><circle cx="519.4" cy="2309.5" r="3.8"/><circle cx="484.7" cy="2300.9" r="3.8"/><circle cx="489" cy="2288.9" r="3.8"/><circle cx="512.9" cy="2331.8" r="3.8"/><circle cx="515.4" cy="2326.4" r="3.8"/><circle cx="499.8" cy="2351.4" r="3.8"/><circle cx="496.2" cy="2289.4" r="3.8"/><circle cx="493.5" cy="2316.5" r="3.8"/><circle cx="484.2" cy="2303.9" r="3.8"/><circle cx="494.7" cy="2278" r="3.8"/><circle cx="483.8" cy="2314.1" r="3.8"/><circle cx="494.7" cy="2320.2" r="3.8"/><circle cx="505.5" cy="2265.5" r="3.8"/><circle cx="510.8" cy="2324.4" r="3.8"/><circle cx="488.6" cy="2336.8" r="3.8"/><circle cx="495" cy="2347.4" r="3.8"/><circle cx="491.6" cy="2298.9" r="3.8"/><circle cx="506.5" cy="2334.2" r="3.8"/><circle cx="494.3" cy="2298.2" r="3.8"/><circle cx="501.2" cy="2306.6" r="3.8"/><circle cx="500.5" cy="2334.5" r="3.8"/><circle cx="492.4" cy="2329.3" r="3.8"/><circle cx="496.1" cy="2310.1" r="3.8"/><circle cx="496.9" cy="2267.6" r="3.8"/><circle cx="490.1" cy="2279.9" r="3.8"/><circle cx="516.6" cy="2326.3" r="3.8"/><circle cx="493" cy="2339.5" r="3.8"/><circle cx="495.6" cy="2252.1" r="3.8"/><circle cx="493.6" cy="2312.6" r="3.8"/><circle cx="511.5" cy="2339.7" r="3.8"/><circle cx="514.5" cy="2312.8" r="3.8"/><circle cx="506.9" cy="2344.7" r="3.8"/><circle cx="497.4" cy="2349.4" r="3.8"/><circle cx="491" cy="2330.4" r="3.8"/><circle cx="518.1" cy="2314.4" r="3.8"/><circle cx="505" cy="2321.1" r="3.8"/><circle cx="496.6" cy="2235.2" r="3.8"/><circle cx="499.8" cy="2264.8" r="3.8"/><circle cx="502.9" cy="2291.8" r="3.8"/><circle cx="492.4" cy="2312.4" r="3.8"/><circle cx="493.4" cy="2294.6" r="3.8"/><circle cx="496.9" cy="2304.5" r="3.8"/><circle cx="490.7" cy="2278.5" r="3.8"/><circle cx="509.6" cy="2321.5" r="3.8"/><circle cx="501.2" cy="2330.5" r="3.8"/><circle cx="501.4" cy="2338.6" r="3.8"/><circle cx="499.8" cy="2218.4" r="3.8"/><circle cx="507.1" cy="2332.3" r="3.8"/><circle cx="514.8" cy="2317.4" r="3.8"/><circle cx="494.5" cy="2334.8" r="3.8"/><circle cx="509.8" cy="2318" r="3.8"/><circle cx="493" cy="2334.3" r="3.8"/><circle cx="502.2" cy="2314.1" r="3.8"/><circle cx="487.5" cy="2321.8" r="3.8"/><circle cx="493.9" cy="2326.9" r="3.8"/><circle cx="505.1" cy="2286.8" r="3.8"/><circle cx="508.8" cy="2273.8" r="3.8"/><circle cx="509.6" cy="2304.6" r="3.8"/><circle cx="499.8" cy="2184.7" r="3.8"/><circle cx="503.5" cy="2334.9" r="3.8"/><circle cx="498.1" cy="2343.1" r="3.8"/><circle cx="498.5" cy="2313.5" r="3.8"/><circle cx="494.8" cy="2312.7" r="3.8"/><circle cx="514.8" cy="2302.3" r="3.8"/><circle cx="504.7" cy="2359.5" r="3.8"/><circle cx="517.3" cy="2319.5" r="3.8"/><circle cx="506.6" cy="2298.6" r="3.8"/><circle cx="508.3" cy="2313.6" r="3.8"/><circle cx="516.1" cy="2319.6" r="3.8"/><circle cx="502.3" cy="2316.1" r="3.8"/><circle cx="482.2" cy="2318.5" r="3.8"/><circle cx="511" cy="2305.5" r="3.8"/><circle cx="508.5" cy="2328.3" r="3.8"/><circle cx="496.9" cy="2352.6" r="3.8"/><circle cx="501" cy="2312.7" r="3.8"/><circle cx="481.7" cy="2322.6" r="3.8"/><circle cx="505.2" cy="2302.1" r="3.8"/><circle cx="502.9" cy="2224.7" r="3.8"/><circle cx="500.8" cy="2274.9" r="3.8"/><circle cx="485.1" cy="2328.2" r="3.8"/><circle cx="508.7" cy="2287.9" r="3.8"/><circle cx="499.8" cy="2307.6" r="3.8"/><circle cx="502" cy="2336.4" r="3.8"/><circle cx="485" cy="2311.9" r="3.8"/><circle cx="486.4" cy="2324.2" r="3.8"/><circle cx="501.3" cy="2295.2" r="3.8"/><circle cx="498.1" cy="2356.6" r="3.8"/><circle cx="490.8" cy="2288.7" r="3.8"/><circle cx="499.8" cy="2348.3" r="3.8"/><circle cx="502.9" cy="2214.2" r="3.8"/><circle cx="501.5" cy="2320.7" r="3.8"/><circle cx="496.8" cy="2324" r="3.8"/><circle cx="485.9" cy="2318.2" r="3.8"/><circle cx="487.1" cy="2307.6" r="3.8"/><circle cx="496" cy="2336" r="3.8"/><circle cx="504.8" cy="2317.9" r="3.8"/><circle cx="506.1" cy="2326.2" r="3.8"/><circle cx="509.8" cy="2341.1" r="3.8"/><circle cx="488.4" cy="2320.5" r="3.8"/><circle cx="500.3" cy="2320.7" r="3.8"/><circle cx="499.8" cy="2245.8" r="3.8"/><circle cx="494.1" cy="2307.3" r="3.8"/><circle cx="487.5" cy="2309.3" r="3.8"/><circle cx="496.6" cy="2243.7" r="3.8"/><circle cx="484.1" cy="2324.6" r="3.8"/><circle cx="518.6" cy="2320.3" r="3.8"/><circle cx="498.3" cy="2330.8" r="3.8"/><circle cx="505.5" cy="2351.8" r="3.8"/><circle cx="479.4" cy="2325.4" r="3.8"/><circle cx="506" cy="2320" r="3.8"/><circle cx="491.2" cy="2310.6" r="3.8"/><circle cx="504" cy="2305.8" r="3.8"/><circle cx="487.5" cy="2298.6" r="3.8"/><circle cx="496.6" cy="2363.7" r="3.8"/><circle cx="492.1" cy="2280.9" r="3.8"/><circle cx="509.6" cy="2312.6" r="3.8"/><circle cx="494" cy="2266.3" r="3.8"/><circle cx="489.9" cy="2325.1" r="3.8"/><circle cx="516.1" cy="2298.6" r="3.8"/><circle cx="512.3" cy="2317" r="3.8"/><circle cx="503.5" cy="2317.4" r="3.8"/><circle cx="509.4" cy="2333.8" r="3.8"/><circle cx="497.3" cy="2312.7" r="3.8"/><circle cx="492.7" cy="2275.3" r="3.8"/><circle cx="492.6" cy="2344.5" r="3.8"/><circle cx="505.4" cy="2307.4" r="3.8"/><circle cx="510.7" cy="2302" r="3.8"/><circle cx="505.5" cy="2279.6" r="3.8"/><circle cx="490.2" cy="2295.4" r="3.8"/><circle cx="501.1" cy="2299.7" r="3.8"/><circle cx="499.8" cy="2291.6" r="3.8"/><circle cx="507.1" cy="2312.2" r="3.8"/><circle cx="509.3" cy="2298.4" r="3.8"/><circle cx="502.9" cy="2365.8" r="3.8"/><circle cx="490.2" cy="2298.4" r="3.8"/><circle cx="498.4" cy="2300.4" r="3.8"/><circle cx="496.6" cy="2256.3" r="3.8"/><circle cx="502.5" cy="2302.5" r="3.8"/><circle cx="499.8" cy="2282.3" r="3.8"/><circle cx="484.7" cy="2320.3" r="3.8"/><circle cx="510.9" cy="2337.6" r="3.8"/><circle cx="485.6" cy="2335.1" r="3.8"/><circle cx="503.6" cy="2280.9" r="3.8"/><circle cx="503.9" cy="2250" r="3.8"/><circle cx="511.4" cy="2327.2" r="3.8"/><circle cx="504.8" cy="2274.5" r="3.8"/><circle cx="496.4" cy="2340.2" r="3.8"/><circle cx="487" cy="2296" r="3.8"/><circle cx="502.6" cy="2264.5" r="3.8"/><circle cx="502.6" cy="2351" r="3.8"/><circle cx="502.8" cy="2278.6" r="3.8"/><circle cx="499.8" cy="2164.7" r="3.8"/><circle cx="491" cy="2320" r="3.8"/><circle cx="486.6" cy="2328.1" r="3.8"/><circle cx="501.4" cy="2269.8" r="3.8"/><circle cx="492.2" cy="2322.2" r="3.8"/><circle cx="497.5" cy="2334.1" r="3.8"/><circle cx="505" cy="2333.6" r="3.8"/><circle cx="513.2" cy="2313.3" r="3.8"/><circle cx="480.1" cy="2314.7" r="3.8"/><circle cx="504.7" cy="2312.9" r="3.8"/><circle cx="504.7" cy="2270.9" r="3.8"/><circle cx="480.6" cy="2324.8" r="3.8"/><circle cx="499.8" cy="2326.7" r="3.8"/><circle cx="499.8" cy="2203.7" r="3.8"/><circle cx="491.8" cy="2295.8" r="3.8"/><circle cx="510.8" cy="2312.8" r="3.8"/><circle cx="515.3" cy="2304.5" r="3.8"/><circle cx="499.8" cy="2301.5" r="3.8"/><circle cx="501.5" cy="2285.8" r="3.8"/><circle cx="491.4" cy="2341.7" r="3.8"/><circle cx="488.6" cy="2296.6" r="3.8"/><circle cx="483.4" cy="2297.9" r="3.8"/><circle cx="508.2" cy="2306.8" r="3.8"/><circle cx="496" cy="2317.6" r="3.8"/><circle cx="498.7" cy="2276.9" r="3.8"/><circle cx="495.4" cy="2327.7" r="3.8"/><circle cx="489.7" cy="2340.3" r="3.8"/><circle cx="488.7" cy="2314.7" r="3.8"/><circle cx="495" cy="2295.9" r="3.8"/><circle cx="489.7" cy="2318.9" r="3.8"/><circle cx="506.9" cy="2287.7" r="3.8"/><circle cx="498.1" cy="2268.6" r="3.8"/><circle cx="482.9" cy="2323.6" r="3.8"/><circle cx="503.1" cy="2341.5" r="3.8"/><circle cx="499" cy="2333.6" r="3.8"/><circle cx="502.9" cy="2233.1" r="3.8"/></g>
<g fill="#1446f5" stroke="#000" stroke-width="1"><circle cx="546.6" cy="2312.8" r="3.8"/><circle cx="559.6" cy="2341.9" r="3.8"/><circle cx="568.8" cy="2342.5" r="3.8"/><circle cx="571.2" cy="2314.2" r="3.8"/><circle cx="556.5" cy="2323.9" r="3.8"/><circle cx="562.7" cy="2298.9" r="3.8"/><circle cx="577.7" cy="2331.8" r="3.8"/><circle cx="569" cy="2252.1" r="3.8"/><circle cx="574.4" cy="2324.3" r="3.8"/><circle cx="561.2" cy="2331.4" r="3.8"/><circle cx="561.2" cy="2289.4" r="3.8"/><circle cx="558.5" cy="2296.5" r="3.8"/><circle cx="575" cy="2331.7" r="3.8"/><circle cx="553" cy="2325.4" r="3.8"/><circle cx="544.5" cy="2310.5" r="3.8"/><circle cx="557.1" cy="2328.7" r="3.8"/><circle cx="570.3" cy="2281" r="3.8"/><circle cx="584.2" cy="2297.9" r="3.8"/><circle cx="566.6" cy="2317.6" r="3.8"/><circle cx="568.1" cy="2330.2" r="3.8"/><circle cx="557.1" cy="2287.9" r="3.8"/><circle cx="565.1" cy="2343.8" r="3.8"/><circle cx="576.8" cy="2334" r="3.8"/><circle cx="554.7" cy="2302.8" r="3.8"/><circle cx="566" cy="2326" r="3.8"/><circle cx="562.6" cy="2327.3" r="3.8"/><circle cx="569" cy="2256.3" r="3.8"/><circle cx="555.2" cy="2319.4" r="3.8"/><circle cx="569.5" cy="2285.6" r="3.8"/><circle cx="555.9" cy="2302.5" r="3.8"/><circle cx="559.3" cy="2299.7" r="3.8"/><circle cx="568.4" cy="2323" r="3.8"/><circle cx="583.8" cy="2319.7" r="3.8"/><circle cx="574.4" cy="2342.4" r="3.8"/><circle cx="561" cy="2338" r="3.8"/><circle cx="571.7" cy="2301.9" r="3.8"/><circle cx="558.1" cy="2299.1" r="3.8"/><circle cx="564" cy="2290.5" r="3.8"/><circle cx="576.4" cy="2291.1" r="3.8"/><circle cx="559.9" cy="2294.3" r="3.8"/><circle cx="554.2" cy="2322.6" r="3.8"/><circle cx="562.5" cy="2271.5" r="3.8"/><circle cx="560.4" cy="2298.3" r="3.8"/><circle cx="553" cy="2292.6" r="3.8"/><circle cx="581.5" cy="2317" r="3.8"/><circle cx="561" cy="2306.1" r="3.8"/><circle cx="584.5" cy="2313.8" r="3.8"/><circle cx="573.2" cy="2322" r="3.8"/><circle cx="563.1" cy="2258.4" r="3.8"/><circle cx="558.9" cy="2311.9" r="3.8"/><circle cx="564" cy="2328.5" r="3.8"/><circle cx="547.6" cy="2309.7" r="3.8"/><circle cx="576.3" cy="2313.7" r="3.8"/><circle cx="575" cy="2296.8" r="3.8"/><circle cx="551.8" cy="2322" r="3.8"/><circle cx="570.1" cy="2316.9" r="3.8"/><circle cx="560.7" cy="2347.2" r="3.8"/><circle cx="566.8" cy="2336.9" r="3.8"/><circle cx="573.7" cy="2280.7" r="3.8"/><circle cx="577.4" cy="2299.2" r="3.8"/><circle cx="549.7" cy="2312.6" r="3.8"/><circle cx="566" cy="2347.9" r="3.8"/><circle cx="547.9" cy="2299" r="3.8"/><circle cx="554.8" cy="2312.5" r="3.8"/><circle cx="563.1" cy="2370" r="3.8"/><circle cx="555.7" cy="2294.2" r="3.8"/><circle cx="553.8" cy="2333.1" r="3.8"/><circle cx="559.9" cy="2310.5" r="3.8"/><circle cx="566" cy="2247.9" r="3.8"/><circle cx="550.6" cy="2317.5" r="3.8"/><circle cx="566.7" cy="2290.3" r="3.8"/><circle cx="573.6" cy="2295.3" r="3.8"/><circle cx="563.1" cy="2361.6" r="3.8"/><circle cx="560.9" cy="2312.9" r="3.8"/><circle cx="578.3" cy="2335.1" r="3.8"/><circle cx="566.7" cy="2292.5" r="3.8"/><circle cx="558.5" cy="2330.2" r="3.8"/><circle cx="580.3" cy="2323.5" r="3.8"/><circle cx="574.9" cy="2273.1" r="3.8"/><circle cx="571.4" cy="2344.9" r="3.8"/><circle cx="582.7" cy="2323.2" r="3.8"/><circle cx="562.6" cy="2291.5" r="3.8"/><circle cx="573.3" cy="2274.6" r="3.8"/><circle cx="581.9" cy="2297.3" r="3.8"/><circle cx="566" cy="2222.6" r="3.8"/><circle cx="565.4" cy="2293.1" r="3.8"/><circle cx="559.8" cy="2307.8" r="3.8"/><circle cx="549.5" cy="2319.8" r="3.8"/><circle cx="567.2" cy="2300.8" r="3.8"/><circle cx="563.1" cy="2204.7" r="3.8"/><circle cx="577.7" cy="2290.8" r="3.8"/><circle cx="572.5" cy="2335.5" r="3.8"/><circle cx="578.5" cy="2302.1" r="3.8"/><circle cx="583" cy="2298.7" r="3.8"/><circle cx="566" cy="2197.3" r="3.8"/><circle cx="561.2" cy="2296.7" r="3.8"/><circle cx="563" cy="2310.5" r="3.8"/><circle cx="568.6" cy="2304.7" r="3.8"/><circle cx="578.6" cy="2306.9" r="3.8"/><circle cx="553" cy="2330.4" r="3.8"/><circle cx="567.3" cy="2307.3" r="3.8"/><circle cx="557" cy="2299.9" r="3.8"/><circle cx="564" cy="2313.4" r="3.8"/><circle cx="556.8" cy="2313.1" r="3.8"/><circle cx="573.6" cy="2290.3" r="3.8"/><circle cx="567" cy="2342.1" r="3.8"/><circle cx="579.1" cy="2321.7" r="3.8"/><circle cx="586.5" cy="2311.5" r="3.8"/><circle cx="572.2" cy="2312.2" r="3.8"/><circle cx="563" cy="2277" r="3.8"/><circle cx="568.2" cy="2334.7" r="3.8"/><circle cx="582.4" cy="2308.9" r="3.8"/><circle cx="569.1" cy="2309.4" r="3.8"/><circle cx="581.5" cy="2320.8" r="3.8"/><circle cx="579.1" cy="2291.1" r="3.8"/><circle cx="563.1" cy="2350.6" r="3.8"/><circle cx="570.8" cy="2322.5" r="3.8"/><circle cx="552.2" cy="2308.7" r="3.8"/><circle cx="566" cy="2195.2" r="3.8"/><circle cx="559.8" cy="2315.4" r="3.8"/><circle cx="559.6" cy="2334" r="3.8"/><circle cx="570.9" cy="2332" r="3.8"/><circle cx="566" cy="2309.7" r="3.8"/><circle cx="557.2" cy="2307.8" r="3.8"/><circle cx="570.9" cy="2296.5" r="3.8"/><circle cx="572" cy="2322.1" r="3.8"/><circle cx="545.6" cy="2309.1" r="3.8"/><circle cx="558.9" cy="2320.9" r="3.8"/><circle cx="557.1" cy="2295.8" r="3.8"/><circle cx="562.6" cy="2287.8" r="3.8"/><circle cx="558.2" cy="2333.6" r="3.8"/><circle cx="558.5" cy="2306.8" r="3.8"/><circle cx="572" cy="2283.9" r="3.8"/><circle cx="559.9" cy="2291.1" r="3.8"/><circle cx="572.2" cy="2297.1" r="3.8"/><circle cx="569.1" cy="2273.7" r="3.8"/><circle cx="575.4" cy="2279.8" r="3.8"/><circle cx="552.5" cy="2298.9" r="3.8"/><circle cx="579.4" cy="2314.6" r="3.8"/><circle cx="570.1" cy="2314.7" r="3.8"/><circle cx="566" cy="2365.8" r="3.8"/><circle cx="564.3" cy="2269.8" r="3.8"/><circle cx="551.7" cy="2316.5" r="3.8"/><circle cx="563.5" cy="2283.6" r="3.8"/><circle cx="564.9" cy="2300" r="3.8"/><circle cx="561.8" cy="2283.3" r="3.8"/><circle cx="573.6" cy="2329.9" r="3.8"/><circle cx="577.4" cy="2306.4" r="3.8"/><circle cx="563.5" cy="2303" r="3.8"/><circle cx="569.4" cy="2299.5" r="3.8"/><circle cx="568.6" cy="2281.3" r="3.8"/><circle cx="561.5" cy="2299.6" r="3.8"/><circle cx="573.5" cy="2316.2" r="3.8"/><circle cx="579.9" cy="2306.9" r="3.8"/><circle cx="564.3" cy="2317.1" r="3.8"/><circle cx="554.4" cy="2327.5" r="3.8"/><circle cx="549.1" cy="2299.5" r="3.8"/><circle cx="556" cy="2303.8" r="3.8"/><circle cx="553.6" cy="2302.8" r="3.8"/><circle cx="570.6" cy="2300.2" r="3.8"/><circle cx="550.7" cy="2313.7" r="3.8"/><circle cx="563.8" cy="2301.7" r="3.8"/><circle cx="572.5" cy="2339.3" r="3.8"/><circle cx="575.1" cy="2300.4" r="3.8"/><circle cx="557.9" cy="2313.2" r="3.8"/><circle cx="576.2" cy="2298.6" r="3.8"/><circle cx="573.9" cy="2337.8" r="3.8"/><circle cx="568.7" cy="2346" r="3.8"/><circle cx="580.4" cy="2311" r="3.8"/><circle cx="574.2" cy="2309.8" r="3.8"/><circle cx="560.7" cy="2272.3" r="3.8"/><circle cx="556.7" cy="2280" r="3.8"/><circle cx="574.6" cy="2316.7" r="3.8"/><circle cx="560.1" cy="2322.9" r="3.8"/><circle cx="576.1" cy="2304" r="3.8"/><circle cx="569" cy="2267.5" r="3.8"/><circle cx="565.5" cy="2320.5" r="3.8"/><circle cx="575.8" cy="2318.4" r="3.8"/><circle cx="566" cy="2303.9" r="3.8"/><circle cx="563.9" cy="2337.3" r="3.8"/><circle cx="553" cy="2287" r="3.8"/><circle cx="563.7" cy="2326.1" r="3.8"/><circle cx="569.8" cy="2306.8" r="3.8"/><circle cx="579.2" cy="2318" r="3.8"/><circle cx="566" cy="2236.3" r="3.8"/><circle cx="563.3" cy="2343.5" r="3.8"/><circle cx="554.4" cy="2295.4" r="3.8"/><circle cx="581.4" cy="2314.4" r="3.8"/><circle cx="569.5" cy="2296.6" r="3.8"/><circle cx="578.3" cy="2310.2" r="3.8"/><circle cx="550.9" cy="2308" r="3.8"/><circle cx="585.5" cy="2310.6" r="3.8"/><circle cx="565" cy="2277.1" r="3.8"/><circle cx="578.1" cy="2319.2" r="3.8"/><circle cx="549.4" cy="2325.3" r="3.8"/><circle cx="577.7" cy="2291.5" r="3.8"/><circle cx="569" cy="2220.5" r="3.8"/><circle cx="558.4" cy="2280" r="3.8"/><circle cx="567.2" cy="2326.2" r="3.8"/><circle cx="571.1" cy="2336.9" r="3.8"/><circle cx="561.4" cy="2341" r="3.8"/><circle cx="569" cy="2354" r="3.8"/><circle cx="570.7" cy="2339.4" r="3.8"/><circle cx="572.3" cy="2305.8" r="3.8"/><circle cx="563.1" cy="2254.2" r="3.8"/><circle cx="579.6" cy="2300.5" r="3.8"/><circle cx="568.9" cy="2318.9" r="3.8"/><circle cx="555.7" cy="2287.7" r="3.8"/><circle cx="565.3" cy="2333.8" r="3.8"/><circle cx="573.6" cy="2308.9" r="3.8"/><circle cx="555.3" cy="2338.1" r="3.8"/><circle cx="552.7" cy="2309.6" r="3.8"/><circle cx="577.3" cy="2313.9" r="3.8"/><circle cx="582.6" cy="2317.1" r="3.8"/><circle cx="563.4" cy="2344.6" r="3.8"/><circle cx="554.7" cy="2305.2" r="3.8"/><circle cx="581.2" cy="2303.2" r="3.8"/><circle cx="576.4" cy="2293.9" r="3.8"/><circle cx="550.6" cy="2325.6" r="3.8"/><circle cx="579.1" cy="2328.9" r="3.8"/><circle cx="573.2" cy="2311" r="3.8"/><circle cx="574" cy="2301.3" r="3.8"/><circle cx="555.4" cy="2323.4" r="3.8"/><circle cx="562.5" cy="2336.5" r="3.8"/><circle cx="554" cy="2315.4" r="3.8"/><circle cx="555.8" cy="2311.1" r="3.8"/><circle cx="565" cy="2309.1" r="3.8"/><circle cx="576.9" cy="2317.1" r="3.8"/><circle cx="575.6" cy="2324.2" r="3.8"/><circle cx="568.1" cy="2310.3" r="3.8"/><circle cx="550.2" cy="2298.2" r="3.8"/><circle cx="567.1" cy="2276.7" r="3.8"/><circle cx="570.9" cy="2285.4" r="3.8"/><circle cx="576.7" cy="2326.2" r="3.8"/><circle cx="560.9" cy="2317.7" r="3.8"/><circle cx="564.8" cy="2303.3" r="3.8"/><circle cx="569.6" cy="2324.9" r="3.8"/><circle cx="566" cy="2301.4" r="3.8"/><circle cx="564" cy="2292.8" r="3.8"/><circle cx="564.9" cy="2322.7" r="3.8"/><circle cx="563.1" cy="2219.4" r="3.8"/><circle cx="577.9" cy="2326" r="3.8"/><circle cx="560.9" cy="2274.6" r="3.8"/><circle cx="572.8" cy="2299.2" r="3.8"/><circle cx="575" cy="2289" r="3.8"/><circle cx="551.3" cy="2299.4" r="3.8"/><circle cx="580.4" cy="2317.5" r="3.8"/><circle cx="567.8" cy="2272.4" r="3.8"/><circle cx="551.7" cy="2313.9" r="3.8"/><circle cx="562" cy="2310.2" r="3.8"/><circle cx="579.1" cy="2296.9" r="3.8"/><circle cx="569" cy="2359.5" r="3.8"/><circle cx="565.4" cy="2289.5" r="3.8"/><circle cx="554.4" cy="2287" r="3.8"/><circle cx="569" cy="2207.9" r="3.8"/><circle cx="565.4" cy="2328.3" r="3.8"/><circle cx="571.2" cy="2315.9" r="3.8"/><circle cx="563.2" cy="2315.4" r="3.8"/><circle cx="556.7" cy="2333.7" r="3.8"/><circle cx="566.7" cy="2331.7" r="3.8"/><circle cx="557.5" cy="2320.2" r="3.8"/><circle cx="573.1" cy="2268.1" r="3.8"/><circle cx="567.8" cy="2315.1" r="3.8"/><circle cx="559" cy="2271.2" r="3.8"/><circle cx="569.6" cy="2338.1" r="3.8"/><circle cx="557.7" cy="2323.3" r="3.8"/><circle cx="562" cy="2320.2" r="3.8"/><circle cx="566" cy="2271.4" r="3.8"/><circle cx="580.8" cy="2302.1" r="3.8"/><circle cx="566.9" cy="2281.9" r="3.8"/><circle cx="548.3" cy="2319.7" r="3.8"/><circle cx="566" cy="2184.7" r="3.8"/><circle cx="572.2" cy="2286.5" r="3.8"/><circle cx="557.7" cy="2340.4" r="3.8"/><circle cx="556.3" cy="2315.2" r="3.8"/><circle cx="583.5" cy="2311.1" r="3.8"/><circle cx="568.3" cy="2301.1" r="3.8"/><circle cx="562.3" cy="2305.7" r="3.8"/><circle cx="587.5" cy="2309.5" r="3.8"/><circle cx="548.6" cy="2313.4" r="3.8"/><circle cx="558.6" cy="2318.7" r="3.8"/><circle cx="552.9" cy="2318.9" r="3.8"/><circle cx="567.1" cy="2309.8" r="3.8"/><circle cx="565.2" cy="2284.9" r="3.8"/><circle cx="575.4" cy="2333.4" r="3.8"/><circle cx="568.1" cy="2294" r="3.8"/><circle cx="575.3" cy="2312.6" r="3.8"/><circle cx="555.7" cy="2332" r="3.8"/><circle cx="569.5" cy="2330.3" r="3.8"/><circle cx="559.9" cy="2328.6" r="3.8"/><circle cx="560.1" cy="2280.4" r="3.8"/><circle cx="563.1" cy="2265.5" r="3.8"/><circle cx="561.3" cy="2321.4" r="3.8"/><circle cx="571.2" cy="2273.7" r="3.8"/><circle cx="569" cy="2367.9" r="3.8"/><circle cx="568.1" cy="2286.8" r="3.8"/><circle cx="571.4" cy="2270.8" r="3.8"/><circle cx="558.5" cy="2286.6" r="3.8"/><circle cx="558.8" cy="2278" r="3.8"/><circle cx="566" cy="2163.6" r="3.8"/><circle cx="553.8" cy="2312" r="3.8"/><circle cx="562.5" cy="2322.5" r="3.8"/><circle cx="557.2" cy="2268.9" r="3.8"/><circle cx="572.3" cy="2315.4" r="3.8"/><circle cx="572.2" cy="2328.2" r="3.8"/><circle cx="576.4" cy="2327.2" r="3.8"/><circle cx="574.9" cy="2305.1" r="3.8"/><circle cx="553.5" cy="2307" r="3.8"/><circle cx="571.1" cy="2304.9" r="3.8"/><circle cx="569.6" cy="2269.4" r="3.8"/></g>
<path d="M477.8 2307.9H521.7M499.8 2306.4V2309.4M491.8 2306.4h16M491.8 2309.4h16" stroke="#000" stroke-width="1.8" fill="none"/>
<path d="M544.1 2307.9H588M566 2306.4V2309.4M558 2306.4h16M558 2309.4h16" stroke="#000" stroke-width="1.8" fill="none"/>
<path d="M456.4 2149.3V2384.5M454.7 2382.8H611.5M456.4 2361.6H611.5M499 2382.8v10.5M566.2 2382.8v10.5M456.4 2151h-10.5M456.4 2203.1h-10.5M456.4 2256.2h-10.5M456.4 2308.9h-10.5M456.4 2361.6h-10.5" stroke="#000" stroke-width="3.4" fill="none"/>
<text x="442" y="2166" font-size="26.8" text-anchor="end">10</text>
<text x="442" y="2218.1" font-size="26.8" text-anchor="end">7.5</text>
<text x="442" y="2271.2" font-size="26.8" text-anchor="end">5</text>
<text x="442" y="2323.9" font-size="26.8" text-anchor="end">2.5</text>
<text x="442" y="2376.6" font-size="26.8" text-anchor="end">0</text>
<text transform="translate(397.2 2249) rotate(-90)" font-size="25.2" text-anchor="middle">Mean firing rate (Zscore)</text>
<path d="M499 2150V2135.8H566.2V2150" stroke="#000" stroke-width="1.6" fill="none"/>
<text x="533.7" y="2128.5" font-size="26.6" text-anchor="middle">n.s.</text>
<text transform="translate(511.5 2410.8) rotate(-45)" font-size="26.8" text-anchor="end">Short</text>
<text transform="translate(578 2412.8) rotate(-45)" font-size="26.8" text-anchor="end">Long</text>
<text x="525.3" y="2488" font-size="25.1" text-anchor="middle">CR latency</text>
<text x="613.6" y="2086.9" font-size="36" font-weight="bold" fill="#231f20">k</text>
<path d="M690 2095.7L717.8 2095.7" stroke="#ff2a00" stroke-width="1.6"/>
<circle cx="703.6" cy="2095.7" r="4.6" fill="#ff2a00" stroke="#000" stroke-width="1"/>
<text x="732.7" y="2103.8" font-size="25.4">Latency to CR</text>
<path d="M690 2121L717.8 2121" stroke="#b83df0" stroke-width="1.6"/>
<circle cx="703.6" cy="2121" r="4.6" fill="#b83df0" stroke="#000" stroke-width="1"/>
<text x="732.7" y="2128.7" font-size="25.4">Trial number</text>
<path d="M716.3 2283.3L858.4 2283.3" stroke="#b83df0" stroke-width="1.6"/>
<g fill="#b83df0" stroke="#000" stroke-width="1"><circle cx="716.3" cy="2289" r="4.2"/><circle cx="724.2" cy="2283.3" r="4.2"/><circle cx="732.1" cy="2289.9" r="4.2"/><circle cx="747.9" cy="2289" r="4.2"/><circle cx="763.6" cy="2277" r="4.2"/><circle cx="771.5" cy="2287.4" r="4.2"/><circle cx="779.4" cy="2275.1" r="4.2"/><circle cx="787.3" cy="2273.8" r="4.2"/><circle cx="795.2" cy="2284.6" r="4.2"/><circle cx="803.1" cy="2297.2" r="4.2"/><circle cx="811" cy="2273.8" r="4.2"/><circle cx="818.6" cy="2272.6" r="4.2"/><circle cx="826.8" cy="2279.5" r="4.2"/><circle cx="834.7" cy="2291.5" r="4.2"/><circle cx="842.6" cy="2290.6" r="4.2"/><circle cx="850.5" cy="2285.8" r="4.2"/><circle cx="858.4" cy="2288.1" r="4.2"/></g>
<path d="M740 2187V2380.6M747.9 2300.1V2355.3M755.4 2260.6V2292.2M763.6 2250.5V2277.9M771.5 2262.5v13.9M779.4 2258.7v13.9M787.3 2245.1v13.9M795.2 2253.6v13.9M803.1 2252v13.9M811 2264v13.9M818.6 2275.7v13.9M826.8 2265v13.9M834.7 2268.8v13.9M842.6 2268.8v13.9M850.5 2301.6v13.9M858.4 2289.9v13.9" stroke="#ff1a00" stroke-width="1.5" fill="none"/>
<path d="M740 2274.8L858.4 2280.2" stroke="#ff1a00" stroke-width="1.8"/>
<g fill="#ff1a00" stroke="#000" stroke-width="1"><circle cx="740" cy="2283.3" r="4.2"/><circle cx="747.9" cy="2327.5" r="4.2"/><circle cx="755.4" cy="2275.7" r="4.2"/><circle cx="763.6" cy="2264" r="4.2"/><circle cx="771.5" cy="2269.4" r="4.2"/><circle cx="779.4" cy="2265.6" r="4.2"/><circle cx="787.3" cy="2252" r="4.2"/><circle cx="795.2" cy="2260.6" r="4.2"/><circle cx="803.1" cy="2259" r="4.2"/><circle cx="811" cy="2271" r="4.2"/><circle cx="818.6" cy="2282.7" r="4.2"/><circle cx="826.8" cy="2271.9" r="4.2"/><circle cx="834.7" cy="2275.7" r="4.2"/><circle cx="842.6" cy="2275.7" r="4.2"/><circle cx="850.5" cy="2308.6" r="4.2"/><circle cx="858.4" cy="2296.9" r="4.2"/></g>
<path d="M716.3 2145.5V2383.6M714.9 2382.2H875.3M716.3 2382.2v9M795.2 2382.2v9M873.9 2382.2v9M716.3 2146.9h-10M716.3 2193.6h-10M716.3 2240.7h-10M716.3 2288h-10M716.3 2335.4h-10M716.3 2382.2h-10" stroke="#000" stroke-width="3.4" fill="none"/>
<text x="716" y="2418.5" font-size="26.8" text-anchor="middle">0</text>
<text x="797" y="2418.5" font-size="26.8" text-anchor="middle">0.5</text>
<text x="875" y="2418.5" font-size="26.8" text-anchor="middle">1</text>
<text x="701.1" y="2156.4" font-size="26.8" text-anchor="end">1</text>
<text x="701.1" y="2203.1" font-size="26.8" text-anchor="end">0.8</text>
<text x="701.1" y="2250.2" font-size="26.8" text-anchor="end">0.6</text>
<text x="701.1" y="2297.5" font-size="26.8" text-anchor="end">0.4</text>
<text x="701.1" y="2344.9" font-size="26.8" text-anchor="end">0.2</text>
<text x="701.1" y="2391.7" font-size="26.8" text-anchor="end">0</text>
<text x="796.6" y="2450.5" font-size="25.6" text-anchor="middle">Latency to CR</text>
<text x="793.2" y="2481.6" font-size="25.3" text-anchor="middle">or trial number (norm)</text>
<text transform="translate(658.5 2264.5) rotate(-90)" font-size="26.1" text-anchor="middle">Normalized firing rate</text>
<text x="786.4" y="2352.2" font-size="25.5" font-style="italic" fill="#ff2a00">R<tspan font-size="15" dy="-8">2</tspan><tspan dy="8">= 0.16</tspan></text>
<text x="786.4" y="2373.6" font-size="25.5" font-style="italic" fill="#b83df0">R<tspan font-size="15" dy="-8">2</tspan><tspan dy="8">= 0.11</tspan></text>
</svg>
</body></html>
